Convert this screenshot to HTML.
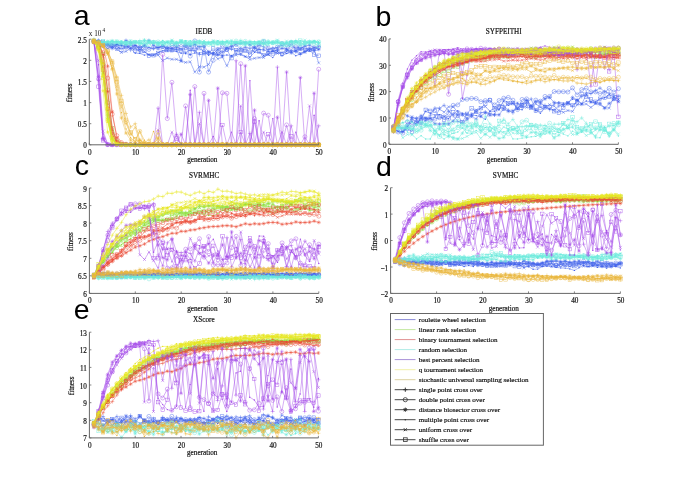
<!DOCTYPE html>
<html><head><meta charset="utf-8"><style>
html,body{margin:0;padding:0;background:#fff;}
body{width:685px;height:490px;overflow:hidden;}
svg{display:block;filter:blur(0.45px);}
</style></head><body>
<svg width="685" height="490" viewBox="0 0 685 490">

<defs>
<marker id="rw_plus" markerUnits="userSpaceOnUse" viewBox="-4 -4 8 8" refX="0" refY="0" markerWidth="8" markerHeight="8" overflow="visible"><path d="M-2.0 0H2.0M0 -2.0V2.0" stroke="#4262ea" stroke-width="0.42"/></marker>
<marker id="rw_circle" markerUnits="userSpaceOnUse" viewBox="-4 -4 8 8" refX="0" refY="0" markerWidth="8" markerHeight="8" overflow="visible"><circle r="2.0" stroke="#4262ea" stroke-width="0.42" fill="none"/></marker>
<marker id="rw_star" markerUnits="userSpaceOnUse" viewBox="-4 -4 8 8" refX="0" refY="0" markerWidth="8" markerHeight="8" overflow="visible"><path d="M-2.0 0H2.0M0 -2.0V2.0M-1.4 -1.4L1.4 1.4M-1.4 1.4L1.4 -1.4" stroke="#4262ea" stroke-width="0.42"/></marker>
<marker id="rw_dot" markerUnits="userSpaceOnUse" viewBox="-4 -4 8 8" refX="0" refY="0" markerWidth="8" markerHeight="8" overflow="visible"><circle r="0.7" fill="#4262ea"/></marker>
<marker id="rw_x" markerUnits="userSpaceOnUse" viewBox="-4 -4 8 8" refX="0" refY="0" markerWidth="8" markerHeight="8" overflow="visible"><path d="M-1.5 -1.5L1.5 1.5M-1.5 1.5L1.5 -1.5" stroke="#4262ea" stroke-width="0.42"/></marker>
<marker id="rw_square" markerUnits="userSpaceOnUse" viewBox="-4 -4 8 8" refX="0" refY="0" markerWidth="8" markerHeight="8" overflow="visible"><rect x="-1.7" y="-1.7" width="3.4" height="3.4" stroke="#4262ea" stroke-width="0.42" fill="none"/></marker>
<marker id="lr_plus" markerUnits="userSpaceOnUse" viewBox="-4 -4 8 8" refX="0" refY="0" markerWidth="8" markerHeight="8" overflow="visible"><path d="M-2.0 0H2.0M0 -2.0V2.0" stroke="#8ee040" stroke-width="0.42"/></marker>
<marker id="lr_circle" markerUnits="userSpaceOnUse" viewBox="-4 -4 8 8" refX="0" refY="0" markerWidth="8" markerHeight="8" overflow="visible"><circle r="2.0" stroke="#8ee040" stroke-width="0.42" fill="none"/></marker>
<marker id="lr_star" markerUnits="userSpaceOnUse" viewBox="-4 -4 8 8" refX="0" refY="0" markerWidth="8" markerHeight="8" overflow="visible"><path d="M-2.0 0H2.0M0 -2.0V2.0M-1.4 -1.4L1.4 1.4M-1.4 1.4L1.4 -1.4" stroke="#8ee040" stroke-width="0.42"/></marker>
<marker id="lr_dot" markerUnits="userSpaceOnUse" viewBox="-4 -4 8 8" refX="0" refY="0" markerWidth="8" markerHeight="8" overflow="visible"><circle r="0.7" fill="#8ee040"/></marker>
<marker id="lr_x" markerUnits="userSpaceOnUse" viewBox="-4 -4 8 8" refX="0" refY="0" markerWidth="8" markerHeight="8" overflow="visible"><path d="M-1.5 -1.5L1.5 1.5M-1.5 1.5L1.5 -1.5" stroke="#8ee040" stroke-width="0.42"/></marker>
<marker id="lr_square" markerUnits="userSpaceOnUse" viewBox="-4 -4 8 8" refX="0" refY="0" markerWidth="8" markerHeight="8" overflow="visible"><rect x="-1.7" y="-1.7" width="3.4" height="3.4" stroke="#8ee040" stroke-width="0.42" fill="none"/></marker>
<marker id="bt_plus" markerUnits="userSpaceOnUse" viewBox="-4 -4 8 8" refX="0" refY="0" markerWidth="8" markerHeight="8" overflow="visible"><path d="M-2.0 0H2.0M0 -2.0V2.0" stroke="#ea4a36" stroke-width="0.42"/></marker>
<marker id="bt_circle" markerUnits="userSpaceOnUse" viewBox="-4 -4 8 8" refX="0" refY="0" markerWidth="8" markerHeight="8" overflow="visible"><circle r="2.0" stroke="#ea4a36" stroke-width="0.42" fill="none"/></marker>
<marker id="bt_star" markerUnits="userSpaceOnUse" viewBox="-4 -4 8 8" refX="0" refY="0" markerWidth="8" markerHeight="8" overflow="visible"><path d="M-2.0 0H2.0M0 -2.0V2.0M-1.4 -1.4L1.4 1.4M-1.4 1.4L1.4 -1.4" stroke="#ea4a36" stroke-width="0.42"/></marker>
<marker id="bt_dot" markerUnits="userSpaceOnUse" viewBox="-4 -4 8 8" refX="0" refY="0" markerWidth="8" markerHeight="8" overflow="visible"><circle r="0.7" fill="#ea4a36"/></marker>
<marker id="bt_x" markerUnits="userSpaceOnUse" viewBox="-4 -4 8 8" refX="0" refY="0" markerWidth="8" markerHeight="8" overflow="visible"><path d="M-1.5 -1.5L1.5 1.5M-1.5 1.5L1.5 -1.5" stroke="#ea4a36" stroke-width="0.42"/></marker>
<marker id="bt_square" markerUnits="userSpaceOnUse" viewBox="-4 -4 8 8" refX="0" refY="0" markerWidth="8" markerHeight="8" overflow="visible"><rect x="-1.7" y="-1.7" width="3.4" height="3.4" stroke="#ea4a36" stroke-width="0.42" fill="none"/></marker>
<marker id="rd_plus" markerUnits="userSpaceOnUse" viewBox="-4 -4 8 8" refX="0" refY="0" markerWidth="8" markerHeight="8" overflow="visible"><path d="M-2.0 0H2.0M0 -2.0V2.0" stroke="#6aeadc" stroke-width="0.42"/></marker>
<marker id="rd_circle" markerUnits="userSpaceOnUse" viewBox="-4 -4 8 8" refX="0" refY="0" markerWidth="8" markerHeight="8" overflow="visible"><circle r="2.0" stroke="#6aeadc" stroke-width="0.42" fill="none"/></marker>
<marker id="rd_star" markerUnits="userSpaceOnUse" viewBox="-4 -4 8 8" refX="0" refY="0" markerWidth="8" markerHeight="8" overflow="visible"><path d="M-2.0 0H2.0M0 -2.0V2.0M-1.4 -1.4L1.4 1.4M-1.4 1.4L1.4 -1.4" stroke="#6aeadc" stroke-width="0.42"/></marker>
<marker id="rd_dot" markerUnits="userSpaceOnUse" viewBox="-4 -4 8 8" refX="0" refY="0" markerWidth="8" markerHeight="8" overflow="visible"><circle r="0.7" fill="#6aeadc"/></marker>
<marker id="rd_x" markerUnits="userSpaceOnUse" viewBox="-4 -4 8 8" refX="0" refY="0" markerWidth="8" markerHeight="8" overflow="visible"><path d="M-1.5 -1.5L1.5 1.5M-1.5 1.5L1.5 -1.5" stroke="#6aeadc" stroke-width="0.42"/></marker>
<marker id="rd_square" markerUnits="userSpaceOnUse" viewBox="-4 -4 8 8" refX="0" refY="0" markerWidth="8" markerHeight="8" overflow="visible"><rect x="-1.7" y="-1.7" width="3.4" height="3.4" stroke="#6aeadc" stroke-width="0.42" fill="none"/></marker>
<marker id="bp_plus" markerUnits="userSpaceOnUse" viewBox="-4 -4 8 8" refX="0" refY="0" markerWidth="8" markerHeight="8" overflow="visible"><path d="M-2.0 0H2.0M0 -2.0V2.0" stroke="#a44ae8" stroke-width="0.42"/></marker>
<marker id="bp_circle" markerUnits="userSpaceOnUse" viewBox="-4 -4 8 8" refX="0" refY="0" markerWidth="8" markerHeight="8" overflow="visible"><circle r="2.0" stroke="#a44ae8" stroke-width="0.42" fill="none"/></marker>
<marker id="bp_star" markerUnits="userSpaceOnUse" viewBox="-4 -4 8 8" refX="0" refY="0" markerWidth="8" markerHeight="8" overflow="visible"><path d="M-2.0 0H2.0M0 -2.0V2.0M-1.4 -1.4L1.4 1.4M-1.4 1.4L1.4 -1.4" stroke="#a44ae8" stroke-width="0.42"/></marker>
<marker id="bp_dot" markerUnits="userSpaceOnUse" viewBox="-4 -4 8 8" refX="0" refY="0" markerWidth="8" markerHeight="8" overflow="visible"><circle r="0.7" fill="#a44ae8"/></marker>
<marker id="bp_x" markerUnits="userSpaceOnUse" viewBox="-4 -4 8 8" refX="0" refY="0" markerWidth="8" markerHeight="8" overflow="visible"><path d="M-1.5 -1.5L1.5 1.5M-1.5 1.5L1.5 -1.5" stroke="#a44ae8" stroke-width="0.42"/></marker>
<marker id="bp_square" markerUnits="userSpaceOnUse" viewBox="-4 -4 8 8" refX="0" refY="0" markerWidth="8" markerHeight="8" overflow="visible"><rect x="-1.7" y="-1.7" width="3.4" height="3.4" stroke="#a44ae8" stroke-width="0.42" fill="none"/></marker>
<marker id="qt_plus" markerUnits="userSpaceOnUse" viewBox="-4 -4 8 8" refX="0" refY="0" markerWidth="8" markerHeight="8" overflow="visible"><path d="M-2.0 0H2.0M0 -2.0V2.0" stroke="#e6e620" stroke-width="0.42"/></marker>
<marker id="qt_circle" markerUnits="userSpaceOnUse" viewBox="-4 -4 8 8" refX="0" refY="0" markerWidth="8" markerHeight="8" overflow="visible"><circle r="2.0" stroke="#e6e620" stroke-width="0.42" fill="none"/></marker>
<marker id="qt_star" markerUnits="userSpaceOnUse" viewBox="-4 -4 8 8" refX="0" refY="0" markerWidth="8" markerHeight="8" overflow="visible"><path d="M-2.0 0H2.0M0 -2.0V2.0M-1.4 -1.4L1.4 1.4M-1.4 1.4L1.4 -1.4" stroke="#e6e620" stroke-width="0.42"/></marker>
<marker id="qt_dot" markerUnits="userSpaceOnUse" viewBox="-4 -4 8 8" refX="0" refY="0" markerWidth="8" markerHeight="8" overflow="visible"><circle r="0.7" fill="#e6e620"/></marker>
<marker id="qt_x" markerUnits="userSpaceOnUse" viewBox="-4 -4 8 8" refX="0" refY="0" markerWidth="8" markerHeight="8" overflow="visible"><path d="M-1.5 -1.5L1.5 1.5M-1.5 1.5L1.5 -1.5" stroke="#e6e620" stroke-width="0.42"/></marker>
<marker id="qt_square" markerUnits="userSpaceOnUse" viewBox="-4 -4 8 8" refX="0" refY="0" markerWidth="8" markerHeight="8" overflow="visible"><rect x="-1.7" y="-1.7" width="3.4" height="3.4" stroke="#e6e620" stroke-width="0.42" fill="none"/></marker>
<marker id="sus_plus" markerUnits="userSpaceOnUse" viewBox="-4 -4 8 8" refX="0" refY="0" markerWidth="8" markerHeight="8" overflow="visible"><path d="M-2.0 0H2.0M0 -2.0V2.0" stroke="#e9b63c" stroke-width="0.42"/></marker>
<marker id="sus_circle" markerUnits="userSpaceOnUse" viewBox="-4 -4 8 8" refX="0" refY="0" markerWidth="8" markerHeight="8" overflow="visible"><circle r="2.0" stroke="#e9b63c" stroke-width="0.42" fill="none"/></marker>
<marker id="sus_star" markerUnits="userSpaceOnUse" viewBox="-4 -4 8 8" refX="0" refY="0" markerWidth="8" markerHeight="8" overflow="visible"><path d="M-2.0 0H2.0M0 -2.0V2.0M-1.4 -1.4L1.4 1.4M-1.4 1.4L1.4 -1.4" stroke="#e9b63c" stroke-width="0.42"/></marker>
<marker id="sus_dot" markerUnits="userSpaceOnUse" viewBox="-4 -4 8 8" refX="0" refY="0" markerWidth="8" markerHeight="8" overflow="visible"><circle r="0.7" fill="#e9b63c"/></marker>
<marker id="sus_x" markerUnits="userSpaceOnUse" viewBox="-4 -4 8 8" refX="0" refY="0" markerWidth="8" markerHeight="8" overflow="visible"><path d="M-1.5 -1.5L1.5 1.5M-1.5 1.5L1.5 -1.5" stroke="#e9b63c" stroke-width="0.42"/></marker>
<marker id="sus_square" markerUnits="userSpaceOnUse" viewBox="-4 -4 8 8" refX="0" refY="0" markerWidth="8" markerHeight="8" overflow="visible"><rect x="-1.7" y="-1.7" width="3.4" height="3.4" stroke="#e9b63c" stroke-width="0.42" fill="none"/></marker>
</defs>
<polyline points="93.9,41.0 98.5,40.5 103.1,42.9 107.7,44.7 112.2,46.4 116.8,45.0 121.4,45.8 126.0,44.6 130.6,50.1 135.2,45.5 139.8,46.8 144.4,45.9 148.9,47.5 153.5,48.7 158.1,47.5 162.7,45.9 167.3,47.4 171.9,48.2 176.5,46.7 181.1,49.4 185.6,52.6 190.2,50.0 194.8,51.0 199.4,54.5 204.0,54.0 208.6,52.9 213.2,53.9 217.8,55.2 222.4,52.4 226.9,48.7 231.5,49.1 236.1,50.6 240.7,48.8 245.3,47.0 249.9,48.3 254.5,47.0 259.1,45.1 263.6,46.9 268.2,49.5 272.8,48.2 277.4,47.7 282.0,45.4 286.6,49.6 291.2,50.7 295.8,51.8 300.3,54.5 304.9,51.8 309.5,49.2 314.1,50.6 318.7,46.5" fill="none" stroke="#4262ea" stroke-width="0.45" marker-start="url(#rw_plus)" marker-mid="url(#rw_plus)" marker-end="url(#rw_plus)"/>
<polyline points="93.9,41.4 98.5,41.3 103.1,45.9 107.7,44.2 112.2,43.4 116.8,48.6 121.4,46.8 126.0,47.3 130.6,45.3 135.2,47.1 139.8,47.4 144.4,46.8 148.9,49.4 153.5,47.3 158.1,47.7 162.7,46.6 167.3,48.3 171.9,45.5 176.5,45.0 181.1,46.5 185.6,45.5 190.2,56.1 194.8,40.9 199.4,72.1 204.0,45.4 208.6,72.1 213.2,60.3 217.8,49.4 222.4,45.7 226.9,49.5 231.5,47.5 236.1,44.5 240.7,49.6 245.3,49.6 249.9,51.9 254.5,49.7 259.1,45.3 263.6,41.5 268.2,48.2 272.8,49.4 277.4,47.1 282.0,43.6 286.6,44.3 291.2,47.4 295.8,46.8 300.3,47.2 304.9,47.9 309.5,49.6 314.1,47.9 318.7,47.1" fill="none" stroke="#4262ea" stroke-width="0.45" marker-start="url(#rw_circle)" marker-mid="url(#rw_circle)" marker-end="url(#rw_circle)"/>
<polyline points="93.9,40.5 98.5,47.1 103.1,43.4 107.7,44.6 112.2,48.4 116.8,44.2 121.4,43.7 126.0,40.5 130.6,42.5 135.2,45.4 139.8,49.6 144.4,45.7 148.9,40.6 153.5,45.3 158.1,47.7 162.7,46.3 167.3,48.7 171.9,48.9 176.5,49.2 181.1,60.7 185.6,45.3 190.2,46.1 194.8,44.5 199.4,46.7 204.0,46.3 208.6,51.9 213.2,53.6 217.8,49.3 222.4,56.1 226.9,47.6 231.5,46.3 236.1,43.7 240.7,43.3 245.3,42.6 249.9,44.8 254.5,47.6 259.1,49.3 263.6,49.8 268.2,51.5 272.8,51.2 277.4,50.0 282.0,48.4 286.6,48.9 291.2,52.9 295.8,50.9 300.3,49.0 304.9,45.9 309.5,45.2 314.1,47.7 318.7,49.3" fill="none" stroke="#4262ea" stroke-width="0.45" marker-start="url(#rw_star)" marker-mid="url(#rw_star)" marker-end="url(#rw_star)"/>
<polyline points="93.9,41.2 98.5,40.5 103.1,42.7 107.7,43.6 112.2,44.3 116.8,44.8 121.4,45.4 126.0,46.9 130.6,48.2 135.2,53.2 139.8,53.4 144.4,55.1 148.9,54.5 153.5,55.0 158.1,52.7 162.7,50.9 167.3,51.0 171.9,51.1 176.5,51.6 181.1,53.2 185.6,53.5 190.2,54.5 194.8,53.0 199.4,53.0 204.0,51.6 208.6,55.3 213.2,52.3 217.8,54.4 222.4,55.6 226.9,55.0 231.5,55.5 236.1,53.8 240.7,54.9 245.3,56.7 249.9,57.2 254.5,52.4 259.1,52.6 263.6,55.5 268.2,54.5 272.8,57.6 277.4,51.5 282.0,55.7 286.6,53.5 291.2,52.0 295.8,55.8 300.3,54.0 304.9,51.2 309.5,50.8 314.1,51.1 318.7,49.6" fill="none" stroke="#4262ea" stroke-width="0.45" marker-start="url(#rw_dot)" marker-mid="url(#rw_dot)" marker-end="url(#rw_dot)"/>
<polyline points="93.9,41.1 98.5,45.7 103.1,44.8 107.7,48.3 112.2,46.8 116.8,49.3 121.4,52.5 126.0,51.4 130.6,48.0 135.2,48.0 139.8,52.0 144.4,51.8 148.9,54.8 153.5,55.3 158.1,55.1 162.7,60.6 167.3,58.0 171.9,59.3 176.5,59.3 181.1,61.2 185.6,62.4 190.2,61.8 194.8,72.1 199.4,66.7 204.0,67.1 208.6,64.5 213.2,53.7 217.8,58.9 222.4,57.1 226.9,65.8 231.5,56.3 236.1,55.1 240.7,53.8 245.3,56.4 249.9,59.4 254.5,58.3 259.1,57.6 263.6,57.5 268.2,54.2 272.8,50.6 277.4,53.4 282.0,52.5 286.6,51.4 291.2,51.2 295.8,50.4 300.3,53.2 304.9,52.3 309.5,48.7 314.1,49.4 318.7,62.9" fill="none" stroke="#4262ea" stroke-width="0.45" marker-start="url(#rw_x)" marker-mid="url(#rw_x)" marker-end="url(#rw_x)"/>
<polyline points="93.9,41.1 98.5,45.2 103.1,41.8 107.7,46.6 112.2,45.6 116.8,46.4 121.4,49.9 126.0,46.5 130.6,46.8 135.2,50.8 139.8,49.2 144.4,50.9 148.9,55.7 153.5,55.3 158.1,52.8 162.7,50.5 167.3,50.2 171.9,50.3 176.5,49.3 181.1,50.4 185.6,47.7 190.2,48.6 194.8,48.7 199.4,48.2 204.0,51.7 208.6,53.0 213.2,48.5 217.8,54.0 222.4,50.1 226.9,49.5 231.5,58.2 236.1,50.3 240.7,52.0 245.3,50.8 249.9,54.5 254.5,49.8 259.1,51.4 263.6,54.9 268.2,53.7 272.8,53.4 277.4,51.9 282.0,54.2 286.6,51.8 291.2,42.8 295.8,49.0 300.3,48.9 304.9,50.3 309.5,50.0 314.1,54.6 318.7,55.7" fill="none" stroke="#4262ea" stroke-width="0.45" marker-start="url(#rw_square)" marker-mid="url(#rw_square)" marker-end="url(#rw_square)"/>
<polyline points="93.9,41.6 98.5,47.7 103.1,74.2 107.7,118.1 112.2,139.2 116.8,143.8 121.4,144.6 126.0,144.8 130.6,144.8 135.2,144.8 139.8,144.8 144.4,144.8 148.9,144.8 153.5,144.8 158.1,144.8 162.7,144.8 167.3,144.8 171.9,144.8 176.5,144.8 181.1,144.8 185.6,144.8 190.2,144.8 194.8,144.8 199.4,144.8 204.0,144.8 208.6,144.8 213.2,144.8 217.8,144.8 222.4,144.8 226.9,144.8 231.5,144.8 236.1,144.8 240.7,144.8 245.3,144.8 249.9,144.8 254.5,144.8 259.1,144.8 263.6,144.8 268.2,144.8 272.8,144.8 277.4,144.8 282.0,144.8 286.6,144.8 291.2,144.8 295.8,144.8 300.3,144.8 304.9,144.8 309.5,144.8 314.1,144.8 318.7,144.8" fill="none" stroke="#8ee040" stroke-width="0.45" marker-start="url(#lr_plus)" marker-mid="url(#lr_plus)" marker-end="url(#lr_plus)"/>
<polyline points="93.9,40.1 98.5,46.2 103.1,64.5 107.7,102.6 112.2,132.0 116.8,141.9 121.4,144.2 126.0,144.7 130.6,144.8 135.2,144.8 139.8,144.8 144.4,144.8 148.9,144.8 153.5,144.8 158.1,144.8 162.7,144.8 167.3,144.8 171.9,144.8 176.5,144.8 181.1,144.8 185.6,144.8 190.2,144.8 194.8,144.8 199.4,144.8 204.0,144.8 208.6,144.8 213.2,144.8 217.8,144.8 222.4,144.8 226.9,144.8 231.5,144.8 236.1,144.8 240.7,144.8 245.3,144.8 249.9,144.8 254.5,144.8 259.1,144.8 263.6,144.8 268.2,144.8 272.8,144.8 277.4,144.8 282.0,144.8 286.6,144.8 291.2,144.8 295.8,144.8 300.3,144.8 304.9,144.8 309.5,144.8 314.1,144.8 318.7,144.8" fill="none" stroke="#8ee040" stroke-width="0.45" marker-start="url(#lr_circle)" marker-mid="url(#lr_circle)" marker-end="url(#lr_circle)"/>
<polyline points="93.9,41.3 98.5,47.9 103.1,73.1 107.7,115.3 112.2,137.8 116.8,143.5 121.4,144.6 126.0,144.8 130.6,144.8 135.2,144.8 139.8,144.8 144.4,144.8 148.9,144.8 153.5,144.8 158.1,144.8 162.7,144.8 167.3,144.8 171.9,144.8 176.5,144.8 181.1,144.8 185.6,144.8 190.2,144.8 194.8,144.8 199.4,144.8 204.0,144.8 208.6,144.8 213.2,144.8 217.8,144.8 222.4,144.8 226.9,144.8 231.5,144.8 236.1,144.8 240.7,144.8 245.3,144.8 249.9,144.8 254.5,144.8 259.1,144.8 263.6,144.8 268.2,144.8 272.8,144.8 277.4,144.8 282.0,144.8 286.6,144.8 291.2,144.8 295.8,144.8 300.3,144.8 304.9,144.8 309.5,144.8 314.1,144.8 318.7,144.8" fill="none" stroke="#8ee040" stroke-width="0.45" marker-start="url(#lr_star)" marker-mid="url(#lr_star)" marker-end="url(#lr_star)"/>
<polyline points="93.9,41.3 98.5,45.7 103.1,66.3 107.7,110.5 112.2,137.2 116.8,143.5 121.4,144.6 126.0,144.8 130.6,144.8 135.2,144.8 139.8,144.8 144.4,144.8 148.9,144.8 153.5,144.8 158.1,144.8 162.7,144.8 167.3,144.8 171.9,144.8 176.5,144.8 181.1,144.8 185.6,144.8 190.2,144.8 194.8,144.8 199.4,144.8 204.0,144.8 208.6,144.8 213.2,144.8 217.8,144.8 222.4,144.8 226.9,144.8 231.5,144.8 236.1,144.8 240.7,144.8 245.3,144.8 249.9,144.8 254.5,144.8 259.1,144.8 263.6,144.8 268.2,144.8 272.8,144.8 277.4,144.8 282.0,144.8 286.6,144.8 291.2,144.8 295.8,144.8 300.3,144.8 304.9,144.8 309.5,144.8 314.1,144.8 318.7,144.8" fill="none" stroke="#8ee040" stroke-width="0.45" marker-start="url(#lr_dot)" marker-mid="url(#lr_dot)" marker-end="url(#lr_dot)"/>
<polyline points="93.9,40.2 98.5,49.1 103.1,77.2 107.7,119.1 112.2,139.0 116.8,143.7 121.4,144.6 126.0,144.8 130.6,144.8 135.2,144.8 139.8,144.8 144.4,144.8 148.9,144.8 153.5,144.8 158.1,144.8 162.7,144.8 167.3,144.8 171.9,144.8 176.5,144.8 181.1,144.8 185.6,144.8 190.2,144.8 194.8,144.8 199.4,144.8 204.0,144.8 208.6,144.8 213.2,144.8 217.8,144.8 222.4,144.8 226.9,144.8 231.5,144.8 236.1,144.8 240.7,144.8 245.3,144.8 249.9,144.8 254.5,144.8 259.1,144.8 263.6,144.8 268.2,144.8 272.8,144.8 277.4,144.8 282.0,144.8 286.6,144.8 291.2,144.8 295.8,144.8 300.3,144.8 304.9,144.8 309.5,144.8 314.1,144.8 318.7,144.8" fill="none" stroke="#8ee040" stroke-width="0.45" marker-start="url(#lr_x)" marker-mid="url(#lr_x)" marker-end="url(#lr_x)"/>
<polyline points="93.9,41.4 98.5,43.3 103.1,54.1 107.7,89.8 112.2,128.6 116.8,141.7 121.4,144.3 126.0,144.7 130.6,144.8 135.2,144.8 139.8,144.8 144.4,144.8 148.9,144.8 153.5,144.8 158.1,144.8 162.7,144.8 167.3,144.8 171.9,144.8 176.5,144.8 181.1,144.8 185.6,144.8 190.2,144.8 194.8,144.8 199.4,144.8 204.0,144.8 208.6,144.8 213.2,144.8 217.8,144.8 222.4,144.8 226.9,144.8 231.5,144.8 236.1,144.8 240.7,144.8 245.3,144.8 249.9,144.8 254.5,144.8 259.1,144.8 263.6,144.8 268.2,144.8 272.8,144.8 277.4,144.8 282.0,144.8 286.6,144.8 291.2,144.8 295.8,144.8 300.3,144.8 304.9,144.8 309.5,144.8 314.1,144.8 318.7,144.8" fill="none" stroke="#8ee040" stroke-width="0.45" marker-start="url(#lr_square)" marker-mid="url(#lr_square)" marker-end="url(#lr_square)"/>
<polyline points="93.9,41.4 98.5,43.3 103.1,54.5 107.7,91.4 112.2,129.9 116.8,142.1 121.4,144.4 126.0,144.7 130.6,144.8 135.2,144.8 139.8,144.8 144.4,144.8 148.9,144.8 153.5,144.8 158.1,144.8 162.7,144.8 167.3,144.8 171.9,144.8 176.5,144.8 181.1,144.8 185.6,144.8 190.2,144.8 194.8,144.8 199.4,144.8 204.0,144.8 208.6,144.8 213.2,144.8 217.8,144.8 222.4,144.8 226.9,144.8 231.5,144.8 236.1,144.8 240.7,144.8 245.3,144.8 249.9,144.8 254.5,144.8 259.1,144.8 263.6,144.8 268.2,144.8 272.8,144.8 277.4,144.8 282.0,144.8 286.6,144.8 291.2,144.8 295.8,144.8 300.3,144.8 304.9,144.8 309.5,144.8 314.1,144.8 318.7,144.8" fill="none" stroke="#ea4a36" stroke-width="0.45" marker-start="url(#bt_plus)" marker-mid="url(#bt_plus)" marker-end="url(#bt_plus)"/>
<polyline points="93.9,40.9 98.5,43.7 103.1,52.7 107.7,78.1 112.2,114.2 116.8,135.6 121.4,142.5 126.0,144.2 130.6,144.7 135.2,144.8 139.8,144.8 144.4,144.8 148.9,144.8 153.5,144.8 158.1,144.8 162.7,144.8 167.3,144.8 171.9,144.8 176.5,144.8 181.1,144.8 185.6,144.8 190.2,144.8 194.8,144.8 199.4,144.8 204.0,144.8 208.6,144.8 213.2,144.8 217.8,144.8 222.4,144.8 226.9,144.8 231.5,144.8 236.1,144.8 240.7,144.8 245.3,144.8 249.9,144.8 254.5,144.8 259.1,144.8 263.6,144.8 268.2,144.8 272.8,144.8 277.4,144.8 282.0,144.8 286.6,144.8 291.2,144.8 295.8,144.8 300.3,144.8 304.9,144.8 309.5,144.8 314.1,144.8 318.7,144.8" fill="none" stroke="#ea4a36" stroke-width="0.45" marker-start="url(#bt_circle)" marker-mid="url(#bt_circle)" marker-end="url(#bt_circle)"/>
<polyline points="93.9,41.2 98.5,41.9 103.1,45.9 107.7,66.2 112.2,111.8 116.8,138.0 121.4,143.7 126.0,144.6 130.6,144.8 135.2,144.8 139.8,144.8 144.4,144.8 148.9,144.8 153.5,144.8 158.1,144.8 162.7,144.8 167.3,144.8 171.9,144.8 176.5,144.8 181.1,144.8 185.6,144.8 190.2,144.8 194.8,144.8 199.4,144.8 204.0,144.8 208.6,144.8 213.2,144.8 217.8,144.8 222.4,144.8 226.9,144.8 231.5,144.8 236.1,144.8 240.7,144.8 245.3,144.8 249.9,144.8 254.5,144.8 259.1,144.8 263.6,144.8 268.2,144.8 272.8,144.8 277.4,144.8 282.0,144.8 286.6,144.8 291.2,144.8 295.8,144.8 300.3,144.8 304.9,144.8 309.5,144.8 314.1,144.8 318.7,144.8" fill="none" stroke="#ea4a36" stroke-width="0.45" marker-start="url(#bt_star)" marker-mid="url(#bt_star)" marker-end="url(#bt_star)"/>
<polyline points="93.9,41.5 98.5,45.4 103.1,63.3 107.7,104.1 112.2,134.1 116.8,142.7 121.4,144.4 126.0,144.7 130.6,144.8 135.2,144.8 139.8,144.8 144.4,144.8 148.9,144.8 153.5,144.8 158.1,144.8 162.7,144.8 167.3,144.8 171.9,144.8 176.5,144.8 181.1,144.8 185.6,144.8 190.2,144.8 194.8,144.8 199.4,144.8 204.0,144.8 208.6,144.8 213.2,144.8 217.8,144.8 222.4,144.8 226.9,144.8 231.5,144.8 236.1,144.8 240.7,144.8 245.3,144.8 249.9,144.8 254.5,144.8 259.1,144.8 263.6,144.8 268.2,144.8 272.8,144.8 277.4,144.8 282.0,144.8 286.6,144.8 291.2,144.8 295.8,144.8 300.3,144.8 304.9,144.8 309.5,144.8 314.1,144.8 318.7,144.8" fill="none" stroke="#ea4a36" stroke-width="0.45" marker-start="url(#bt_dot)" marker-mid="url(#bt_dot)" marker-end="url(#bt_dot)"/>
<polyline points="93.9,41.3 98.5,44.1 103.1,56.7 107.7,91.6 112.2,127.5 116.8,141.0 121.4,144.1 126.0,144.7 130.6,144.8 135.2,144.8 139.8,144.8 144.4,144.8 148.9,144.8 153.5,144.8 158.1,144.8 162.7,144.8 167.3,144.8 171.9,144.8 176.5,144.8 181.1,144.8 185.6,144.8 190.2,144.8 194.8,144.8 199.4,144.8 204.0,144.8 208.6,144.8 213.2,144.8 217.8,144.8 222.4,144.8 226.9,144.8 231.5,144.8 236.1,144.8 240.7,144.8 245.3,144.8 249.9,144.8 254.5,144.8 259.1,144.8 263.6,144.8 268.2,144.8 272.8,144.8 277.4,144.8 282.0,144.8 286.6,144.8 291.2,144.8 295.8,144.8 300.3,144.8 304.9,144.8 309.5,144.8 314.1,144.8 318.7,144.8" fill="none" stroke="#ea4a36" stroke-width="0.45" marker-start="url(#bt_x)" marker-mid="url(#bt_x)" marker-end="url(#bt_x)"/>
<polyline points="93.9,41.6 98.5,47.6 103.1,69.5 107.7,108.8 112.2,134.5 116.8,142.5 121.4,144.3 126.0,144.7 130.6,144.8 135.2,144.8 139.8,144.8 144.4,144.8 148.9,144.8 153.5,144.8 158.1,144.8 162.7,144.8 167.3,144.8 171.9,144.8 176.5,144.8 181.1,144.8 185.6,144.8 190.2,144.8 194.8,144.8 199.4,144.8 204.0,144.8 208.6,144.8 213.2,144.8 217.8,144.8 222.4,144.8 226.9,144.8 231.5,144.8 236.1,144.8 240.7,144.8 245.3,144.8 249.9,144.8 254.5,144.8 259.1,144.8 263.6,144.8 268.2,144.8 272.8,144.8 277.4,144.8 282.0,144.8 286.6,144.8 291.2,144.8 295.8,144.8 300.3,144.8 304.9,144.8 309.5,144.8 314.1,144.8 318.7,144.8" fill="none" stroke="#ea4a36" stroke-width="0.45" marker-start="url(#bt_square)" marker-mid="url(#bt_square)" marker-end="url(#bt_square)"/>
<polyline points="93.9,40.7 98.5,41.3 103.1,41.8 107.7,42.6 112.2,41.3 116.8,41.9 121.4,42.0 126.0,45.0 130.6,42.6 135.2,41.8 139.8,40.7 144.4,40.4 148.9,40.9 153.5,43.6 158.1,44.7 162.7,41.8 167.3,42.4 171.9,41.4 176.5,42.5 181.1,42.2 185.6,44.0 190.2,41.9 194.8,42.9 199.4,42.0 204.0,41.9 208.6,42.5 213.2,42.1 217.8,42.4 222.4,41.6 226.9,41.9 231.5,43.0 236.1,43.0 240.7,40.5 245.3,42.5 249.9,41.3 254.5,42.0 259.1,43.0 263.6,43.2 268.2,42.3 272.8,42.1 277.4,41.7 282.0,43.7 286.6,43.0 291.2,42.5 295.8,40.7 300.3,44.9 304.9,41.9 309.5,43.0 314.1,41.9 318.7,42.9" fill="none" stroke="#6aeadc" stroke-width="0.45" marker-start="url(#rd_plus)" marker-mid="url(#rd_plus)" marker-end="url(#rd_plus)"/>
<polyline points="93.9,41.6 98.5,42.8 103.1,42.9 107.7,44.0 112.2,42.7 116.8,43.5 121.4,44.1 126.0,43.3 130.6,43.5 135.2,42.5 139.8,43.3 144.4,43.8 148.9,41.7 153.5,42.2 158.1,41.9 162.7,42.6 167.3,43.4 171.9,43.7 176.5,43.5 181.1,42.3 185.6,43.1 190.2,44.8 194.8,43.3 199.4,44.7 204.0,43.1 208.6,44.5 213.2,44.6 217.8,43.1 222.4,43.3 226.9,45.0 231.5,42.5 236.1,41.0 240.7,44.8 245.3,41.3 249.9,44.0 254.5,43.8 259.1,43.4 263.6,44.8 268.2,41.9 272.8,42.7 277.4,44.0 282.0,43.5 286.6,44.9 291.2,43.6 295.8,42.3 300.3,45.1 304.9,43.7 309.5,43.1 314.1,42.1 318.7,41.8" fill="none" stroke="#6aeadc" stroke-width="0.45" marker-start="url(#rd_circle)" marker-mid="url(#rd_circle)" marker-end="url(#rd_circle)"/>
<polyline points="93.9,41.7 98.5,43.0 103.1,43.0 107.7,41.5 112.2,40.8 116.8,42.3 121.4,42.8 126.0,42.0 130.6,44.6 135.2,42.6 139.8,43.7 144.4,40.1 148.9,41.9 153.5,42.5 158.1,42.8 162.7,45.3 167.3,41.9 171.9,40.9 176.5,43.4 181.1,41.9 185.6,41.9 190.2,44.3 194.8,41.6 199.4,41.2 204.0,42.4 208.6,42.7 213.2,41.8 217.8,44.3 222.4,42.5 226.9,41.5 231.5,43.9 236.1,41.6 240.7,43.1 245.3,44.8 249.9,42.7 254.5,43.7 259.1,42.3 263.6,43.9 268.2,41.5 272.8,43.4 277.4,42.3 282.0,43.3 286.6,43.0 291.2,41.4 295.8,42.4 300.3,43.0 304.9,44.0 309.5,41.4 314.1,41.9 318.7,43.0" fill="none" stroke="#6aeadc" stroke-width="0.45" marker-start="url(#rd_star)" marker-mid="url(#rd_star)" marker-end="url(#rd_star)"/>
<polyline points="93.9,40.8 98.5,42.9 103.1,41.6 107.7,41.7 112.2,42.8 116.8,41.2 121.4,41.2 126.0,41.8 130.6,40.9 135.2,42.3 139.8,42.1 144.4,41.5 148.9,42.0 153.5,41.1 158.1,43.3 162.7,40.5 167.3,42.8 171.9,42.2 176.5,43.4 181.1,41.3 185.6,40.6 190.2,40.8 194.8,41.1 199.4,43.6 204.0,42.8 208.6,42.5 213.2,43.0 217.8,40.8 222.4,41.8 226.9,42.0 231.5,41.5 236.1,43.0 240.7,42.9 245.3,42.9 249.9,41.5 254.5,41.6 259.1,41.4 263.6,40.8 268.2,43.4 272.8,42.6 277.4,41.8 282.0,43.4 286.6,42.5 291.2,40.9 295.8,40.8 300.3,40.8 304.9,41.9 309.5,42.2 314.1,40.8 318.7,42.4" fill="none" stroke="#6aeadc" stroke-width="0.45" marker-start="url(#rd_dot)" marker-mid="url(#rd_dot)" marker-end="url(#rd_dot)"/>
<polyline points="93.9,40.6 98.5,42.5 103.1,41.9 107.7,41.2 112.2,41.3 116.8,41.7 121.4,41.3 126.0,43.5 130.6,42.8 135.2,41.7 139.8,42.8 144.4,43.3 148.9,43.1 153.5,42.8 158.1,42.0 162.7,42.9 167.3,41.6 171.9,40.1 176.5,42.0 181.1,40.5 185.6,41.5 190.2,43.0 194.8,42.1 199.4,42.9 204.0,41.0 208.6,43.1 213.2,40.5 217.8,41.2 222.4,44.0 226.9,41.0 231.5,40.2 236.1,42.7 240.7,40.8 245.3,43.7 249.9,41.6 254.5,43.6 259.1,41.3 263.6,43.7 268.2,44.6 272.8,41.4 277.4,40.0 282.0,42.5 286.6,41.0 291.2,41.7 295.8,42.2 300.3,41.2 304.9,40.1 309.5,43.2 314.1,41.3 318.7,41.5" fill="none" stroke="#6aeadc" stroke-width="0.45" marker-start="url(#rd_x)" marker-mid="url(#rd_x)" marker-end="url(#rd_x)"/>
<polyline points="93.9,40.9 98.5,44.2 103.1,41.4 107.7,43.2 112.2,43.4 116.8,41.6 121.4,43.0 126.0,42.9 130.6,41.6 135.2,41.9 139.8,42.3 144.4,44.7 148.9,44.9 153.5,42.0 158.1,44.2 162.7,43.1 167.3,44.3 171.9,43.4 176.5,44.6 181.1,41.5 185.6,44.3 190.2,43.3 194.8,43.4 199.4,41.9 204.0,44.7 208.6,43.2 213.2,43.4 217.8,42.7 222.4,42.7 226.9,43.7 231.5,43.0 236.1,43.6 240.7,42.7 245.3,43.3 249.9,43.9 254.5,43.2 259.1,42.8 263.6,40.8 268.2,43.7 272.8,42.9 277.4,41.7 282.0,45.4 286.6,45.1 291.2,44.5 295.8,43.3 300.3,40.6 304.9,42.8 309.5,41.9 314.1,43.4 318.7,45.8" fill="none" stroke="#6aeadc" stroke-width="0.45" marker-start="url(#rd_square)" marker-mid="url(#rd_square)" marker-end="url(#rd_square)"/>
<polyline points="93.9,41.9 98.5,80.0 103.1,139.2 107.7,144.6 112.2,144.8 116.8,144.8 121.4,144.8 126.0,144.8 130.6,144.8 135.2,144.8 139.8,144.8 144.4,144.8 148.9,144.8 153.5,144.8 158.1,108.1 162.7,144.8 167.3,144.8 171.9,144.8 176.5,134.2 181.1,144.8 185.6,144.8 190.2,144.8 194.8,144.8 199.4,112.3 204.0,144.8 208.6,144.8 213.2,144.8 217.8,144.8 222.4,144.8 226.9,144.8 231.5,144.8 236.1,60.7 240.7,144.8 245.3,144.8 249.9,133.4 254.5,144.8 259.1,144.8 263.6,144.8 268.2,144.8 272.8,144.8 277.4,67.1 282.0,144.8 286.6,144.8 291.2,125.8 295.8,144.8 300.3,144.8 304.9,144.8 309.5,144.8 314.1,144.8 318.7,125.8" fill="none" stroke="#a44ae8" stroke-width="0.45" marker-start="url(#bp_plus)" marker-mid="url(#bp_plus)" marker-end="url(#bp_plus)"/>
<polyline points="93.9,42.0 98.5,78.8 103.1,138.9 107.7,144.6 112.2,144.8 116.8,144.8 121.4,144.8 126.0,144.8 130.6,144.8 135.2,144.8 139.8,144.8 144.4,144.8 148.9,144.8 153.5,144.8 158.1,144.8 162.7,54.4 167.3,118.6 171.9,82.3 176.5,136.4 181.1,144.8 185.6,105.9 190.2,144.8 194.8,86.5 199.4,144.8 204.0,93.3 208.6,144.8 213.2,144.8 217.8,144.8 222.4,92.8 226.9,93.3 231.5,144.8 236.1,144.8 240.7,63.7 245.3,144.8 249.9,144.8 254.5,118.6 259.1,144.8 263.6,113.1 268.2,115.2 272.8,144.8 277.4,144.8 282.0,144.8 286.6,124.9 291.2,144.8 295.8,144.8 300.3,144.8 304.9,136.8 309.5,144.8 314.1,144.8 318.7,69.2" fill="none" stroke="#a44ae8" stroke-width="0.45" marker-start="url(#bp_circle)" marker-mid="url(#bp_circle)" marker-end="url(#bp_circle)"/>
<polyline points="93.9,40.7 98.5,76.5 103.1,138.3 107.7,144.6 112.2,144.8 116.8,144.8 121.4,144.8 126.0,144.8 130.6,144.8 135.2,144.8 139.8,144.8 144.4,144.8 148.9,144.8 153.5,144.8 158.1,144.8 162.7,144.8 167.3,144.8 171.9,144.8 176.5,144.8 181.1,134.2 185.6,144.8 190.2,94.5 194.8,144.8 199.4,144.8 204.0,144.8 208.6,100.4 213.2,144.8 217.8,88.2 222.4,144.8 226.9,144.8 231.5,144.8 236.1,144.8 240.7,144.8 245.3,65.8 249.9,144.8 254.5,110.2 259.1,144.8 263.6,144.8 268.2,144.8 272.8,144.8 277.4,117.3 282.0,144.8 286.6,72.1 291.2,144.8 295.8,144.8 300.3,77.6 304.9,144.8 309.5,144.8 314.1,93.3 318.7,144.8" fill="none" stroke="#a44ae8" stroke-width="0.45" marker-start="url(#bp_star)" marker-mid="url(#bp_star)" marker-end="url(#bp_star)"/>
<polyline points="93.9,41.8 98.5,64.8 103.1,133.9 107.7,144.4 112.2,144.8 116.8,144.8 121.4,144.8 126.0,144.8 130.6,144.8 135.2,144.8 139.8,144.8 144.4,144.8 148.9,144.8 153.5,144.8 158.1,144.8 162.7,144.8 167.3,144.8 171.9,144.8 176.5,144.8 181.1,144.8 185.6,144.8 190.2,90.3 194.8,144.8 199.4,144.8 204.0,144.8 208.6,144.8 213.2,136.4 217.8,144.8 222.4,144.8 226.9,144.8 231.5,132.1 236.1,144.8 240.7,144.8 245.3,144.8 249.9,80.6 254.5,144.8 259.1,120.7 263.6,144.8 268.2,144.8 272.8,118.6 277.4,144.8 282.0,144.8 286.6,144.8 291.2,144.8 295.8,132.1 300.3,144.8 304.9,144.8 309.5,144.8 314.1,115.2 318.7,144.8" fill="none" stroke="#a44ae8" stroke-width="0.45" marker-start="url(#bp_dot)" marker-mid="url(#bp_dot)" marker-end="url(#bp_dot)"/>
<polyline points="93.9,41.8 98.5,60.4 103.1,131.1 107.7,144.2 112.2,144.8 116.8,144.8 121.4,144.8 126.0,144.8 130.6,144.8 135.2,144.8 139.8,144.8 144.4,144.8 148.9,144.8 153.5,144.8 158.1,130.0 162.7,144.8 167.3,144.8 171.9,132.1 176.5,144.8 181.1,144.8 185.6,144.8 190.2,144.8 194.8,144.8 199.4,123.7 204.0,144.8 208.6,144.8 213.2,144.8 217.8,144.8 222.4,144.8 226.9,144.8 231.5,144.8 236.1,144.8 240.7,105.9 245.3,144.8 249.9,144.8 254.5,144.8 259.1,144.8 263.6,132.1 268.2,144.8 272.8,144.8 277.4,144.8 282.0,132.1 286.6,144.8 291.2,144.8 295.8,144.8 300.3,144.8 304.9,144.8 309.5,105.9 314.1,144.8 318.7,144.8" fill="none" stroke="#a44ae8" stroke-width="0.45" marker-start="url(#bp_x)" marker-mid="url(#bp_x)" marker-end="url(#bp_x)"/>
<polyline points="93.9,41.8 98.5,86.6 103.1,140.4 107.7,144.6 112.2,144.8 116.8,144.8 121.4,144.8 126.0,144.8 130.6,144.8 135.2,144.8 139.8,144.8 144.4,144.8 148.9,144.8 153.5,144.8 158.1,144.8 162.7,144.8 167.3,144.8 171.9,144.8 176.5,138.5 181.1,144.8 185.6,144.8 190.2,144.8 194.8,144.8 199.4,144.8 204.0,144.8 208.6,144.8 213.2,144.8 217.8,144.8 222.4,124.9 226.9,144.8 231.5,144.8 236.1,144.8 240.7,132.1 245.3,144.8 249.9,144.8 254.5,121.6 259.1,144.8 263.6,144.8 268.2,134.2 272.8,144.8 277.4,144.8 282.0,144.8 286.6,144.8 291.2,136.4 295.8,144.8 300.3,144.8 304.9,144.8 309.5,144.8 314.1,144.8 318.7,144.8" fill="none" stroke="#a44ae8" stroke-width="0.45" marker-start="url(#bp_square)" marker-mid="url(#bp_square)" marker-end="url(#bp_square)"/>
<polyline points="93.9,41.5 98.5,47.9 103.1,75.6 107.7,120.0 112.2,139.9 116.8,144.0 121.4,144.7 126.0,144.8 130.6,144.8 135.2,144.8 139.8,144.8 144.4,144.8 148.9,144.8 153.5,144.8 158.1,144.8 162.7,144.8 167.3,144.8 171.9,144.8 176.5,144.8 181.1,144.8 185.6,144.8 190.2,144.8 194.8,144.8 199.4,144.8 204.0,144.8 208.6,144.8 213.2,144.8 217.8,144.8 222.4,144.8 226.9,144.8 231.5,144.8 236.1,144.8 240.7,144.8 245.3,144.8 249.9,144.8 254.5,144.8 259.1,144.8 263.6,144.8 268.2,144.8 272.8,144.8 277.4,144.8 282.0,144.8 286.6,144.8 291.2,144.8 295.8,144.8 300.3,144.8 304.9,144.8 309.5,144.8 314.1,144.8 318.7,144.8" fill="none" stroke="#e6e620" stroke-width="0.45" marker-start="url(#qt_plus)" marker-mid="url(#qt_plus)" marker-end="url(#qt_plus)"/>
<polyline points="93.9,42.1 98.5,44.2 103.1,61.9 107.7,109.5 112.2,138.3 116.8,143.9 121.4,144.7 126.0,144.8 130.6,144.8 135.2,144.8 139.8,144.8 144.4,144.8 148.9,144.8 153.5,144.8 158.1,144.8 162.7,144.8 167.3,144.8 171.9,144.8 176.5,144.8 181.1,144.8 185.6,144.8 190.2,144.8 194.8,144.8 199.4,144.8 204.0,144.8 208.6,144.8 213.2,144.8 217.8,144.8 222.4,144.8 226.9,144.8 231.5,144.8 236.1,144.8 240.7,144.8 245.3,144.8 249.9,144.8 254.5,144.8 259.1,144.8 263.6,144.8 268.2,144.8 272.8,144.8 277.4,144.8 282.0,144.8 286.6,144.8 291.2,144.8 295.8,144.8 300.3,144.8 304.9,144.8 309.5,144.8 314.1,144.8 318.7,144.8" fill="none" stroke="#e6e620" stroke-width="0.45" marker-start="url(#qt_circle)" marker-mid="url(#qt_circle)" marker-end="url(#qt_circle)"/>
<polyline points="93.9,41.0 98.5,51.2 103.1,90.8 107.7,132.1 112.2,143.0 116.8,144.6 121.4,144.8 126.0,144.8 130.6,144.8 135.2,144.8 139.8,144.8 144.4,144.8 148.9,144.8 153.5,144.8 158.1,144.8 162.7,144.8 167.3,144.8 171.9,144.8 176.5,144.8 181.1,144.8 185.6,144.8 190.2,144.8 194.8,144.8 199.4,144.8 204.0,144.8 208.6,144.8 213.2,144.8 217.8,144.8 222.4,144.8 226.9,144.8 231.5,144.8 236.1,144.8 240.7,144.8 245.3,144.8 249.9,144.8 254.5,144.8 259.1,144.8 263.6,144.8 268.2,144.8 272.8,144.8 277.4,144.8 282.0,144.8 286.6,144.8 291.2,144.8 295.8,144.8 300.3,144.8 304.9,144.8 309.5,144.8 314.1,144.8 318.7,144.8" fill="none" stroke="#e6e620" stroke-width="0.45" marker-start="url(#qt_star)" marker-mid="url(#qt_star)" marker-end="url(#qt_star)"/>
<polyline points="93.9,41.4 98.5,46.9 103.1,74.7 107.7,122.0 112.2,141.0 116.8,144.3 121.4,144.7 126.0,144.8 130.6,144.8 135.2,144.8 139.8,144.8 144.4,144.8 148.9,144.8 153.5,144.8 158.1,144.8 162.7,144.8 167.3,144.8 171.9,144.8 176.5,144.8 181.1,144.8 185.6,144.8 190.2,144.8 194.8,144.8 199.4,144.8 204.0,144.8 208.6,144.8 213.2,144.8 217.8,144.8 222.4,144.8 226.9,144.8 231.5,144.8 236.1,144.8 240.7,144.8 245.3,144.8 249.9,144.8 254.5,144.8 259.1,144.8 263.6,144.8 268.2,144.8 272.8,144.8 277.4,144.8 282.0,144.8 286.6,144.8 291.2,144.8 295.8,144.8 300.3,144.8 304.9,144.8 309.5,144.8 314.1,144.8 318.7,144.8" fill="none" stroke="#e6e620" stroke-width="0.45" marker-start="url(#qt_dot)" marker-mid="url(#qt_dot)" marker-end="url(#qt_dot)"/>
<polyline points="93.9,40.6 98.5,45.0 103.1,63.5 107.7,107.7 112.2,136.6 116.8,143.4 121.4,144.6 126.0,144.8 130.6,144.8 135.2,144.8 139.8,144.8 144.4,144.8 148.9,144.8 153.5,144.8 158.1,144.8 162.7,144.8 167.3,144.8 171.9,144.8 176.5,144.8 181.1,144.8 185.6,144.8 190.2,144.8 194.8,144.8 199.4,144.8 204.0,144.8 208.6,144.8 213.2,144.8 217.8,144.8 222.4,144.8 226.9,144.8 231.5,144.8 236.1,144.8 240.7,144.8 245.3,144.8 249.9,144.8 254.5,144.8 259.1,144.8 263.6,144.8 268.2,144.8 272.8,144.8 277.4,144.8 282.0,144.8 286.6,144.8 291.2,144.8 295.8,144.8 300.3,144.8 304.9,144.8 309.5,144.8 314.1,144.8 318.7,144.8" fill="none" stroke="#e6e620" stroke-width="0.45" marker-start="url(#qt_x)" marker-mid="url(#qt_x)" marker-end="url(#qt_x)"/>
<polyline points="93.9,41.3 98.5,49.1 103.1,78.1 107.7,120.5 112.2,139.6 116.8,143.9 121.4,144.6 126.0,144.8 130.6,144.8 135.2,144.8 139.8,144.8 144.4,144.8 148.9,144.8 153.5,144.8 158.1,144.8 162.7,144.8 167.3,144.8 171.9,144.8 176.5,144.8 181.1,144.8 185.6,144.8 190.2,144.8 194.8,144.8 199.4,144.8 204.0,144.8 208.6,144.8 213.2,144.8 217.8,144.8 222.4,144.8 226.9,144.8 231.5,144.8 236.1,144.8 240.7,144.8 245.3,144.8 249.9,144.8 254.5,144.8 259.1,144.8 263.6,144.8 268.2,144.8 272.8,144.8 277.4,144.8 282.0,144.8 286.6,144.8 291.2,144.8 295.8,144.8 300.3,144.8 304.9,144.8 309.5,144.8 314.1,144.8 318.7,144.8" fill="none" stroke="#e6e620" stroke-width="0.45" marker-start="url(#qt_square)" marker-mid="url(#qt_square)" marker-end="url(#qt_square)"/>
<polyline points="93.9,41.8 98.5,42.8 103.1,45.8 107.7,51.4 112.2,61.4 116.8,76.6 121.4,95.4 126.0,113.5 130.6,127.0 135.2,123.7 139.8,140.1 144.4,142.5 148.9,139.8 153.5,144.3 158.1,138.2 162.7,144.7 167.3,144.7 171.9,144.8 176.5,144.8 181.1,144.8 185.6,144.8 190.2,144.8 194.8,144.8 199.4,144.8 204.0,144.8 208.6,144.8 213.2,144.8 217.8,144.8 222.4,144.8 226.9,144.8 231.5,144.8 236.1,144.8 240.7,144.8 245.3,144.8 249.9,144.8 254.5,144.8 259.1,144.8 263.6,144.8 268.2,144.8 272.8,144.8 277.4,144.8 282.0,144.8 286.6,144.8 291.2,144.8 295.8,144.8 300.3,144.8 304.9,144.8 309.5,144.8 314.1,144.8 318.7,144.8" fill="none" stroke="#e9b63c" stroke-width="0.45" marker-start="url(#sus_plus)" marker-mid="url(#sus_plus)" marker-end="url(#sus_plus)"/>
<polyline points="93.9,41.2 98.5,42.7 103.1,45.6 107.7,51.9 112.2,63.7 116.8,82.0 121.4,103.5 126.0,121.7 130.6,133.3 135.2,139.5 139.8,131.3 144.4,143.8 148.9,144.3 153.5,144.6 158.1,132.1 162.7,144.8 167.3,144.8 171.9,144.8 176.5,144.8 181.1,144.8 185.6,144.8 190.2,144.8 194.8,144.8 199.4,144.8 204.0,144.8 208.6,144.8 213.2,144.8 217.8,144.8 222.4,144.8 226.9,144.8 231.5,144.8 236.1,144.8 240.7,144.8 245.3,144.8 249.9,144.8 254.5,144.8 259.1,144.8 263.6,144.8 268.2,144.8 272.8,144.8 277.4,144.8 282.0,144.8 286.6,144.8 291.2,144.8 295.8,144.8 300.3,144.8 304.9,144.8 309.5,144.8 314.1,144.8 318.7,144.8" fill="none" stroke="#e9b63c" stroke-width="0.45" marker-start="url(#sus_circle)" marker-mid="url(#sus_circle)" marker-end="url(#sus_circle)"/>
<polyline points="93.9,41.4 98.5,42.5 103.1,45.6 107.7,53.3 112.2,69.4 116.8,93.9 121.4,117.9 126.0,133.1 130.6,140.2 135.2,143.1 139.8,139.9 144.4,144.6 148.9,144.7 153.5,144.8 158.1,137.9 162.7,144.8 167.3,144.8 171.9,144.8 176.5,144.8 181.1,144.8 185.6,144.8 190.2,144.8 194.8,144.8 199.4,144.8 204.0,144.8 208.6,144.8 213.2,144.8 217.8,144.8 222.4,144.8 226.9,144.8 231.5,144.8 236.1,144.8 240.7,144.8 245.3,144.8 249.9,144.8 254.5,144.8 259.1,144.8 263.6,144.8 268.2,144.8 272.8,144.8 277.4,144.8 282.0,144.8 286.6,144.8 291.2,144.8 295.8,144.8 300.3,144.8 304.9,144.8 309.5,144.8 314.1,144.8 318.7,144.8" fill="none" stroke="#e9b63c" stroke-width="0.45" marker-start="url(#sus_star)" marker-mid="url(#sus_star)" marker-end="url(#sus_star)"/>
<polyline points="93.9,41.5 98.5,42.8 103.1,46.2 107.7,53.7 112.2,68.2 116.8,89.9 121.4,112.6 126.0,128.9 130.6,137.7 135.2,141.8 139.8,131.0 144.4,140.2 148.9,144.6 153.5,131.4 158.1,141.2 162.7,144.8 167.3,144.8 171.9,144.8 176.5,144.8 181.1,144.8 185.6,144.8 190.2,144.8 194.8,144.8 199.4,144.8 204.0,144.8 208.6,144.8 213.2,144.8 217.8,144.8 222.4,144.8 226.9,144.8 231.5,144.8 236.1,144.8 240.7,144.8 245.3,144.8 249.9,144.8 254.5,144.8 259.1,144.8 263.6,144.8 268.2,144.8 272.8,144.8 277.4,144.8 282.0,144.8 286.6,144.8 291.2,144.8 295.8,144.8 300.3,144.8 304.9,144.8 309.5,144.8 314.1,144.8 318.7,144.8" fill="none" stroke="#e9b63c" stroke-width="0.45" marker-start="url(#sus_dot)" marker-mid="url(#sus_dot)" marker-end="url(#sus_dot)"/>
<polyline points="93.9,41.6 98.5,43.1 103.1,46.9 107.7,54.4 112.2,67.6 116.8,86.6 121.4,107.1 126.0,123.7 130.6,134.1 135.2,127.3 139.8,142.5 144.4,143.7 148.9,144.3 153.5,144.6 158.1,144.7 162.7,144.8 167.3,144.8 171.9,144.8 176.5,144.8 181.1,144.8 185.6,144.8 190.2,144.8 194.8,144.8 199.4,144.8 204.0,144.8 208.6,144.8 213.2,144.8 217.8,144.8 222.4,144.8 226.9,144.8 231.5,144.8 236.1,144.8 240.7,144.8 245.3,144.8 249.9,144.8 254.5,144.8 259.1,144.8 263.6,144.8 268.2,144.8 272.8,144.8 277.4,144.8 282.0,144.8 286.6,144.8 291.2,144.8 295.8,144.8 300.3,144.8 304.9,144.8 309.5,144.8 314.1,144.8 318.7,144.8" fill="none" stroke="#e9b63c" stroke-width="0.45" marker-start="url(#sus_x)" marker-mid="url(#sus_x)" marker-end="url(#sus_x)"/>
<polyline points="93.9,41.4 98.5,42.5 103.1,45.1 107.7,50.7 112.2,61.6 116.8,79.2 121.4,100.8 126.0,119.8 130.6,132.4 135.2,139.0 139.8,142.2 144.4,143.7 148.9,144.3 153.5,144.6 158.1,144.7 162.7,144.8 167.3,144.8 171.9,144.8 176.5,144.8 181.1,144.8 185.6,144.8 190.2,144.8 194.8,144.8 199.4,144.8 204.0,144.8 208.6,144.8 213.2,144.8 217.8,144.8 222.4,144.8 226.9,144.8 231.5,144.8 236.1,144.8 240.7,144.8 245.3,144.8 249.9,144.8 254.5,144.8 259.1,144.8 263.6,144.8 268.2,144.8 272.8,144.8 277.4,144.8 282.0,144.8 286.6,144.8 291.2,144.8 295.8,144.8 300.3,144.8 304.9,144.8 309.5,144.8 314.1,144.8 318.7,144.8" fill="none" stroke="#e9b63c" stroke-width="0.45" marker-start="url(#sus_square)" marker-mid="url(#sus_square)" marker-end="url(#sus_square)"/>
<polyline points="393.6,131.4 398.2,125.7 402.8,131.8 407.4,125.3 411.9,119.6 416.5,121.9 421.1,124.1 425.7,120.6 430.3,115.2 434.9,108.1 439.5,108.2 444.1,105.3 448.6,111.0 453.2,115.7 457.8,121.4 462.4,122.5 467.0,119.9 471.6,115.9 476.2,119.1 480.8,112.7 485.3,112.1 489.9,113.6 494.5,114.8 499.1,104.8 503.7,105.7 508.3,110.1 512.9,112.8 517.5,103.7 522.1,107.3 526.6,102.7 531.2,98.9 535.8,110.7 540.4,103.8 545.0,105.4 549.6,109.6 554.2,110.1 558.8,106.0 563.3,104.3 567.9,102.9 572.5,106.4 577.1,100.9 581.7,96.6 586.3,92.8 590.9,93.6 595.5,90.6 600.0,88.0 604.6,91.7 609.2,93.2 613.8,95.2 618.4,96.5" fill="none" stroke="#4262ea" stroke-width="0.45" marker-start="url(#rw_plus)" marker-mid="url(#rw_plus)" marker-end="url(#rw_plus)"/>
<polyline points="393.6,126.7 398.2,132.0 402.8,133.1 407.4,121.8 411.9,124.5 416.5,123.3 421.1,119.0 425.7,119.1 430.3,120.2 434.9,119.1 439.5,117.7 444.1,117.0 448.6,113.3 453.2,105.3 457.8,104.9 462.4,99.5 467.0,99.2 471.6,98.4 476.2,98.6 480.8,101.7 485.3,100.6 489.9,100.1 494.5,104.9 499.1,100.5 503.7,98.2 508.3,97.4 512.9,100.2 517.5,109.6 522.1,99.4 526.6,98.9 531.2,106.5 535.8,100.1 540.4,101.2 545.0,96.4 549.6,96.4 554.2,91.5 558.8,91.8 563.3,91.7 567.9,92.0 572.5,87.9 577.1,94.9 581.7,89.6 586.3,88.2 590.9,91.9 595.5,91.9 600.0,93.5 604.6,92.5 609.2,88.4 613.8,92.0 618.4,88.7" fill="none" stroke="#4262ea" stroke-width="0.45" marker-start="url(#rw_circle)" marker-mid="url(#rw_circle)" marker-end="url(#rw_circle)"/>
<polyline points="393.6,126.5 398.2,122.7 402.8,112.9 407.4,115.9 411.9,118.0 416.5,118.2 421.1,115.8 425.7,118.6 430.3,118.5 434.9,123.8 439.5,124.1 444.1,123.8 448.6,123.9 453.2,121.0 457.8,114.8 462.4,114.9 467.0,118.3 471.6,114.2 476.2,111.8 480.8,116.2 485.3,112.7 489.9,115.2 494.5,114.8 499.1,114.8 503.7,108.8 508.3,111.3 512.9,110.8 517.5,108.5 522.1,103.8 526.6,100.3 531.2,106.4 535.8,101.7 540.4,102.1 545.0,98.9 549.6,97.4 554.2,102.5 558.8,103.3 563.3,105.0 567.9,103.4 572.5,97.5 577.1,100.0 581.7,104.2 586.3,94.5 590.9,102.1 595.5,102.8 600.0,103.2 604.6,108.2 609.2,103.4 613.8,99.4 618.4,101.3" fill="none" stroke="#4262ea" stroke-width="0.45" marker-start="url(#rw_star)" marker-mid="url(#rw_star)" marker-end="url(#rw_star)"/>
<polyline points="393.6,128.4 398.2,131.2 402.8,131.9 407.4,126.7 411.9,121.2 416.5,124.2 421.1,118.0 425.7,111.6 430.3,113.3 434.9,115.0 439.5,114.6 444.1,116.3 448.6,118.7 453.2,114.1 457.8,110.8 462.4,113.2 467.0,113.9 471.6,115.0 476.2,115.6 480.8,116.8 485.3,119.3 489.9,111.4 494.5,111.2 499.1,109.3 503.7,101.4 508.3,105.2 512.9,103.2 517.5,109.1 522.1,109.7 526.6,105.0 531.2,105.6 535.8,110.2 540.4,113.2 545.0,107.8 549.6,109.2 554.2,103.9 558.8,102.1 563.3,103.1 567.9,102.6 572.5,99.2 577.1,99.7 581.7,103.6 586.3,101.0 590.9,102.0 595.5,102.0 600.0,98.9 604.6,97.8 609.2,94.5 613.8,97.0 618.4,99.4" fill="none" stroke="#4262ea" stroke-width="0.45" marker-start="url(#rw_dot)" marker-mid="url(#rw_dot)" marker-end="url(#rw_dot)"/>
<polyline points="393.6,129.2 398.2,131.6 402.8,131.4 407.4,128.5 411.9,116.6 416.5,119.4 421.1,118.3 425.7,117.8 430.3,118.1 434.9,117.2 439.5,109.1 444.1,112.2 448.6,106.8 453.2,106.8 457.8,112.2 462.4,114.3 467.0,114.7 471.6,117.0 476.2,109.9 480.8,108.1 485.3,106.5 489.9,111.1 494.5,108.1 499.1,109.9 503.7,99.9 508.3,103.0 512.9,103.4 517.5,103.0 522.1,106.0 526.6,107.3 531.2,108.0 535.8,103.8 540.4,107.0 545.0,106.7 549.6,104.6 554.2,106.1 558.8,110.4 563.3,112.3 567.9,110.5 572.5,111.4 577.1,104.7 581.7,104.2 586.3,104.0 590.9,107.4 595.5,103.8 600.0,104.8 604.6,107.6 609.2,108.1 613.8,97.2 618.4,101.7" fill="none" stroke="#4262ea" stroke-width="0.45" marker-start="url(#rw_x)" marker-mid="url(#rw_x)" marker-end="url(#rw_x)"/>
<polyline points="393.6,130.3 398.2,124.1 402.8,129.6 407.4,128.6 411.9,131.8 416.5,122.0 421.1,120.6 425.7,109.8 430.3,110.8 434.9,110.8 439.5,116.4 444.1,119.5 448.6,118.4 453.2,112.4 457.8,115.6 462.4,122.1 467.0,113.8 471.6,108.4 476.2,111.6 480.8,108.2 485.3,103.5 489.9,100.3 494.5,108.2 499.1,106.7 503.7,108.7 508.3,103.4 512.9,103.2 517.5,107.7 522.1,105.4 526.6,102.1 531.2,107.9 535.8,110.5 540.4,109.5 545.0,107.4 549.6,106.9 554.2,111.3 558.8,112.8 563.3,107.9 567.9,103.3 572.5,105.2 577.1,102.3 581.7,94.2 586.3,96.9 590.9,99.4 595.5,101.7 600.0,98.7 604.6,97.7 609.2,96.9 613.8,98.7 618.4,96.8" fill="none" stroke="#4262ea" stroke-width="0.45" marker-start="url(#rw_square)" marker-mid="url(#rw_square)" marker-end="url(#rw_square)"/>
<polyline points="393.6,127.8 398.2,118.0 402.8,108.8 407.4,99.7 411.9,90.9 416.5,85.7 421.1,81.3 425.7,77.1 430.3,72.0 434.9,67.8 439.5,65.9 444.1,63.6 448.6,60.5 453.2,59.4 457.8,60.4 462.4,60.0 467.0,59.1 471.6,57.4 476.2,57.2 480.8,54.9 485.3,55.3 489.9,53.2 494.5,54.2 499.1,52.7 503.7,52.9 508.3,51.6 512.9,50.3 517.5,49.6 522.1,50.0 526.6,52.0 531.2,53.2 535.8,56.4 540.4,53.5 545.0,51.9 549.6,51.2 554.2,53.0 558.8,50.0 563.3,51.8 567.9,51.2 572.5,53.5 577.1,53.8 581.7,52.0 586.3,51.2 590.9,52.9 595.5,52.9 600.0,51.6 604.6,53.9 609.2,52.6 613.8,54.2 618.4,52.9" fill="none" stroke="#8ee040" stroke-width="0.45" marker-start="url(#lr_plus)" marker-mid="url(#lr_plus)" marker-end="url(#lr_plus)"/>
<polyline points="393.6,128.9 398.2,118.8 402.8,109.8 407.4,101.0 411.9,94.2 416.5,87.8 421.1,81.0 425.7,76.5 430.3,71.2 434.9,67.5 439.5,64.2 444.1,63.6 448.6,61.1 453.2,57.9 457.8,56.2 462.4,54.5 467.0,52.8 471.6,54.8 476.2,53.5 480.8,52.6 485.3,52.7 489.9,53.8 494.5,52.8 499.1,52.5 503.7,50.0 508.3,49.1 512.9,50.3 517.5,51.7 522.1,52.3 526.6,51.7 531.2,52.1 535.8,49.5 540.4,51.2 545.0,51.1 549.6,50.7 554.2,50.2 558.8,51.3 563.3,51.2 567.9,50.7 572.5,50.3 577.1,51.0 581.7,51.1 586.3,50.6 590.9,48.5 595.5,50.5 600.0,49.7 604.6,48.4 609.2,50.6 613.8,49.0 618.4,48.1" fill="none" stroke="#8ee040" stroke-width="0.45" marker-start="url(#lr_circle)" marker-mid="url(#lr_circle)" marker-end="url(#lr_circle)"/>
<polyline points="393.6,128.3 398.2,118.9 402.8,111.6 407.4,104.2 411.9,96.8 416.5,90.6 421.1,83.4 425.7,79.6 430.3,77.1 434.9,72.3 439.5,68.4 444.1,65.9 448.6,64.2 453.2,63.2 457.8,62.0 462.4,58.5 467.0,56.8 471.6,56.2 476.2,55.1 480.8,55.1 485.3,55.4 489.9,55.0 494.5,54.1 499.1,55.1 503.7,55.4 508.3,55.8 512.9,54.6 517.5,52.7 522.1,53.5 526.6,53.8 531.2,54.4 535.8,53.5 540.4,53.7 545.0,53.6 549.6,53.7 554.2,50.2 558.8,50.5 563.3,51.3 567.9,51.5 572.5,50.3 577.1,49.4 581.7,49.6 586.3,52.0 590.9,50.4 595.5,49.4 600.0,49.0 604.6,49.1 609.2,49.6 613.8,48.7 618.4,49.7" fill="none" stroke="#8ee040" stroke-width="0.45" marker-start="url(#lr_star)" marker-mid="url(#lr_star)" marker-end="url(#lr_star)"/>
<polyline points="393.6,126.3 398.2,118.5 402.8,110.5 407.4,102.0 411.9,94.0 416.5,89.8 421.1,86.0 425.7,80.0 430.3,76.9 434.9,73.4 439.5,70.5 444.1,67.3 448.6,66.6 453.2,63.4 457.8,61.4 462.4,63.0 467.0,61.4 471.6,60.4 476.2,58.7 480.8,57.9 485.3,58.0 489.9,57.4 494.5,56.2 499.1,55.7 503.7,55.5 508.3,52.8 512.9,52.9 517.5,54.6 522.1,54.2 526.6,53.8 531.2,54.8 535.8,54.3 540.4,54.9 545.0,56.7 549.6,55.1 554.2,53.8 558.8,53.0 563.3,53.3 567.9,53.9 572.5,53.5 577.1,53.0 581.7,52.1 586.3,51.2 590.9,51.2 595.5,52.6 600.0,52.9 604.6,54.5 609.2,53.2 613.8,52.6 618.4,51.6" fill="none" stroke="#8ee040" stroke-width="0.45" marker-start="url(#lr_dot)" marker-mid="url(#lr_dot)" marker-end="url(#lr_dot)"/>
<polyline points="393.6,127.4 398.2,117.9 402.8,109.1 407.4,102.8 411.9,95.8 416.5,90.9 421.1,84.7 425.7,79.8 430.3,74.9 434.9,72.9 439.5,69.4 444.1,66.3 448.6,65.9 453.2,61.0 457.8,58.7 462.4,58.3 467.0,54.9 471.6,53.1 476.2,55.8 480.8,54.9 485.3,54.5 489.9,53.4 494.5,53.6 499.1,52.9 503.7,52.1 508.3,54.2 512.9,52.6 517.5,50.3 522.1,50.2 526.6,49.0 531.2,47.8 535.8,48.3 540.4,48.6 545.0,48.7 549.6,49.5 554.2,47.2 558.8,47.8 563.3,47.9 567.9,47.6 572.5,46.8 577.1,49.4 581.7,50.5 586.3,50.0 590.9,49.2 595.5,50.6 600.0,51.6 604.6,50.0 609.2,49.0 613.8,49.5 618.4,49.8" fill="none" stroke="#8ee040" stroke-width="0.45" marker-start="url(#lr_x)" marker-mid="url(#lr_x)" marker-end="url(#lr_x)"/>
<polyline points="393.6,129.9 398.2,120.7 402.8,111.0 407.4,105.1 411.9,99.7 416.5,92.3 421.1,87.8 425.7,83.1 430.3,78.8 434.9,76.5 439.5,74.5 444.1,70.7 448.6,70.9 453.2,67.0 457.8,66.7 462.4,63.4 467.0,61.6 471.6,60.3 476.2,59.0 480.8,58.4 485.3,59.4 489.9,57.6 494.5,57.1 499.1,56.3 503.7,56.4 508.3,56.5 512.9,55.2 517.5,54.4 522.1,54.6 526.6,56.1 531.2,56.8 535.8,57.2 540.4,55.2 545.0,54.6 549.6,54.6 554.2,54.9 558.8,55.6 563.3,54.4 567.9,55.7 572.5,56.2 577.1,54.7 581.7,54.0 586.3,54.3 590.9,55.8 595.5,56.6 600.0,54.9 604.6,54.4 609.2,52.9 613.8,54.0 618.4,54.3" fill="none" stroke="#8ee040" stroke-width="0.45" marker-start="url(#lr_square)" marker-mid="url(#lr_square)" marker-end="url(#lr_square)"/>
<polyline points="393.6,130.4 398.2,117.0 402.8,107.9 407.4,100.0 411.9,92.7 416.5,86.8 421.1,80.2 425.7,75.3 430.3,72.0 434.9,68.6 439.5,64.3 444.1,62.6 448.6,61.2 453.2,58.0 457.8,58.2 462.4,57.6 467.0,55.4 471.6,55.1 476.2,56.4 480.8,56.2 485.3,57.1 489.9,56.3 494.5,54.9 499.1,55.6 503.7,53.3 508.3,52.2 512.9,51.8 517.5,52.9 522.1,52.9 526.6,52.4 531.2,51.8 535.8,51.1 540.4,53.6 545.0,53.8 549.6,54.4 554.2,54.0 558.8,53.3 563.3,51.1 567.9,51.8 572.5,51.4 577.1,51.8 581.7,52.2 586.3,50.9 590.9,52.6 595.5,52.0 600.0,50.5 604.6,48.5 609.2,50.6 613.8,52.2 618.4,53.5" fill="none" stroke="#ea4a36" stroke-width="0.45" marker-start="url(#bt_plus)" marker-mid="url(#bt_plus)" marker-end="url(#bt_plus)"/>
<polyline points="393.6,129.4 398.2,119.3 402.8,110.2 407.4,103.8 411.9,97.0 416.5,90.6 421.1,87.1 425.7,81.6 430.3,76.5 434.9,73.2 439.5,70.3 444.1,68.1 448.6,67.1 453.2,65.0 457.8,63.9 462.4,62.3 467.0,61.0 471.6,60.0 476.2,60.4 480.8,59.4 485.3,57.1 489.9,56.3 494.5,56.6 499.1,57.2 503.7,56.0 508.3,56.1 512.9,57.6 517.5,57.3 522.1,55.3 526.6,56.9 531.2,56.4 535.8,56.7 540.4,56.4 545.0,56.4 549.6,56.8 554.2,58.5 558.8,57.5 563.3,56.7 567.9,56.3 572.5,56.9 577.1,56.9 581.7,54.4 586.3,55.8 590.9,56.0 595.5,56.8 600.0,56.5 604.6,55.9 609.2,54.7 613.8,54.8 618.4,55.1" fill="none" stroke="#ea4a36" stroke-width="0.45" marker-start="url(#bt_circle)" marker-mid="url(#bt_circle)" marker-end="url(#bt_circle)"/>
<polyline points="393.6,127.9 398.2,117.6 402.8,110.0 407.4,102.4 411.9,96.5 416.5,90.7 421.1,84.0 425.7,80.6 430.3,76.3 434.9,71.4 439.5,69.0 444.1,67.4 448.6,66.4 453.2,66.7 457.8,65.2 462.4,63.8 467.0,61.1 471.6,59.4 476.2,59.9 480.8,58.4 485.3,58.3 489.9,56.1 494.5,54.9 499.1,54.8 503.7,55.5 508.3,54.0 512.9,53.8 517.5,53.4 522.1,53.7 526.6,54.4 531.2,53.9 535.8,55.0 540.4,54.2 545.0,54.3 549.6,55.8 554.2,55.0 558.8,54.9 563.3,55.1 567.9,55.0 572.5,54.1 577.1,55.3 581.7,55.9 586.3,54.7 590.9,54.5 595.5,56.0 600.0,55.3 604.6,56.4 609.2,55.1 613.8,54.6 618.4,54.2" fill="none" stroke="#ea4a36" stroke-width="0.45" marker-start="url(#bt_star)" marker-mid="url(#bt_star)" marker-end="url(#bt_star)"/>
<polyline points="393.6,131.8 398.2,122.1 402.8,112.8 407.4,104.4 411.9,98.0 416.5,91.1 421.1,85.5 425.7,80.5 430.3,75.0 434.9,73.0 439.5,70.7 444.1,69.6 448.6,66.0 453.2,65.1 457.8,63.2 462.4,63.4 467.0,62.4 471.6,60.9 476.2,59.8 480.8,59.7 485.3,58.4 489.9,58.2 494.5,57.2 499.1,57.6 503.7,57.0 508.3,57.5 512.9,56.3 517.5,56.6 522.1,56.7 526.6,57.3 531.2,56.2 535.8,56.3 540.4,56.7 545.0,55.6 549.6,56.7 554.2,55.8 558.8,54.9 563.3,57.0 567.9,56.1 572.5,55.8 577.1,56.0 581.7,55.9 586.3,57.2 590.9,56.6 595.5,56.4 600.0,57.7 604.6,57.4 609.2,58.1 613.8,57.4 618.4,57.9" fill="none" stroke="#ea4a36" stroke-width="0.45" marker-start="url(#bt_dot)" marker-mid="url(#bt_dot)" marker-end="url(#bt_dot)"/>
<polyline points="393.6,128.3 398.2,119.4 402.8,109.7 407.4,100.6 411.9,96.2 416.5,89.8 421.1,85.4 425.7,81.6 430.3,78.2 434.9,75.1 439.5,72.4 444.1,69.4 448.6,66.6 453.2,65.2 457.8,64.3 462.4,62.9 467.0,62.0 471.6,60.0 476.2,60.9 480.8,61.6 485.3,61.0 489.9,60.0 494.5,59.8 499.1,59.2 503.7,61.1 508.3,60.7 512.9,60.3 517.5,60.6 522.1,60.1 526.6,59.5 531.2,58.6 535.8,59.1 540.4,60.1 545.0,58.9 549.6,56.9 554.2,57.2 558.8,57.3 563.3,58.4 567.9,58.0 572.5,56.6 577.1,58.7 581.7,57.5 586.3,59.3 590.9,57.4 595.5,56.9 600.0,57.5 604.6,57.3 609.2,56.1 613.8,57.6 618.4,56.7" fill="none" stroke="#ea4a36" stroke-width="0.45" marker-start="url(#bt_x)" marker-mid="url(#bt_x)" marker-end="url(#bt_x)"/>
<polyline points="393.6,127.4 398.2,117.9 402.8,108.9 407.4,100.1 411.9,92.2 416.5,87.5 421.1,81.6 425.7,76.9 430.3,73.7 434.9,70.6 439.5,67.0 444.1,64.9 448.6,62.1 453.2,62.2 457.8,62.1 462.4,59.8 467.0,60.2 471.6,58.2 476.2,57.8 480.8,56.9 485.3,57.1 489.9,56.0 494.5,55.0 499.1,54.4 503.7,54.7 508.3,56.2 512.9,55.3 517.5,55.3 522.1,54.4 526.6,56.1 531.2,55.5 535.8,55.9 540.4,55.8 545.0,54.9 549.6,54.4 554.2,53.7 558.8,54.0 563.3,54.1 567.9,54.3 572.5,55.7 577.1,54.7 581.7,55.6 586.3,55.9 590.9,55.3 595.5,55.9 600.0,56.1 604.6,57.8 609.2,57.6 613.8,57.6 618.4,57.2" fill="none" stroke="#ea4a36" stroke-width="0.45" marker-start="url(#bt_square)" marker-mid="url(#bt_square)" marker-end="url(#bt_square)"/>
<polyline points="393.6,127.4 398.2,126.8 402.8,122.7 407.4,120.7 411.9,122.2 416.5,125.2 421.1,122.1 425.7,125.2 430.3,126.0 434.9,124.4 439.5,126.8 444.1,130.0 448.6,131.7 453.2,128.9 457.8,125.8 462.4,123.0 467.0,127.1 471.6,125.0 476.2,124.9 480.8,126.6 485.3,116.1 489.9,124.1 494.5,127.7 499.1,125.4 503.7,119.2 508.3,123.9 512.9,119.4 517.5,126.4 522.1,126.8 526.6,126.2 531.2,126.2 535.8,125.0 540.4,125.1 545.0,125.5 549.6,128.6 554.2,124.2 558.8,124.2 563.3,123.3 567.9,119.5 572.5,120.5 577.1,121.8 581.7,117.9 586.3,123.3 590.9,129.6 595.5,128.4 600.0,130.4 604.6,127.5 609.2,126.3 613.8,125.2 618.4,123.5" fill="none" stroke="#6aeadc" stroke-width="0.45" marker-start="url(#rd_plus)" marker-mid="url(#rd_plus)" marker-end="url(#rd_plus)"/>
<polyline points="393.6,126.9 398.2,127.2 402.8,128.6 407.4,127.5 411.9,128.0 416.5,131.3 421.1,130.2 425.7,125.7 430.3,126.3 434.9,129.9 439.5,127.4 444.1,124.9 448.6,130.2 453.2,122.3 457.8,121.0 462.4,125.3 467.0,122.3 471.6,124.2 476.2,123.6 480.8,128.9 485.3,129.6 489.9,128.9 494.5,128.2 499.1,129.3 503.7,133.7 508.3,133.8 512.9,128.2 517.5,129.0 522.1,121.8 526.6,120.2 531.2,125.2 535.8,125.7 540.4,133.3 545.0,127.1 549.6,123.2 554.2,128.4 558.8,130.6 563.3,130.7 567.9,126.0 572.5,123.0 577.1,129.2 581.7,129.5 586.3,126.3 590.9,126.1 595.5,127.9 600.0,125.7 604.6,129.9 609.2,133.7 613.8,127.7 618.4,124.8" fill="none" stroke="#6aeadc" stroke-width="0.45" marker-start="url(#rd_circle)" marker-mid="url(#rd_circle)" marker-end="url(#rd_circle)"/>
<polyline points="393.6,125.7 398.2,127.4 402.8,128.1 407.4,128.3 411.9,129.2 416.5,124.8 421.1,126.9 425.7,124.1 430.3,130.5 434.9,134.3 439.5,128.9 444.1,134.5 448.6,136.6 453.2,137.4 457.8,139.0 462.4,133.2 467.0,125.9 471.6,127.1 476.2,126.6 480.8,130.7 485.3,134.5 489.9,130.7 494.5,135.3 499.1,138.5 503.7,137.4 508.3,130.0 512.9,129.5 517.5,131.6 522.1,135.5 526.6,136.5 531.2,132.4 535.8,132.2 540.4,134.7 545.0,128.7 549.6,132.9 554.2,138.0 558.8,135.2 563.3,129.2 567.9,128.2 572.5,127.0 577.1,132.8 581.7,130.6 586.3,130.9 590.9,132.4 595.5,136.2 600.0,129.2 604.6,130.4 609.2,133.3 613.8,129.8 618.4,121.9" fill="none" stroke="#6aeadc" stroke-width="0.45" marker-start="url(#rd_star)" marker-mid="url(#rd_star)" marker-end="url(#rd_star)"/>
<polyline points="393.6,131.5 398.2,124.7 402.8,122.4 407.4,132.0 411.9,134.0 416.5,139.0 421.1,135.7 425.7,139.0 430.3,139.0 434.9,130.2 439.5,136.1 444.1,139.0 448.6,135.8 453.2,133.1 457.8,132.0 462.4,128.0 467.0,133.2 471.6,133.2 476.2,130.4 480.8,133.1 485.3,127.5 489.9,126.7 494.5,129.9 499.1,131.9 503.7,131.9 508.3,130.8 512.9,138.9 517.5,139.0 522.1,138.1 526.6,137.7 531.2,136.8 535.8,136.4 540.4,133.7 545.0,134.1 549.6,131.9 554.2,131.1 558.8,132.2 563.3,134.0 567.9,135.9 572.5,131.1 577.1,133.7 581.7,132.3 586.3,129.7 590.9,130.8 595.5,137.9 600.0,137.7 604.6,127.6 609.2,136.9 613.8,130.1 618.4,136.0" fill="none" stroke="#6aeadc" stroke-width="0.45" marker-start="url(#rd_dot)" marker-mid="url(#rd_dot)" marker-end="url(#rd_dot)"/>
<polyline points="393.6,128.6 398.2,127.8 402.8,137.8 407.4,134.4 411.9,135.0 416.5,131.4 421.1,128.7 425.7,126.2 430.3,125.4 434.9,130.9 439.5,135.0 444.1,131.7 448.6,134.0 453.2,139.0 457.8,139.0 462.4,138.5 467.0,136.4 471.6,133.8 476.2,132.3 480.8,138.4 485.3,133.8 489.9,137.3 494.5,132.9 499.1,132.8 503.7,126.9 508.3,128.9 512.9,133.1 517.5,133.7 522.1,132.9 526.6,130.6 531.2,128.9 535.8,134.3 540.4,137.0 545.0,131.5 549.6,131.9 554.2,128.2 558.8,128.8 563.3,124.5 567.9,126.7 572.5,134.5 577.1,134.6 581.7,131.0 586.3,135.5 590.9,133.4 595.5,130.0 600.0,127.1 604.6,126.7 609.2,135.4 613.8,128.9 618.4,134.0" fill="none" stroke="#6aeadc" stroke-width="0.45" marker-start="url(#rd_x)" marker-mid="url(#rd_x)" marker-end="url(#rd_x)"/>
<polyline points="393.6,128.6 398.2,127.6 402.8,127.1 407.4,126.0 411.9,127.3 416.5,129.8 421.1,123.1 425.7,123.4 430.3,122.8 434.9,131.9 439.5,136.4 444.1,124.6 448.6,123.5 453.2,132.1 457.8,127.6 462.4,127.0 467.0,130.7 471.6,130.1 476.2,121.6 480.8,127.5 485.3,125.5 489.9,129.5 494.5,133.7 499.1,120.8 503.7,122.1 508.3,126.9 512.9,128.4 517.5,128.7 522.1,131.7 526.6,127.4 531.2,125.0 535.8,127.9 540.4,127.7 545.0,132.3 549.6,128.4 554.2,135.0 558.8,130.8 563.3,123.4 567.9,126.8 572.5,117.2 577.1,127.3 581.7,128.2 586.3,127.8 590.9,124.1 595.5,121.6 600.0,124.4 604.6,131.7 609.2,123.8 613.8,123.5 618.4,122.8" fill="none" stroke="#6aeadc" stroke-width="0.45" marker-start="url(#rd_square)" marker-mid="url(#rd_square)" marker-end="url(#rd_square)"/>
<polyline points="393.6,131.9 398.2,105.7 402.8,86.7 407.4,76.4 411.9,68.6 416.5,63.1 421.1,60.2 425.7,56.8 430.3,54.6 434.9,54.6 439.5,54.4 444.1,53.1 448.6,54.3 453.2,53.0 457.8,51.6 462.4,50.7 467.0,52.0 471.6,50.0 476.2,48.6 480.8,50.8 485.3,49.4 489.9,48.9 494.5,49.0 499.1,50.7 503.7,49.9 508.3,51.6 512.9,51.4 517.5,50.5 522.1,50.3 526.6,50.9 531.2,50.7 535.8,51.0 540.4,50.7 545.0,51.6 549.6,52.6 554.2,52.5 558.8,53.2 563.3,51.2 567.9,48.6 572.5,48.9 577.1,69.7 581.7,50.6 586.3,50.9 590.9,86.3 595.5,51.0 600.0,50.9 604.6,67.8 609.2,50.2 613.8,50.6 618.4,50.0" fill="none" stroke="#a44ae8" stroke-width="0.45" marker-start="url(#bp_plus)" marker-mid="url(#bp_plus)" marker-end="url(#bp_plus)"/>
<polyline points="393.6,126.7 398.2,101.6 402.8,85.2 407.4,74.5 411.9,64.6 416.5,60.4 421.1,55.5 425.7,54.6 430.3,53.8 434.9,51.5 439.5,51.2 444.1,51.6 448.6,94.3 453.2,51.0 457.8,51.5 462.4,74.0 467.0,48.8 471.6,49.3 476.2,50.5 480.8,48.2 485.3,49.0 489.9,50.1 494.5,50.0 499.1,49.0 503.7,52.2 508.3,52.5 512.9,50.9 517.5,50.1 522.1,50.1 526.6,50.3 531.2,49.7 535.8,48.8 540.4,49.9 545.0,50.5 549.6,49.6 554.2,50.2 558.8,51.5 563.3,51.1 567.9,51.8 572.5,50.6 577.1,49.6 581.7,50.4 586.3,50.4 590.9,49.9 595.5,48.8 600.0,48.3 604.6,48.7 609.2,48.8 613.8,47.9 618.4,48.1" fill="none" stroke="#a44ae8" stroke-width="0.45" marker-start="url(#bp_circle)" marker-mid="url(#bp_circle)" marker-end="url(#bp_circle)"/>
<polyline points="393.6,127.5 398.2,102.8 402.8,87.6 407.4,77.9 411.9,69.0 416.5,63.0 421.1,59.6 425.7,58.3 430.3,56.9 434.9,55.5 439.5,53.9 444.1,53.4 448.6,54.0 453.2,54.1 457.8,54.7 462.4,52.2 467.0,53.1 471.6,51.6 476.2,51.7 480.8,50.3 485.3,52.3 489.9,51.7 494.5,53.0 499.1,53.7 503.7,54.0 508.3,54.7 512.9,54.8 517.5,54.2 522.1,52.0 526.6,52.7 531.2,54.2 535.8,53.0 540.4,51.5 545.0,54.5 549.6,53.3 554.2,54.5 558.8,55.6 563.3,53.8 567.9,52.0 572.5,50.5 577.1,51.4 581.7,52.3 586.3,52.3 590.9,51.8 595.5,51.3 600.0,50.5 604.6,50.9 609.2,51.0 613.8,51.4 618.4,52.6" fill="none" stroke="#a44ae8" stroke-width="0.45" marker-start="url(#bp_star)" marker-mid="url(#bp_star)" marker-end="url(#bp_star)"/>
<polyline points="393.6,127.3 398.2,99.8 402.8,83.1 407.4,69.0 411.9,60.1 416.5,55.8 421.1,51.8 425.7,51.9 430.3,51.2 434.9,85.5 439.5,50.2 444.1,49.8 448.6,49.4 453.2,49.3 457.8,47.8 462.4,98.5 467.0,75.6 471.6,49.2 476.2,48.8 480.8,48.6 485.3,50.0 489.9,50.3 494.5,50.3 499.1,50.9 503.7,52.0 508.3,51.6 512.9,53.5 517.5,52.2 522.1,52.5 526.6,51.7 531.2,51.1 535.8,48.6 540.4,47.1 545.0,45.9 549.6,47.3 554.2,48.7 558.8,48.3 563.3,49.9 567.9,49.9 572.5,50.6 577.1,50.2 581.7,49.3 586.3,50.5 590.9,49.9 595.5,49.6 600.0,49.4 604.6,49.1 609.2,49.7 613.8,49.8 618.4,50.1" fill="none" stroke="#a44ae8" stroke-width="0.45" marker-start="url(#bp_dot)" marker-mid="url(#bp_dot)" marker-end="url(#bp_dot)"/>
<polyline points="393.6,131.7 398.2,103.6 402.8,86.7 407.4,73.6 411.9,66.3 416.5,58.7 421.1,54.0 425.7,53.2 430.3,50.8 434.9,49.9 439.5,50.1 444.1,51.6 448.6,50.4 453.2,49.3 457.8,48.6 462.4,49.7 467.0,49.7 471.6,49.7 476.2,49.7 480.8,50.3 485.3,49.0 489.9,48.7 494.5,49.5 499.1,49.1 503.7,48.4 508.3,48.5 512.9,48.7 517.5,48.3 522.1,49.6 526.6,48.9 531.2,49.9 535.8,49.6 540.4,48.4 545.0,49.3 549.6,48.3 554.2,48.2 558.8,47.4 563.3,49.8 567.9,53.6 572.5,52.9 577.1,49.5 581.7,49.2 586.3,49.6 590.9,49.5 595.5,49.0 600.0,49.4 604.6,47.1 609.2,47.9 613.8,49.8 618.4,51.0" fill="none" stroke="#a44ae8" stroke-width="0.45" marker-start="url(#bp_x)" marker-mid="url(#bp_x)" marker-end="url(#bp_x)"/>
<polyline points="393.6,128.5 398.2,102.0 402.8,86.8 407.4,74.9 411.9,68.0 416.5,62.4 421.1,59.8 425.7,55.6 430.3,52.8 434.9,52.1 439.5,52.8 444.1,51.2 448.6,51.0 453.2,52.4 457.8,51.3 462.4,50.4 467.0,50.2 471.6,52.4 476.2,51.2 480.8,50.2 485.3,51.2 489.9,50.1 494.5,50.0 499.1,49.5 503.7,51.9 508.3,51.9 512.9,51.2 517.5,52.7 522.1,52.0 526.6,50.0 531.2,52.0 535.8,50.3 540.4,49.8 545.0,51.3 549.6,52.1 554.2,52.6 558.8,51.8 563.3,53.9 567.9,52.2 572.5,53.4 577.1,52.9 581.7,52.7 586.3,51.4 590.9,52.4 595.5,84.4 600.0,51.0 604.6,49.5 609.2,71.4 613.8,51.1 618.4,116.8" fill="none" stroke="#a44ae8" stroke-width="0.45" marker-start="url(#bp_square)" marker-mid="url(#bp_square)" marker-end="url(#bp_square)"/>
<polyline points="393.6,128.3 398.2,119.8 402.8,110.6 407.4,101.5 411.9,93.9 416.5,87.0 421.1,82.9 425.7,78.0 430.3,75.5 434.9,71.7 439.5,68.3 444.1,66.5 448.6,64.2 453.2,60.2 457.8,60.0 462.4,57.9 467.0,57.4 471.6,55.8 476.2,57.4 480.8,57.0 485.3,55.8 489.9,53.3 494.5,53.2 499.1,53.9 503.7,53.5 508.3,52.2 512.9,53.3 517.5,52.5 522.1,52.2 526.6,52.2 531.2,51.5 535.8,51.9 540.4,51.1 545.0,50.5 549.6,49.2 554.2,49.6 558.8,50.1 563.3,51.2 567.9,51.5 572.5,52.2 577.1,50.4 581.7,52.4 586.3,51.3 590.9,50.6 595.5,50.1 600.0,50.6 604.6,48.8 609.2,49.7 613.8,51.3 618.4,51.5" fill="none" stroke="#e6e620" stroke-width="0.45" marker-start="url(#qt_plus)" marker-mid="url(#qt_plus)" marker-end="url(#qt_plus)"/>
<polyline points="393.6,130.0 398.2,121.1 402.8,111.2 407.4,102.9 411.9,95.3 416.5,87.8 421.1,83.5 425.7,78.9 430.3,74.1 434.9,71.5 439.5,67.3 444.1,63.4 448.6,61.3 453.2,58.9 457.8,57.9 462.4,56.6 467.0,55.2 471.6,54.3 476.2,52.5 480.8,52.5 485.3,51.3 489.9,51.4 494.5,49.7 499.1,48.7 503.7,48.9 508.3,50.3 512.9,50.7 517.5,52.4 522.1,50.5 526.6,50.3 531.2,50.5 535.8,49.9 540.4,50.7 545.0,50.4 549.6,49.7 554.2,48.6 558.8,46.8 563.3,48.3 567.9,47.7 572.5,48.6 577.1,49.5 581.7,48.9 586.3,48.9 590.9,50.1 595.5,49.5 600.0,47.6 604.6,48.6 609.2,49.3 613.8,48.0 618.4,48.0" fill="none" stroke="#e6e620" stroke-width="0.45" marker-start="url(#qt_circle)" marker-mid="url(#qt_circle)" marker-end="url(#qt_circle)"/>
<polyline points="393.6,129.7 398.2,117.8 402.8,107.8 407.4,97.6 411.9,88.5 416.5,83.0 421.1,78.0 425.7,73.8 430.3,69.5 434.9,66.6 439.5,63.4 444.1,60.3 448.6,59.4 453.2,57.3 457.8,54.9 462.4,53.5 467.0,53.8 471.6,52.0 476.2,52.5 480.8,51.1 485.3,52.3 489.9,51.1 494.5,51.0 499.1,51.0 503.7,50.9 508.3,51.3 512.9,50.4 517.5,50.0 522.1,49.2 526.6,50.1 531.2,49.3 535.8,48.6 540.4,49.7 545.0,48.6 549.6,47.7 554.2,49.4 558.8,50.2 563.3,47.9 567.9,48.2 572.5,48.8 577.1,49.8 581.7,49.1 586.3,49.6 590.9,49.2 595.5,49.1 600.0,48.8 604.6,48.5 609.2,49.1 613.8,48.8 618.4,48.6" fill="none" stroke="#e6e620" stroke-width="0.45" marker-start="url(#qt_star)" marker-mid="url(#qt_star)" marker-end="url(#qt_star)"/>
<polyline points="393.6,128.7 398.2,117.8 402.8,108.9 407.4,100.3 411.9,93.6 416.5,87.2 421.1,81.8 425.7,77.6 430.3,73.2 434.9,70.5 439.5,68.0 444.1,66.5 448.6,64.3 453.2,61.7 457.8,58.8 462.4,55.3 467.0,55.4 471.6,55.5 476.2,53.3 480.8,54.7 485.3,53.4 489.9,53.0 494.5,51.5 499.1,52.1 503.7,52.0 508.3,53.5 512.9,53.4 517.5,52.8 522.1,52.9 526.6,53.0 531.2,51.7 535.8,52.9 540.4,53.8 545.0,54.1 549.6,53.8 554.2,53.7 558.8,53.2 563.3,53.2 567.9,51.1 572.5,51.9 577.1,52.0 581.7,51.4 586.3,49.6 590.9,50.5 595.5,51.4 600.0,50.6 604.6,51.3 609.2,52.7 613.8,53.5 618.4,53.1" fill="none" stroke="#e6e620" stroke-width="0.45" marker-start="url(#qt_dot)" marker-mid="url(#qt_dot)" marker-end="url(#qt_dot)"/>
<polyline points="393.6,131.6 398.2,120.2 402.8,111.2 407.4,102.1 411.9,94.3 416.5,88.9 421.1,81.8 425.7,77.2 430.3,72.7 434.9,70.0 439.5,66.2 444.1,62.1 448.6,60.9 453.2,60.3 457.8,58.5 462.4,57.1 467.0,55.4 471.6,55.9 476.2,53.8 480.8,53.0 485.3,52.7 489.9,53.2 494.5,52.2 499.1,50.7 503.7,50.3 508.3,49.9 512.9,50.0 517.5,49.8 522.1,51.0 526.6,49.3 531.2,48.6 535.8,49.3 540.4,49.4 545.0,50.6 549.6,50.9 554.2,50.0 558.8,50.3 563.3,50.9 567.9,50.6 572.5,49.6 577.1,50.4 581.7,49.6 586.3,49.0 590.9,48.7 595.5,48.5 600.0,48.8 604.6,49.2 609.2,48.5 613.8,49.6 618.4,48.4" fill="none" stroke="#e6e620" stroke-width="0.45" marker-start="url(#qt_x)" marker-mid="url(#qt_x)" marker-end="url(#qt_x)"/>
<polyline points="393.6,131.2 398.2,121.1 402.8,110.2 407.4,102.7 411.9,95.2 416.5,87.9 421.1,81.8 425.7,76.5 430.3,74.3 434.9,70.7 439.5,66.6 444.1,65.6 448.6,64.1 453.2,61.8 457.8,59.9 462.4,59.5 467.0,58.6 471.6,57.1 476.2,55.7 480.8,53.3 485.3,52.4 489.9,52.3 494.5,52.3 499.1,51.6 503.7,49.6 508.3,50.7 512.9,51.7 517.5,52.6 522.1,52.1 526.6,52.7 531.2,53.6 535.8,53.2 540.4,53.0 545.0,51.4 549.6,50.0 554.2,50.7 558.8,51.2 563.3,50.2 567.9,50.4 572.5,50.9 577.1,50.1 581.7,51.1 586.3,50.4 590.9,48.8 595.5,50.8 600.0,50.4 604.6,50.7 609.2,49.6 613.8,49.2 618.4,50.5" fill="none" stroke="#e6e620" stroke-width="0.45" marker-start="url(#qt_square)" marker-mid="url(#qt_square)" marker-end="url(#qt_square)"/>
<polyline points="393.6,128.7 398.2,121.0 402.8,114.5 407.4,107.7 411.9,104.1 416.5,101.7 421.1,99.4 425.7,97.1 430.3,94.1 434.9,92.0 439.5,89.3 444.1,88.0 448.6,85.3 453.2,84.0 457.8,82.2 462.4,83.4 467.0,84.7 471.6,82.2 476.2,81.8 480.8,84.5 485.3,84.2 489.9,82.7 494.5,80.8 499.1,78.2 503.7,78.1 508.3,79.1 512.9,80.5 517.5,81.9 522.1,82.5 526.6,83.3 531.2,82.5 535.8,80.7 540.4,80.3 545.0,81.8 549.6,80.7 554.2,79.5 558.8,80.3 563.3,80.9 567.9,81.0 572.5,80.4 577.1,83.1 581.7,83.4 586.3,84.1 590.9,82.9 595.5,81.6 600.0,82.1 604.6,80.4 609.2,80.5 613.8,80.4 618.4,80.5" fill="none" stroke="#e9b63c" stroke-width="0.45" marker-start="url(#sus_plus)" marker-mid="url(#sus_plus)" marker-end="url(#sus_plus)"/>
<polyline points="393.6,130.8 398.2,124.3 402.8,115.8 407.4,108.7 411.9,105.6 416.5,100.8 421.1,95.1 425.7,92.0 430.3,89.9 434.9,88.1 439.5,86.0 444.1,86.1 448.6,85.0 453.2,83.2 457.8,82.2 462.4,79.7 467.0,81.8 471.6,78.2 476.2,79.0 480.8,79.6 485.3,79.1 489.9,77.4 494.5,77.9 499.1,76.1 503.7,75.3 508.3,76.0 512.9,76.7 517.5,77.0 522.1,76.7 526.6,78.5 531.2,76.1 535.8,76.3 540.4,76.1 545.0,77.1 549.6,77.7 554.2,75.4 558.8,78.1 563.3,77.2 567.9,77.8 572.5,79.3 577.1,77.3 581.7,78.1 586.3,76.7 590.9,77.1 595.5,79.5 600.0,78.5 604.6,79.2 609.2,78.6 613.8,78.3 618.4,77.2" fill="none" stroke="#e9b63c" stroke-width="0.45" marker-start="url(#sus_circle)" marker-mid="url(#sus_circle)" marker-end="url(#sus_circle)"/>
<polyline points="393.6,128.2 398.2,123.1 402.8,118.4 407.4,111.0 411.9,106.7 416.5,101.8 421.1,96.3 425.7,91.6 430.3,87.8 434.9,85.5 439.5,83.1 444.1,81.0 448.6,79.3 453.2,79.6 457.8,77.5 462.4,75.0 467.0,74.4 471.6,73.5 476.2,75.8 480.8,75.2 485.3,70.5 489.9,71.6 494.5,70.2 499.1,68.4 503.7,67.5 508.3,67.8 512.9,68.2 517.5,69.8 522.1,67.0 526.6,67.3 531.2,66.1 535.8,68.6 540.4,70.5 545.0,71.7 549.6,69.0 554.2,68.7 558.8,68.4 563.3,67.6 567.9,67.3 572.5,67.0 577.1,67.9 581.7,68.8 586.3,67.9 590.9,66.3 595.5,67.3 600.0,67.0 604.6,67.4 609.2,66.6 613.8,68.2 618.4,65.3" fill="none" stroke="#e9b63c" stroke-width="0.45" marker-start="url(#sus_star)" marker-mid="url(#sus_star)" marker-end="url(#sus_star)"/>
<polyline points="393.6,124.9 398.2,118.8 402.8,110.0 407.4,104.2 411.9,99.5 416.5,97.8 421.1,93.2 425.7,88.4 430.3,88.5 434.9,87.1 439.5,84.1 444.1,82.7 448.6,81.6 453.2,77.7 457.8,77.3 462.4,78.5 467.0,82.6 471.6,81.9 476.2,82.8 480.8,83.2 485.3,80.3 489.9,81.4 494.5,80.9 499.1,78.6 503.7,79.9 508.3,80.4 512.9,81.4 517.5,81.2 522.1,82.5 526.6,81.0 531.2,81.2 535.8,79.9 540.4,79.0 545.0,79.2 549.6,79.1 554.2,79.7 558.8,79.0 563.3,78.0 567.9,78.0 572.5,76.9 577.1,77.6 581.7,78.3 586.3,78.1 590.9,80.4 595.5,80.6 600.0,82.5 604.6,80.9 609.2,79.1 613.8,80.7 618.4,81.0" fill="none" stroke="#e9b63c" stroke-width="0.45" marker-start="url(#sus_dot)" marker-mid="url(#sus_dot)" marker-end="url(#sus_dot)"/>
<polyline points="393.6,129.6 398.2,119.5 402.8,112.4 407.4,106.3 411.9,104.1 416.5,101.6 421.1,94.8 425.7,88.4 430.3,88.0 434.9,86.8 439.5,82.6 444.1,78.3 448.6,79.2 453.2,78.7 457.8,76.0 462.4,74.8 467.0,73.8 471.6,72.4 476.2,73.7 480.8,74.1 485.3,71.1 489.9,73.1 494.5,71.2 499.1,71.5 503.7,69.4 508.3,69.8 512.9,70.1 517.5,68.6 522.1,69.1 526.6,69.3 531.2,72.3 535.8,70.4 540.4,70.2 545.0,68.5 549.6,69.3 554.2,70.6 558.8,68.3 563.3,68.6 567.9,69.0 572.5,70.6 577.1,68.1 581.7,67.2 586.3,69.0 590.9,67.9 595.5,67.5 600.0,66.4 604.6,67.3 609.2,65.1 613.8,68.9 618.4,70.7" fill="none" stroke="#e9b63c" stroke-width="0.45" marker-start="url(#sus_x)" marker-mid="url(#sus_x)" marker-end="url(#sus_x)"/>
<polyline points="393.6,126.6 398.2,115.2 402.8,109.2 407.4,106.2 411.9,98.7 416.5,94.5 421.1,91.2 425.7,86.9 430.3,83.3 434.9,81.4 439.5,78.0 444.1,75.8 448.6,74.5 453.2,73.1 457.8,74.3 462.4,73.1 467.0,71.9 471.6,70.4 476.2,66.9 480.8,66.4 485.3,66.4 489.9,67.4 494.5,66.8 499.1,66.9 503.7,67.0 508.3,65.6 512.9,66.8 517.5,66.3 522.1,63.8 526.6,63.3 531.2,64.2 535.8,64.2 540.4,64.4 545.0,62.1 549.6,60.7 554.2,59.4 558.8,61.1 563.3,61.8 567.9,61.0 572.5,62.9 577.1,63.4 581.7,61.7 586.3,62.6 590.9,63.5 595.5,62.3 600.0,62.6 604.6,63.1 609.2,62.5 613.8,64.5 618.4,62.6" fill="none" stroke="#e9b63c" stroke-width="0.45" marker-start="url(#sus_square)" marker-mid="url(#sus_square)" marker-end="url(#sus_square)"/>
<polyline points="94.0,275.6 98.6,274.1 103.2,274.5 107.8,275.6 112.3,273.8 116.9,274.6 121.5,274.1 126.1,273.2 130.7,274.3 135.3,275.3 139.9,275.0 144.5,273.8 149.0,275.5 153.6,274.3 158.2,274.2 162.8,275.3 167.4,274.4 172.0,274.1 176.6,275.0 181.2,274.8 185.7,274.1 190.3,275.4 194.9,275.1 199.5,273.8 204.1,274.4 208.7,275.5 213.3,274.5 217.9,273.1 222.5,275.6 227.0,273.9 231.6,274.0 236.2,274.6 240.8,274.1 245.4,275.0 250.0,273.4 254.6,273.3 259.2,275.1 263.7,274.6 268.3,274.4 272.9,274.9 277.5,274.3 282.1,275.2 286.7,274.1 291.3,274.7 295.9,274.5 300.4,274.2 305.0,273.8 309.6,275.2 314.2,273.9 318.8,273.9" fill="none" stroke="#4262ea" stroke-width="0.45" marker-start="url(#rw_plus)" marker-mid="url(#rw_plus)" marker-end="url(#rw_plus)"/>
<polyline points="94.0,275.9 98.6,275.4 103.2,275.2 107.8,274.6 112.3,275.3 116.9,273.9 121.5,274.7 126.1,273.7 130.7,275.6 135.3,275.5 139.9,273.9 144.5,275.6 149.0,274.1 153.6,275.4 158.2,274.7 162.8,274.0 167.4,274.9 172.0,275.7 176.6,275.2 181.2,274.1 185.7,274.7 190.3,274.4 194.9,274.8 199.5,274.7 204.1,275.0 208.7,275.6 213.3,274.5 217.9,274.7 222.5,276.3 227.0,274.9 231.6,274.2 236.2,273.5 240.8,275.8 245.4,274.8 250.0,274.5 254.6,274.3 259.2,275.3 263.7,274.5 268.3,275.2 272.9,274.9 277.5,275.2 282.1,274.6 286.7,275.1 291.3,274.6 295.9,274.9 300.4,274.2 305.0,273.7 309.6,274.9 314.2,275.4 318.8,275.0" fill="none" stroke="#4262ea" stroke-width="0.45" marker-start="url(#rw_circle)" marker-mid="url(#rw_circle)" marker-end="url(#rw_circle)"/>
<polyline points="94.0,276.2 98.6,275.1 103.2,275.5 107.8,274.5 112.3,275.2 116.9,274.5 121.5,274.6 126.1,275.5 130.7,275.4 135.3,275.5 139.9,275.5 144.5,274.6 149.0,275.5 153.6,275.4 158.2,275.7 162.8,274.2 167.4,275.4 172.0,275.3 176.6,275.8 181.2,275.0 185.7,275.7 190.3,275.6 194.9,276.6 199.5,276.3 204.1,275.0 208.7,274.6 213.3,276.3 217.9,275.1 222.5,275.0 227.0,273.0 231.6,275.9 236.2,275.6 240.8,275.9 245.4,274.6 250.0,274.4 254.6,275.4 259.2,274.1 263.7,273.7 268.3,275.5 272.9,274.8 277.5,275.3 282.1,275.6 286.7,275.5 291.3,275.3 295.9,276.1 300.4,275.2 305.0,274.6 309.6,275.8 314.2,275.5 318.8,275.8" fill="none" stroke="#4262ea" stroke-width="0.45" marker-start="url(#rw_star)" marker-mid="url(#rw_star)" marker-end="url(#rw_star)"/>
<polyline points="94.0,275.6 98.6,273.9 103.2,274.7 107.8,275.6 112.3,274.1 116.9,274.7 121.5,273.7 126.1,274.0 130.7,276.4 135.3,275.9 139.9,274.5 144.5,275.1 149.0,276.1 153.6,274.9 158.2,273.6 162.8,274.1 167.4,275.1 172.0,274.3 176.6,273.8 181.2,274.7 185.7,273.3 190.3,275.0 194.9,273.0 199.5,273.4 204.1,274.2 208.7,274.4 213.3,274.5 217.9,275.2 222.5,273.8 227.0,273.6 231.6,274.0 236.2,274.3 240.8,274.4 245.4,275.2 250.0,275.0 254.6,275.5 259.2,274.2 263.7,275.2 268.3,273.9 272.9,275.0 277.5,273.5 282.1,273.4 286.7,273.4 291.3,273.7 295.9,274.7 300.4,274.7 305.0,275.0 309.6,274.3 314.2,273.3 318.8,275.3" fill="none" stroke="#4262ea" stroke-width="0.45" marker-start="url(#rw_dot)" marker-mid="url(#rw_dot)" marker-end="url(#rw_dot)"/>
<polyline points="94.0,274.1 98.6,273.9 103.2,272.8 107.8,272.3 112.3,273.3 116.9,273.8 121.5,271.9 126.1,273.9 130.7,272.4 135.3,273.0 139.9,273.3 144.5,273.1 149.0,273.8 153.6,273.9 158.2,272.9 162.8,273.8 167.4,273.6 172.0,272.1 176.6,271.8 181.2,272.3 185.7,272.5 190.3,273.3 194.9,273.0 199.5,273.6 204.1,275.1 208.7,272.9 213.3,272.9 217.9,272.4 222.5,273.9 227.0,272.3 231.6,273.5 236.2,274.0 240.8,273.3 245.4,272.4 250.0,273.1 254.6,272.8 259.2,273.7 263.7,272.8 268.3,272.4 272.9,273.7 277.5,272.8 282.1,274.0 286.7,272.9 291.3,274.1 295.9,272.8 300.4,273.1 305.0,273.9 309.6,272.8 314.2,273.8 318.8,273.0" fill="none" stroke="#4262ea" stroke-width="0.45" marker-start="url(#rw_x)" marker-mid="url(#rw_x)" marker-end="url(#rw_x)"/>
<polyline points="94.0,276.5 98.6,275.8 103.2,274.4 107.8,275.1 112.3,275.1 116.9,276.4 121.5,276.9 126.1,276.0 130.7,274.2 135.3,276.1 139.9,274.6 144.5,274.5 149.0,275.8 153.6,275.6 158.2,274.5 162.8,275.6 167.4,275.7 172.0,275.8 176.6,275.4 181.2,275.5 185.7,274.6 190.3,275.3 194.9,274.6 199.5,275.5 204.1,273.7 208.7,275.5 213.3,275.5 217.9,276.0 222.5,276.6 227.0,276.0 231.6,275.3 236.2,276.1 240.8,274.8 245.4,276.6 250.0,276.6 254.6,275.2 259.2,275.2 263.7,276.2 268.3,274.7 272.9,274.5 277.5,275.2 282.1,276.3 286.7,274.6 291.3,275.6 295.9,275.5 300.4,275.1 305.0,275.9 309.6,274.4 314.2,275.9 318.8,274.7" fill="none" stroke="#4262ea" stroke-width="0.45" marker-start="url(#rw_square)" marker-mid="url(#rw_square)" marker-end="url(#rw_square)"/>
<polyline points="94.0,275.3 98.6,267.1 103.2,260.5 107.8,255.1 112.3,247.7 116.9,244.0 121.5,236.7 126.1,233.8 130.7,232.7 135.3,230.1 139.9,224.6 144.5,223.3 149.0,219.9 153.6,220.9 158.2,217.6 162.8,214.5 167.4,212.6 172.0,210.7 176.6,212.1 181.2,213.7 185.7,213.9 190.3,210.1 194.9,208.3 199.5,206.4 204.1,207.3 208.7,205.5 213.3,208.1 217.9,206.3 222.5,207.6 227.0,207.2 231.6,205.0 236.2,203.3 240.8,203.9 245.4,204.6 250.0,202.0 254.6,201.0 259.2,203.2 263.7,202.8 268.3,203.4 272.9,201.8 277.5,201.6 282.1,201.5 286.7,202.0 291.3,203.3 295.9,201.4 300.4,201.3 305.0,205.8 309.6,205.3 314.2,203.9 318.8,204.7" fill="none" stroke="#8ee040" stroke-width="0.45" marker-start="url(#lr_plus)" marker-mid="url(#lr_plus)" marker-end="url(#lr_plus)"/>
<polyline points="94.0,276.4 98.6,269.3 103.2,260.4 107.8,253.8 112.3,248.1 116.9,245.2 121.5,239.7 126.1,237.1 130.7,233.0 135.3,232.9 139.9,228.0 144.5,227.3 149.0,225.1 153.6,221.5 158.2,220.5 162.8,220.1 167.4,219.0 172.0,215.7 176.6,213.4 181.2,212.4 185.7,213.7 190.3,213.8 194.9,211.9 199.5,210.3 204.1,211.7 208.7,212.3 213.3,210.1 217.9,208.1 222.5,208.4 227.0,210.6 231.6,207.2 236.2,207.6 240.8,207.1 245.4,211.1 250.0,211.0 254.6,210.1 259.2,208.6 263.7,209.7 268.3,211.4 272.9,212.6 277.5,211.1 282.1,209.1 286.7,208.0 291.3,210.6 295.9,210.4 300.4,209.3 305.0,206.8 309.6,206.0 314.2,206.0 318.8,209.2" fill="none" stroke="#8ee040" stroke-width="0.45" marker-start="url(#lr_circle)" marker-mid="url(#lr_circle)" marker-end="url(#lr_circle)"/>
<polyline points="94.0,275.1 98.6,268.8 103.2,262.5 107.8,256.8 112.3,252.5 116.9,245.8 121.5,240.0 126.1,237.7 130.7,235.7 135.3,233.4 139.9,230.4 144.5,224.9 149.0,223.4 153.6,218.7 158.2,220.4 162.8,220.6 167.4,219.8 172.0,219.0 176.6,216.2 181.2,211.8 185.7,213.0 190.3,211.7 194.9,209.0 199.5,205.4 204.1,206.7 208.7,206.0 213.3,204.9 217.9,206.1 222.5,206.0 227.0,207.3 231.6,208.9 236.2,209.2 240.8,206.5 245.4,204.4 250.0,204.9 254.6,207.7 259.2,205.1 263.7,205.6 268.3,203.4 272.9,204.3 277.5,207.0 282.1,207.1 286.7,207.7 291.3,204.3 295.9,208.7 300.4,208.5 305.0,207.9 309.6,210.4 314.2,207.8 318.8,205.9" fill="none" stroke="#8ee040" stroke-width="0.45" marker-start="url(#lr_star)" marker-mid="url(#lr_star)" marker-end="url(#lr_star)"/>
<polyline points="94.0,275.2 98.6,268.5 103.2,262.6 107.8,257.0 112.3,252.2 116.9,247.1 121.5,244.7 126.1,241.2 130.7,238.8 135.3,235.2 139.9,231.8 144.5,230.7 149.0,225.7 153.6,221.2 158.2,220.1 162.8,219.8 167.4,220.2 172.0,219.3 176.6,218.5 181.2,216.1 185.7,215.4 190.3,213.6 194.9,212.5 199.5,213.3 204.1,214.9 208.7,215.5 213.3,215.4 217.9,213.5 222.5,210.2 227.0,211.6 231.6,209.7 236.2,209.8 240.8,207.4 245.4,204.2 250.0,204.2 254.6,205.3 259.2,205.6 263.7,204.4 268.3,206.3 272.9,208.2 277.5,207.7 282.1,204.9 286.7,207.1 291.3,205.4 295.9,204.7 300.4,206.1 305.0,207.8 309.6,210.2 314.2,210.9 318.8,209.1" fill="none" stroke="#8ee040" stroke-width="0.45" marker-start="url(#lr_dot)" marker-mid="url(#lr_dot)" marker-end="url(#lr_dot)"/>
<polyline points="94.0,275.3 98.6,263.9 103.2,260.4 107.8,256.3 112.3,247.8 116.9,244.6 121.5,237.8 126.1,235.4 130.7,229.7 135.3,224.6 139.9,223.7 144.5,221.5 149.0,221.1 153.6,217.1 158.2,216.1 162.8,216.0 167.4,213.1 172.0,211.1 176.6,210.2 181.2,210.0 185.7,207.2 190.3,208.0 194.9,208.5 199.5,207.6 204.1,205.6 208.7,205.7 213.3,206.1 217.9,206.8 222.5,206.7 227.0,206.4 231.6,201.6 236.2,205.0 240.8,204.7 245.4,203.6 250.0,204.5 254.6,205.5 259.2,203.1 263.7,200.2 268.3,198.9 272.9,199.9 277.5,201.3 282.1,200.2 286.7,203.4 291.3,203.9 295.9,200.4 300.4,200.0 305.0,200.1 309.6,200.8 314.2,201.5 318.8,202.7" fill="none" stroke="#8ee040" stroke-width="0.45" marker-start="url(#lr_x)" marker-mid="url(#lr_x)" marker-end="url(#lr_x)"/>
<polyline points="94.0,275.4 98.6,268.2 103.2,260.0 107.8,251.8 112.3,248.7 116.9,247.9 121.5,244.6 126.1,240.6 130.7,232.2 135.3,230.8 139.9,228.5 144.5,223.9 149.0,220.5 153.6,217.7 158.2,217.8 162.8,213.5 167.4,212.8 172.0,214.1 176.6,212.4 181.2,214.1 185.7,214.5 190.3,213.6 194.9,213.6 199.5,212.2 204.1,211.5 208.7,210.5 213.3,210.5 217.9,207.0 222.5,208.3 227.0,208.2 231.6,208.7 236.2,208.3 240.8,209.2 245.4,204.0 250.0,204.7 254.6,203.3 259.2,204.4 263.7,206.6 268.3,206.5 272.9,206.7 277.5,207.7 282.1,206.1 286.7,202.5 291.3,202.7 295.9,201.4 300.4,200.2 305.0,204.8 309.6,201.1 314.2,204.4 318.8,200.9" fill="none" stroke="#8ee040" stroke-width="0.45" marker-start="url(#lr_square)" marker-mid="url(#lr_square)" marker-end="url(#lr_square)"/>
<polyline points="94.0,275.7 98.6,268.1 103.2,267.0 107.8,264.9 112.3,261.2 116.9,254.4 121.5,249.9 126.1,245.1 130.7,241.8 135.3,237.6 139.9,237.3 144.5,237.4 149.0,235.0 153.6,230.8 158.2,230.1 162.8,231.0 167.4,228.5 172.0,224.7 176.6,222.4 181.2,221.7 185.7,221.2 190.3,222.8 194.9,220.5 199.5,216.2 204.1,216.8 208.7,213.9 213.3,216.0 217.9,216.0 222.5,215.9 227.0,215.1 231.6,217.0 236.2,213.8 240.8,214.0 245.4,216.6 250.0,214.1 254.6,213.3 259.2,214.7 263.7,213.9 268.3,212.0 272.9,211.0 277.5,210.9 282.1,212.1 286.7,211.5 291.3,209.7 295.9,207.3 300.4,208.0 305.0,208.1 309.6,208.0 314.2,209.6 318.8,212.6" fill="none" stroke="#ea4a36" stroke-width="0.45" marker-start="url(#bt_plus)" marker-mid="url(#bt_plus)" marker-end="url(#bt_plus)"/>
<polyline points="94.0,276.2 98.6,273.2 103.2,269.0 107.8,264.3 112.3,260.8 116.9,257.2 121.5,254.9 126.1,250.5 130.7,246.1 135.3,243.5 139.9,240.4 144.5,237.3 149.0,236.3 153.6,234.4 158.2,233.0 162.8,229.7 167.4,229.4 172.0,227.1 176.6,228.2 181.2,223.2 185.7,221.6 190.3,222.1 194.9,221.1 199.5,217.5 204.1,217.6 208.7,219.7 213.3,218.7 217.9,218.5 222.5,216.9 227.0,216.2 231.6,218.2 236.2,216.6 240.8,214.5 245.4,212.6 250.0,212.8 254.6,210.7 259.2,210.0 263.7,210.4 268.3,209.5 272.9,214.6 277.5,212.4 282.1,210.7 286.7,211.9 291.3,211.2 295.9,212.9 300.4,213.2 305.0,213.4 309.6,214.7 314.2,214.3 318.8,216.2" fill="none" stroke="#ea4a36" stroke-width="0.45" marker-start="url(#bt_circle)" marker-mid="url(#bt_circle)" marker-end="url(#bt_circle)"/>
<polyline points="94.0,276.0 98.6,269.8 103.2,266.9 107.8,262.4 112.3,259.6 116.9,258.2 121.5,255.7 126.1,252.8 130.7,250.2 135.3,247.2 139.9,245.8 144.5,244.0 149.0,241.0 153.6,239.4 158.2,237.7 162.8,236.6 167.4,234.8 172.0,233.3 176.6,233.2 181.2,231.3 185.7,231.3 190.3,230.1 194.9,229.7 199.5,228.4 204.1,227.7 208.7,226.9 213.3,226.5 217.9,226.4 222.5,225.8 227.0,225.6 231.6,226.0 236.2,226.7 240.8,225.2 245.4,223.7 250.0,224.5 254.6,223.7 259.2,224.1 263.7,223.6 268.3,222.6 272.9,222.4 277.5,222.7 282.1,224.3 286.7,223.8 291.3,223.3 295.9,221.9 300.4,222.6 305.0,222.5 309.6,222.2 314.2,221.1 318.8,222.4" fill="none" stroke="#ea4a36" stroke-width="0.45" marker-start="url(#bt_star)" marker-mid="url(#bt_star)" marker-end="url(#bt_star)"/>
<polyline points="94.0,275.3 98.6,274.0 103.2,267.6 107.8,264.0 112.3,261.0 116.9,257.0 121.5,250.9 126.1,246.5 130.7,243.0 135.3,239.7 139.9,237.0 144.5,236.2 149.0,236.0 153.6,231.8 158.2,230.6 162.8,228.9 167.4,228.1 172.0,225.8 176.6,222.8 181.2,223.1 185.7,222.1 190.3,221.3 194.9,219.6 199.5,219.3 204.1,218.8 208.7,219.1 213.3,218.3 217.9,218.6 222.5,216.6 227.0,216.5 231.6,213.8 236.2,215.3 240.8,216.6 245.4,214.5 250.0,213.6 254.6,215.8 259.2,211.4 263.7,212.7 268.3,211.5 272.9,212.9 277.5,212.2 282.1,211.1 286.7,212.7 291.3,212.4 295.9,211.5 300.4,209.2 305.0,209.4 309.6,208.8 314.2,209.6 318.8,209.9" fill="none" stroke="#ea4a36" stroke-width="0.45" marker-start="url(#bt_dot)" marker-mid="url(#bt_dot)" marker-end="url(#bt_dot)"/>
<polyline points="94.0,275.4 98.6,272.1 103.2,266.4 107.8,261.9 112.3,258.5 116.9,254.9 121.5,252.5 126.1,246.5 130.7,245.7 135.3,239.6 139.9,237.9 144.5,231.8 149.0,230.3 153.6,229.8 158.2,228.3 162.8,227.6 167.4,224.0 172.0,223.4 176.6,222.3 181.2,222.8 185.7,220.8 190.3,222.1 194.9,221.5 199.5,218.2 204.1,220.7 208.7,218.7 213.3,216.0 217.9,215.8 222.5,213.6 227.0,212.5 231.6,212.7 236.2,215.7 240.8,215.8 245.4,215.6 250.0,213.6 254.6,213.8 259.2,214.2 263.7,215.8 268.3,215.2 272.9,214.2 277.5,217.3 282.1,215.8 286.7,214.3 291.3,214.3 295.9,214.1 300.4,214.5 305.0,212.7 309.6,213.7 314.2,211.8 318.8,211.8" fill="none" stroke="#ea4a36" stroke-width="0.45" marker-start="url(#bt_x)" marker-mid="url(#bt_x)" marker-end="url(#bt_x)"/>
<polyline points="94.0,277.3 98.6,272.1 103.2,267.6 107.8,261.7 112.3,255.3 116.9,254.6 121.5,251.0 126.1,244.3 130.7,240.9 135.3,239.5 139.9,233.8 144.5,229.1 149.0,228.4 153.6,225.8 158.2,224.5 162.8,222.6 167.4,220.0 172.0,219.7 176.6,218.7 181.2,218.0 185.7,219.1 190.3,216.4 194.9,213.9 199.5,213.0 204.1,212.4 208.7,210.8 213.3,211.6 217.9,212.5 222.5,210.7 227.0,209.9 231.6,207.1 236.2,209.6 240.8,209.2 245.4,210.4 250.0,206.4 254.6,207.4 259.2,206.4 263.7,209.8 268.3,210.1 272.9,207.7 277.5,207.9 282.1,208.3 286.7,206.7 291.3,206.5 295.9,206.3 300.4,206.0 305.0,206.8 309.6,204.4 314.2,203.7 318.8,204.9" fill="none" stroke="#ea4a36" stroke-width="0.45" marker-start="url(#bt_square)" marker-mid="url(#bt_square)" marker-end="url(#bt_square)"/>
<polyline points="94.0,276.2 98.6,278.4 103.2,276.7 107.8,278.4 112.3,277.9 116.9,276.5 121.5,276.9 126.1,277.4 130.7,277.3 135.3,277.8 139.9,277.5 144.5,277.6 149.0,276.7 153.6,277.1 158.2,278.1 162.8,276.6 167.4,277.0 172.0,276.8 176.6,276.7 181.2,277.0 185.7,277.4 190.3,276.7 194.9,276.8 199.5,277.7 204.1,277.7 208.7,277.4 213.3,277.2 217.9,277.6 222.5,278.5 227.0,276.7 231.6,278.0 236.2,278.4 240.8,278.1 245.4,277.5 250.0,277.7 254.6,279.2 259.2,278.7 263.7,278.7 268.3,278.1 272.9,277.5 277.5,278.0 282.1,276.2 286.7,277.0 291.3,276.6 295.9,277.1 300.4,278.4 305.0,277.2 309.6,278.6 314.2,278.3 318.8,277.4" fill="none" stroke="#6aeadc" stroke-width="0.45" marker-start="url(#rd_plus)" marker-mid="url(#rd_plus)" marker-end="url(#rd_plus)"/>
<polyline points="94.0,275.8 98.6,277.4 103.2,276.5 107.8,276.6 112.3,277.0 116.9,277.7 121.5,277.6 126.1,276.5 130.7,275.2 135.3,277.5 139.9,277.0 144.5,277.8 149.0,278.9 153.6,276.7 158.2,277.1 162.8,276.7 167.4,277.6 172.0,277.7 176.6,276.2 181.2,277.8 185.7,276.7 190.3,276.5 194.9,277.2 199.5,277.6 204.1,277.0 208.7,278.4 213.3,277.4 217.9,277.5 222.5,278.2 227.0,277.4 231.6,276.6 236.2,275.6 240.8,278.0 245.4,276.9 250.0,276.9 254.6,277.4 259.2,277.6 263.7,276.8 268.3,276.7 272.9,278.2 277.5,276.1 282.1,277.3 286.7,277.1 291.3,277.6 295.9,276.3 300.4,278.1 305.0,277.5 309.6,277.1 314.2,277.8 318.8,277.4" fill="none" stroke="#6aeadc" stroke-width="0.45" marker-start="url(#rd_circle)" marker-mid="url(#rd_circle)" marker-end="url(#rd_circle)"/>
<polyline points="94.0,275.5 98.6,277.0 103.2,277.2 107.8,276.5 112.3,276.8 116.9,277.6 121.5,276.3 126.1,277.1 130.7,277.5 135.3,276.2 139.9,276.5 144.5,277.4 149.0,276.4 153.6,277.3 158.2,277.2 162.8,277.5 167.4,276.3 172.0,277.0 176.6,276.5 181.2,277.8 185.7,277.2 190.3,278.0 194.9,277.3 199.5,277.2 204.1,277.0 208.7,278.0 213.3,276.2 217.9,278.0 222.5,276.1 227.0,277.0 231.6,276.2 236.2,277.6 240.8,276.8 245.4,276.5 250.0,275.4 254.6,276.6 259.2,275.7 263.7,276.6 268.3,275.9 272.9,276.8 277.5,276.8 282.1,276.2 286.7,277.7 291.3,277.9 295.9,276.7 300.4,275.3 305.0,275.8 309.6,276.7 314.2,276.3 318.8,276.6" fill="none" stroke="#6aeadc" stroke-width="0.45" marker-start="url(#rd_star)" marker-mid="url(#rd_star)" marker-end="url(#rd_star)"/>
<polyline points="94.0,275.4 98.6,277.5 103.2,277.6 107.8,278.1 112.3,277.3 116.9,276.0 121.5,276.8 126.1,277.6 130.7,277.2 135.3,277.1 139.9,276.0 144.5,276.4 149.0,276.5 153.6,275.9 158.2,276.4 162.8,276.0 167.4,277.3 172.0,277.4 176.6,277.0 181.2,275.3 185.7,277.5 190.3,276.6 194.9,276.4 199.5,277.4 204.1,277.6 208.7,275.3 213.3,276.8 217.9,277.0 222.5,276.5 227.0,276.7 231.6,277.7 236.2,278.0 240.8,276.9 245.4,277.3 250.0,276.8 254.6,277.6 259.2,275.0 263.7,276.5 268.3,275.4 272.9,277.1 277.5,276.8 282.1,277.1 286.7,276.7 291.3,276.4 295.9,277.1 300.4,277.5 305.0,277.2 309.6,276.9 314.2,276.2 318.8,277.8" fill="none" stroke="#6aeadc" stroke-width="0.45" marker-start="url(#rd_dot)" marker-mid="url(#rd_dot)" marker-end="url(#rd_dot)"/>
<polyline points="94.0,276.3 98.6,276.7 103.2,278.0 107.8,277.5 112.3,277.8 116.9,277.8 121.5,277.6 126.1,278.1 130.7,277.9 135.3,277.9 139.9,276.6 144.5,277.7 149.0,276.5 153.6,277.8 158.2,277.6 162.8,278.3 167.4,277.6 172.0,276.7 176.6,276.6 181.2,278.4 185.7,276.0 190.3,277.5 194.9,277.4 199.5,277.0 204.1,277.7 208.7,278.3 213.3,277.7 217.9,278.0 222.5,276.4 227.0,277.7 231.6,279.3 236.2,276.8 240.8,277.3 245.4,277.7 250.0,279.0 254.6,275.5 259.2,277.9 263.7,277.9 268.3,278.1 272.9,277.6 277.5,277.8 282.1,277.5 286.7,277.4 291.3,277.7 295.9,276.9 300.4,278.4 305.0,277.1 309.6,277.4 314.2,277.7 318.8,277.2" fill="none" stroke="#6aeadc" stroke-width="0.45" marker-start="url(#rd_x)" marker-mid="url(#rd_x)" marker-end="url(#rd_x)"/>
<polyline points="94.0,275.7 98.6,277.4 103.2,277.6 107.8,278.1 112.3,277.9 116.9,277.5 121.5,276.5 126.1,277.2 130.7,277.0 135.3,277.8 139.9,278.1 144.5,277.0 149.0,275.5 153.6,277.9 158.2,276.2 162.8,277.9 167.4,277.9 172.0,277.7 176.6,277.7 181.2,276.5 185.7,277.0 190.3,277.1 194.9,277.5 199.5,276.5 204.1,275.9 208.7,276.9 213.3,277.4 217.9,277.8 222.5,277.3 227.0,278.0 231.6,276.2 236.2,277.6 240.8,276.3 245.4,277.9 250.0,276.5 254.6,276.7 259.2,276.5 263.7,276.9 268.3,277.8 272.9,275.2 277.5,278.0 282.1,276.3 286.7,277.2 291.3,277.8 295.9,276.5 300.4,276.1 305.0,276.4 309.6,278.0 314.2,277.6 318.8,276.7" fill="none" stroke="#6aeadc" stroke-width="0.45" marker-start="url(#rd_square)" marker-mid="url(#rd_square)" marker-end="url(#rd_square)"/>
<polyline points="94.0,275.6 98.6,265.6 103.2,250.3 107.8,231.5 112.3,223.1 116.9,218.5 121.5,212.8 126.1,210.6 130.7,210.2 135.3,207.3 139.9,207.5 144.5,208.9 149.0,207.1 153.6,203.8 158.2,255.0 162.8,266.0 167.4,242.8 172.0,238.3 176.6,252.0 181.2,252.7 185.7,251.8 190.3,253.5 194.9,261.1 199.5,248.2 204.1,246.4 208.7,243.4 213.3,262.4 217.9,253.1 222.5,266.5 227.0,237.7 231.6,267.0 236.2,256.7 240.8,239.4 245.4,268.1 250.0,254.5 254.6,268.1 259.2,246.9 263.7,257.0 268.3,260.1 272.9,263.8 277.5,250.1 282.1,252.5 286.7,247.2 291.3,245.4 295.9,258.6 300.4,251.7 305.0,241.1 309.6,247.4 314.2,248.9 318.8,251.8" fill="none" stroke="#a44ae8" stroke-width="0.45" marker-start="url(#bp_plus)" marker-mid="url(#bp_plus)" marker-end="url(#bp_plus)"/>
<polyline points="94.0,274.9 98.6,266.0 103.2,249.3 107.8,235.2 112.3,225.9 116.9,218.7 121.5,213.8 126.1,209.0 130.7,204.8 135.3,203.8 139.9,203.8 144.5,206.5 149.0,205.3 153.6,205.0 158.2,238.7 162.8,241.8 167.4,268.1 172.0,267.7 176.6,256.1 181.2,262.1 185.7,249.2 190.3,248.8 194.9,244.5 199.5,238.7 204.1,257.2 208.7,236.6 213.3,265.1 217.9,264.6 222.5,264.9 227.0,262.9 231.6,247.6 236.2,236.3 240.8,265.6 245.4,247.1 250.0,240.6 254.6,248.8 259.2,268.1 263.7,250.3 268.3,243.7 272.9,268.1 277.5,259.0 282.1,242.9 286.7,248.1 291.3,240.9 295.9,238.8 300.4,263.1 305.0,265.0 309.6,244.8 314.2,254.7 318.8,244.2" fill="none" stroke="#a44ae8" stroke-width="0.45" marker-start="url(#bp_circle)" marker-mid="url(#bp_circle)" marker-end="url(#bp_circle)"/>
<polyline points="94.0,276.0 98.6,273.1 103.2,257.7 107.8,249.5 112.3,241.5 116.9,236.4 121.5,230.7 126.1,225.4 130.7,224.6 135.3,224.4 139.9,222.1 144.5,216.8 149.0,217.2 153.6,233.3 158.2,245.0 162.8,257.7 167.4,259.7 172.0,239.6 176.6,268.1 181.2,255.4 185.7,256.4 190.3,268.1 194.9,246.1 199.5,253.5 204.1,256.6 208.7,263.1 213.3,255.9 217.9,255.9 222.5,244.8 227.0,256.7 231.6,231.9 236.2,257.9 240.8,253.3 245.4,260.4 250.0,246.6 254.6,257.5 259.2,240.5 263.7,242.8 268.3,248.8 272.9,268.1 277.5,255.7 282.1,255.0 286.7,248.1 291.3,267.2 295.9,249.2 300.4,247.0 305.0,254.2 309.6,251.4 314.2,258.7 318.8,245.5" fill="none" stroke="#a44ae8" stroke-width="0.45" marker-start="url(#bp_star)" marker-mid="url(#bp_star)" marker-end="url(#bp_star)"/>
<polyline points="94.0,276.1 98.6,264.5 103.2,249.5 107.8,235.5 112.3,225.3 116.9,220.7 121.5,214.5 126.1,212.2 130.7,212.2 135.3,208.5 139.9,208.4 144.5,205.7 149.0,210.7 153.6,252.2 158.2,241.6 162.8,249.8 167.4,249.2 172.0,261.9 176.6,251.0 181.2,260.0 185.7,252.3 190.3,259.6 194.9,244.3 199.5,245.8 204.1,247.9 208.7,244.0 213.3,239.2 217.9,251.0 222.5,259.2 227.0,259.1 231.6,237.0 236.2,247.4 240.8,262.8 245.4,263.9 250.0,242.0 254.6,254.1 259.2,236.0 263.7,236.2 268.3,253.6 272.9,255.8 277.5,262.4 282.1,246.6 286.7,266.1 291.3,250.4 295.9,256.9 300.4,239.1 305.0,255.8 309.6,261.6 314.2,248.9 318.8,263.5" fill="none" stroke="#a44ae8" stroke-width="0.45" marker-start="url(#bp_dot)" marker-mid="url(#bp_dot)" marker-end="url(#bp_dot)"/>
<polyline points="94.0,277.4 98.6,273.0 103.2,265.3 107.8,258.6 112.3,248.7 116.9,242.2 121.5,238.0 126.1,235.3 130.7,226.6 135.3,224.3 139.9,254.8 144.5,259.5 149.0,252.0 153.6,260.7 158.2,268.1 162.8,247.9 167.4,248.4 172.0,248.5 176.6,252.0 181.2,267.8 185.7,255.8 190.3,238.4 194.9,248.7 199.5,253.2 204.1,251.6 208.7,255.9 213.3,253.9 217.9,254.0 222.5,260.7 227.0,256.9 231.6,255.2 236.2,254.2 240.8,231.9 245.4,255.7 250.0,266.9 254.6,257.3 259.2,268.1 263.7,238.9 268.3,259.1 272.9,256.8 277.5,253.0 282.1,245.6 286.7,259.1 291.3,251.5 295.9,256.2 300.4,254.9 305.0,248.6 309.6,260.2 314.2,240.5 318.8,254.0" fill="none" stroke="#a44ae8" stroke-width="0.45" marker-start="url(#bp_x)" marker-mid="url(#bp_x)" marker-end="url(#bp_x)"/>
<polyline points="94.0,276.3 98.6,266.3 103.2,253.4 107.8,240.5 112.3,227.4 116.9,219.2 121.5,210.7 126.1,207.7 130.7,203.9 135.3,207.4 139.9,208.5 144.5,207.0 149.0,206.8 153.6,258.2 158.2,258.3 162.8,243.1 167.4,255.2 172.0,249.9 176.6,266.4 181.2,260.4 185.7,260.2 190.3,261.2 194.9,268.1 199.5,263.5 204.1,246.4 208.7,251.6 213.3,245.8 217.9,260.0 222.5,236.3 227.0,257.9 231.6,257.6 236.2,249.7 240.8,257.6 245.4,252.0 250.0,238.3 254.6,246.5 259.2,256.3 263.7,241.0 268.3,257.1 272.9,257.2 277.5,250.1 282.1,248.6 286.7,268.1 291.3,251.0 295.9,257.5 300.4,265.7 305.0,266.6 309.6,266.1 314.2,268.1 318.8,247.1" fill="none" stroke="#a44ae8" stroke-width="0.45" marker-start="url(#bp_square)" marker-mid="url(#bp_square)" marker-end="url(#bp_square)"/>
<polyline points="94.0,276.3 98.6,265.8 103.2,254.0 107.8,244.6 112.3,235.2 116.9,228.3 121.5,222.4 126.1,214.7 130.7,209.2 135.3,205.9 139.9,203.8 144.5,201.7 149.0,201.2 153.6,199.0 158.2,196.1 162.8,196.6 167.4,193.2 172.0,193.4 176.6,191.9 181.2,192.1 185.7,194.1 190.3,195.4 194.9,193.1 199.5,191.9 204.1,193.7 208.7,191.3 213.3,192.4 217.9,189.1 222.5,191.3 227.0,191.1 231.6,192.0 236.2,193.5 240.8,192.8 245.4,194.1 250.0,195.2 254.6,194.8 259.2,196.1 263.7,196.9 268.3,196.1 272.9,195.0 277.5,193.5 282.1,192.1 286.7,192.9 291.3,191.3 295.9,191.8 300.4,192.7 305.0,191.9 309.6,191.0 314.2,192.0 318.8,193.1" fill="none" stroke="#e6e620" stroke-width="0.45" marker-start="url(#qt_plus)" marker-mid="url(#qt_plus)" marker-end="url(#qt_plus)"/>
<polyline points="94.0,275.6 98.6,267.5 103.2,259.9 107.8,252.7 112.3,245.2 116.9,242.1 121.5,237.3 126.1,232.1 130.7,232.3 135.3,226.1 139.9,223.0 144.5,216.6 149.0,214.8 153.6,215.5 158.2,213.9 162.8,213.0 167.4,210.9 172.0,212.1 176.6,209.9 181.2,209.0 185.7,208.2 190.3,206.4 194.9,205.6 199.5,202.2 204.1,202.4 208.7,201.7 213.3,203.2 217.9,204.0 222.5,201.2 227.0,202.4 231.6,204.0 236.2,204.9 240.8,204.9 245.4,205.2 250.0,204.8 254.6,201.6 259.2,201.8 263.7,200.8 268.3,197.9 272.9,200.1 277.5,201.3 282.1,203.6 286.7,200.9 291.3,200.3 295.9,203.1 300.4,200.3 305.0,199.0 309.6,203.6 314.2,204.2 318.8,201.6" fill="none" stroke="#e6e620" stroke-width="0.45" marker-start="url(#qt_circle)" marker-mid="url(#qt_circle)" marker-end="url(#qt_circle)"/>
<polyline points="94.0,276.7 98.6,267.9 103.2,258.3 107.8,249.3 112.3,244.1 116.9,234.9 121.5,230.6 126.1,227.0 130.7,226.0 135.3,224.0 139.9,221.7 144.5,217.0 149.0,216.2 153.6,211.8 158.2,209.0 162.8,209.2 167.4,208.1 172.0,204.7 176.6,205.8 181.2,208.1 185.7,207.1 190.3,204.9 194.9,202.3 199.5,201.2 204.1,197.5 208.7,197.2 213.3,197.9 217.9,197.0 222.5,196.3 227.0,197.2 231.6,196.9 236.2,196.9 240.8,197.5 245.4,198.1 250.0,200.0 254.6,199.8 259.2,200.7 263.7,198.9 268.3,198.8 272.9,200.5 277.5,200.0 282.1,200.0 286.7,201.6 291.3,201.4 295.9,200.2 300.4,197.5 305.0,198.0 309.6,197.5 314.2,196.1 318.8,195.5" fill="none" stroke="#e6e620" stroke-width="0.45" marker-start="url(#qt_star)" marker-mid="url(#qt_star)" marker-end="url(#qt_star)"/>
<polyline points="94.0,275.7 98.6,267.1 103.2,258.9 107.8,250.5 112.3,243.9 116.9,237.8 121.5,236.2 126.1,232.1 130.7,228.1 135.3,226.1 139.9,225.6 144.5,220.5 149.0,214.2 153.6,214.3 158.2,212.1 162.8,207.7 167.4,207.5 172.0,207.1 176.6,207.8 181.2,206.4 185.7,203.9 190.3,201.9 194.9,202.3 199.5,200.5 204.1,202.5 208.7,202.5 213.3,201.2 217.9,200.3 222.5,198.6 227.0,199.2 231.6,202.2 236.2,199.3 240.8,196.2 245.4,196.5 250.0,197.7 254.6,198.7 259.2,198.5 263.7,200.5 268.3,199.5 272.9,199.5 277.5,201.3 282.1,199.9 286.7,198.6 291.3,195.9 295.9,196.8 300.4,195.0 305.0,197.0 309.6,198.0 314.2,197.5 318.8,198.7" fill="none" stroke="#e6e620" stroke-width="0.45" marker-start="url(#qt_dot)" marker-mid="url(#qt_dot)" marker-end="url(#qt_dot)"/>
<polyline points="94.0,275.8 98.6,266.7 103.2,259.1 107.8,252.9 112.3,244.2 116.9,239.5 121.5,233.8 126.1,229.6 130.7,225.0 135.3,222.3 139.9,220.6 144.5,217.2 149.0,214.3 153.6,211.5 158.2,209.3 162.8,207.6 167.4,208.0 172.0,205.0 176.6,202.8 181.2,202.6 185.7,201.7 190.3,201.0 194.9,198.5 199.5,200.9 204.1,200.3 208.7,198.5 213.3,200.4 217.9,200.0 222.5,196.4 227.0,198.3 231.6,197.6 236.2,198.2 240.8,197.5 245.4,197.9 250.0,196.9 254.6,198.4 259.2,194.9 263.7,194.5 268.3,194.3 272.9,195.2 277.5,194.8 282.1,195.1 286.7,194.2 291.3,194.9 295.9,195.3 300.4,193.1 305.0,192.2 309.6,190.8 314.2,191.0 318.8,194.7" fill="none" stroke="#e6e620" stroke-width="0.45" marker-start="url(#qt_x)" marker-mid="url(#qt_x)" marker-end="url(#qt_x)"/>
<polyline points="94.0,275.3 98.6,264.0 103.2,257.0 107.8,250.4 112.3,245.3 116.9,238.6 121.5,236.8 126.1,234.5 130.7,228.7 135.3,227.8 139.9,223.4 144.5,220.5 149.0,216.3 153.6,216.2 158.2,215.6 162.8,213.5 167.4,211.9 172.0,211.4 176.6,210.9 181.2,209.0 185.7,206.6 190.3,208.8 194.9,205.7 199.5,204.3 204.1,204.6 208.7,205.3 213.3,205.2 217.9,206.9 222.5,204.9 227.0,203.8 231.6,203.1 236.2,202.1 240.8,203.5 245.4,201.4 250.0,201.6 254.6,201.3 259.2,200.8 263.7,200.4 268.3,199.5 272.9,199.7 277.5,199.8 282.1,201.2 286.7,201.7 291.3,203.3 295.9,201.9 300.4,201.8 305.0,201.4 309.6,200.2 314.2,200.8 318.8,198.8" fill="none" stroke="#e6e620" stroke-width="0.45" marker-start="url(#qt_square)" marker-mid="url(#qt_square)" marker-end="url(#qt_square)"/>
<polyline points="94.0,276.6 98.6,273.8 103.2,274.7 107.8,273.7 112.3,273.0 116.9,274.0 121.5,273.1 126.1,272.3 130.7,272.4 135.3,273.0 139.9,273.8 144.5,271.7 149.0,271.5 153.6,270.6 158.2,271.1 162.8,272.8 167.4,272.5 172.0,272.8 176.6,270.9 181.2,271.5 185.7,271.2 190.3,271.7 194.9,272.6 199.5,270.9 204.1,272.5 208.7,272.7 213.3,271.8 217.9,270.5 222.5,269.7 227.0,270.5 231.6,270.5 236.2,270.2 240.8,269.8 245.4,269.5 250.0,271.2 254.6,271.0 259.2,267.8 263.7,271.5 268.3,272.3 272.9,270.9 277.5,270.8 282.1,271.0 286.7,268.8 291.3,269.3 295.9,270.9 300.4,268.0 305.0,270.5 309.6,269.9 314.2,270.8 318.8,270.8" fill="none" stroke="#e9b63c" stroke-width="0.45" marker-start="url(#sus_plus)" marker-mid="url(#sus_plus)" marker-end="url(#sus_plus)"/>
<polyline points="94.0,274.7 98.6,274.1 103.2,274.1 107.8,272.4 112.3,274.5 116.9,273.2 121.5,273.6 126.1,272.8 130.7,272.6 135.3,272.8 139.9,273.0 144.5,271.5 149.0,269.7 153.6,271.1 158.2,271.4 162.8,271.9 167.4,270.5 172.0,270.5 176.6,269.0 181.2,270.9 185.7,269.2 190.3,271.2 194.9,270.0 199.5,269.6 204.1,270.7 208.7,271.7 213.3,269.9 217.9,269.7 222.5,268.9 227.0,268.9 231.6,268.3 236.2,270.6 240.8,268.4 245.4,269.3 250.0,269.0 254.6,271.4 259.2,269.2 263.7,269.5 268.3,269.5 272.9,267.3 277.5,270.1 282.1,269.9 286.7,269.3 291.3,269.2 295.9,270.4 300.4,270.5 305.0,269.5 309.6,270.5 314.2,268.9 318.8,269.9" fill="none" stroke="#e9b63c" stroke-width="0.45" marker-start="url(#sus_circle)" marker-mid="url(#sus_circle)" marker-end="url(#sus_circle)"/>
<polyline points="94.0,275.3 98.6,272.7 103.2,272.8 107.8,272.1 112.3,272.6 116.9,273.6 121.5,272.1 126.1,271.9 130.7,271.8 135.3,271.0 139.9,269.5 144.5,270.1 149.0,270.2 153.6,269.9 158.2,271.2 162.8,268.5 167.4,269.9 172.0,268.8 176.6,268.9 181.2,268.8 185.7,268.1 190.3,269.5 194.9,268.6 199.5,269.5 204.1,269.3 208.7,271.1 213.3,269.1 217.9,269.2 222.5,268.8 227.0,269.8 231.6,270.0 236.2,268.7 240.8,269.1 245.4,268.4 250.0,269.7 254.6,270.1 259.2,268.4 263.7,268.5 268.3,268.5 272.9,268.3 277.5,268.5 282.1,268.8 286.7,269.4 291.3,268.4 295.9,268.7 300.4,268.9 305.0,269.8 309.6,269.0 314.2,268.1 318.8,268.0" fill="none" stroke="#e9b63c" stroke-width="0.45" marker-start="url(#sus_star)" marker-mid="url(#sus_star)" marker-end="url(#sus_star)"/>
<polyline points="94.0,275.2 98.6,273.7 103.2,274.4 107.8,274.8 112.3,272.8 116.9,274.7 121.5,272.9 126.1,273.0 130.7,272.3 135.3,272.0 139.9,272.1 144.5,271.1 149.0,273.4 153.6,271.2 158.2,270.6 162.8,272.8 167.4,272.7 172.0,271.8 176.6,272.2 181.2,270.3 185.7,270.5 190.3,271.5 194.9,271.3 199.5,269.3 204.1,271.2 208.7,271.2 213.3,268.9 217.9,269.4 222.5,270.7 227.0,269.8 231.6,271.7 236.2,269.4 240.8,267.7 245.4,270.5 250.0,269.5 254.6,270.2 259.2,270.9 263.7,270.1 268.3,270.4 272.9,271.1 277.5,269.9 282.1,269.6 286.7,269.4 291.3,269.5 295.9,269.6 300.4,269.7 305.0,270.1 309.6,271.0 314.2,269.8 318.8,270.2" fill="none" stroke="#e9b63c" stroke-width="0.45" marker-start="url(#sus_dot)" marker-mid="url(#sus_dot)" marker-end="url(#sus_dot)"/>
<polyline points="94.0,275.8 98.6,273.5 103.2,275.2 107.8,273.1 112.3,274.5 116.9,273.5 121.5,272.3 126.1,273.2 130.7,273.3 135.3,273.6 139.9,271.6 144.5,273.2 149.0,272.1 153.6,272.2 158.2,271.6 162.8,270.6 167.4,271.2 172.0,269.8 176.6,269.9 181.2,271.5 185.7,272.4 190.3,271.4 194.9,271.4 199.5,269.8 204.1,271.0 208.7,270.4 213.3,272.1 217.9,270.3 222.5,269.3 227.0,270.6 231.6,271.4 236.2,270.7 240.8,270.4 245.4,270.4 250.0,270.4 254.6,270.1 259.2,271.1 263.7,270.6 268.3,270.6 272.9,270.6 277.5,271.9 282.1,270.2 286.7,269.9 291.3,271.4 295.9,268.9 300.4,270.5 305.0,270.4 309.6,269.8 314.2,270.2 318.8,269.4" fill="none" stroke="#e9b63c" stroke-width="0.45" marker-start="url(#sus_x)" marker-mid="url(#sus_x)" marker-end="url(#sus_x)"/>
<polyline points="94.0,277.4 98.6,275.6 103.2,275.6 107.8,275.1 112.3,275.3 116.9,275.5 121.5,276.1 126.1,273.3 130.7,274.2 135.3,274.1 139.9,273.9 144.5,274.0 149.0,273.7 153.6,272.6 158.2,273.1 162.8,274.4 167.4,273.3 172.0,273.5 176.6,273.0 181.2,273.0 185.7,271.6 190.3,273.8 194.9,272.1 199.5,272.1 204.1,273.0 208.7,273.8 213.3,272.4 217.9,273.7 222.5,271.2 227.0,271.7 231.6,274.2 236.2,272.1 240.8,272.5 245.4,272.8 250.0,272.8 254.6,270.7 259.2,272.8 263.7,272.6 268.3,271.0 272.9,272.0 277.5,273.3 282.1,269.4 286.7,271.5 291.3,272.5 295.9,269.4 300.4,271.3 305.0,271.5 309.6,272.0 314.2,271.0 318.8,271.3" fill="none" stroke="#e9b63c" stroke-width="0.45" marker-start="url(#sus_square)" marker-mid="url(#sus_square)" marker-end="url(#sus_square)"/>
<polyline points="395.2,259.2 399.8,258.2 404.4,258.3 409.0,258.7 413.6,260.1 418.2,261.7 422.8,261.2 427.4,262.0 432.0,261.1 436.6,261.3 441.2,262.4 445.8,262.1 450.3,261.5 454.9,261.8 459.5,263.0 464.1,262.6 468.7,262.3 473.3,261.7 477.9,261.4 482.5,263.0 487.1,263.6 491.7,262.8 496.3,264.7 500.9,263.3 505.5,264.2 510.1,264.3 514.7,262.4 519.3,262.8 523.9,263.4 528.5,263.1 533.1,263.3 537.7,264.0 542.3,263.5 546.9,261.2 551.5,261.1 556.1,261.6 560.7,262.1 565.2,261.8 569.8,261.8 574.4,263.4 579.0,262.9 583.6,263.1 588.2,261.5 592.8,262.5 597.4,261.6 602.0,263.6 606.6,263.2 611.2,264.1 615.8,264.8 620.4,263.5" fill="none" stroke="#4262ea" stroke-width="0.45" marker-start="url(#rw_plus)" marker-mid="url(#rw_plus)" marker-end="url(#rw_plus)"/>
<polyline points="395.2,261.1 399.8,261.5 404.4,261.4 409.0,264.1 413.6,262.7 418.2,263.3 422.8,261.0 427.4,260.8 432.0,260.7 436.6,264.2 441.2,262.0 445.8,262.5 450.3,264.2 454.9,263.6 459.5,262.2 464.1,264.4 468.7,263.0 473.3,263.6 477.9,264.3 482.5,264.5 487.1,265.1 491.7,264.4 496.3,263.9 500.9,262.9 505.5,261.8 510.1,263.0 514.7,262.3 519.3,264.2 523.9,263.5 528.5,264.8 533.1,265.1 537.7,264.1 542.3,264.8 546.9,264.0 551.5,265.6 556.1,265.7 560.7,264.5 565.2,262.8 569.8,264.5 574.4,262.8 579.0,263.1 583.6,261.2 588.2,262.7 592.8,263.8 597.4,263.6 602.0,265.0 606.6,264.5 611.2,264.5 615.8,263.0 620.4,263.1" fill="none" stroke="#4262ea" stroke-width="0.45" marker-start="url(#rw_circle)" marker-mid="url(#rw_circle)" marker-end="url(#rw_circle)"/>
<polyline points="395.2,261.3 399.8,264.3 404.4,265.6 409.0,262.1 413.6,263.1 418.2,261.6 422.8,262.8 427.4,263.2 432.0,264.9 436.6,262.8 441.2,263.3 445.8,261.6 450.3,263.0 454.9,261.8 459.5,260.9 464.1,263.4 468.7,263.0 473.3,264.3 477.9,265.2 482.5,264.4 487.1,263.3 491.7,262.0 496.3,263.0 500.9,262.3 505.5,262.3 510.1,262.9 514.7,264.2 519.3,264.0 523.9,260.3 528.5,262.7 533.1,263.3 537.7,264.5 542.3,262.8 546.9,261.3 551.5,261.0 556.1,260.1 560.7,261.7 565.2,260.8 569.8,262.9 574.4,261.7 579.0,261.0 583.6,262.8 588.2,262.3 592.8,264.1 597.4,265.5 602.0,266.3 606.6,266.5 611.2,266.7 615.8,265.7 620.4,263.2" fill="none" stroke="#4262ea" stroke-width="0.45" marker-start="url(#rw_star)" marker-mid="url(#rw_star)" marker-end="url(#rw_star)"/>
<polyline points="395.2,260.6 399.8,261.0 404.4,261.5 409.0,261.7 413.6,261.8 418.2,263.3 422.8,263.8 427.4,262.9 432.0,263.9 436.6,264.4 441.2,264.3 445.8,264.1 450.3,264.8 454.9,264.4 459.5,264.8 464.1,266.5 468.7,265.5 473.3,266.5 477.9,263.0 482.5,263.8 487.1,265.0 491.7,264.5 496.3,263.6 500.9,263.0 505.5,264.0 510.1,263.7 514.7,264.0 519.3,264.8 523.9,267.0 528.5,266.7 533.1,269.3 537.7,269.1 542.3,266.6 546.9,266.3 551.5,266.4 556.1,267.4 560.7,267.9 565.2,268.1 569.8,268.9 574.4,270.4 579.0,267.8 583.6,265.5 588.2,266.6 592.8,265.8 597.4,267.4 602.0,266.7 606.6,268.1 611.2,266.6 615.8,266.5 620.4,267.9" fill="none" stroke="#4262ea" stroke-width="0.45" marker-start="url(#rw_dot)" marker-mid="url(#rw_dot)" marker-end="url(#rw_dot)"/>
<polyline points="395.2,259.9 399.8,260.5 404.4,261.0 409.0,261.3 413.6,260.4 418.2,259.9 422.8,263.4 427.4,262.0 432.0,262.8 436.6,261.3 441.2,261.8 445.8,261.6 450.3,263.2 454.9,265.0 459.5,264.5 464.1,263.4 468.7,263.1 473.3,262.9 477.9,263.4 482.5,263.2 487.1,264.7 491.7,264.9 496.3,266.6 500.9,266.0 505.5,266.0 510.1,265.5 514.7,264.3 519.3,264.6 523.9,267.9 528.5,265.4 533.1,265.1 537.7,264.4 542.3,265.6 546.9,264.6 551.5,263.3 556.1,265.8 560.7,264.3 565.2,265.7 569.8,266.4 574.4,266.0 579.0,263.5 583.6,266.2 588.2,266.5 592.8,266.0 597.4,265.1 602.0,265.3 606.6,264.9 611.2,266.2 615.8,265.1 620.4,264.1" fill="none" stroke="#4262ea" stroke-width="0.45" marker-start="url(#rw_x)" marker-mid="url(#rw_x)" marker-end="url(#rw_x)"/>
<polyline points="395.2,261.3 399.8,261.0 404.4,261.0 409.0,262.9 413.6,263.3 418.2,263.7 422.8,262.0 427.4,262.6 432.0,263.5 436.6,264.5 441.2,264.1 445.8,262.7 450.3,264.8 454.9,264.3 459.5,263.7 464.1,261.7 468.7,261.9 473.3,261.4 477.9,262.5 482.5,264.7 487.1,266.0 491.7,266.1 496.3,265.3 500.9,265.2 505.5,265.4 510.1,263.1 514.7,266.2 519.3,266.7 523.9,263.3 528.5,263.4 533.1,264.6 537.7,265.8 542.3,264.5 546.9,263.8 551.5,263.2 556.1,265.2 560.7,264.8 565.2,265.0 569.8,264.4 574.4,266.2 579.0,265.0 583.6,263.2 588.2,265.2 592.8,264.1 597.4,262.5 602.0,262.4 606.6,263.4 611.2,263.8 615.8,264.7 620.4,264.4" fill="none" stroke="#4262ea" stroke-width="0.45" marker-start="url(#rw_square)" marker-mid="url(#rw_square)" marker-end="url(#rw_square)"/>
<polyline points="395.2,261.2 399.8,252.9 404.4,247.5 409.0,239.0 413.6,235.6 418.2,229.3 422.8,224.8 427.4,222.6 432.0,219.3 436.6,216.9 441.2,214.7 445.8,211.2 450.3,210.3 454.9,210.0 459.5,206.8 464.1,205.2 468.7,204.3 473.3,203.8 477.9,202.4 482.5,201.7 487.1,201.5 491.7,201.7 496.3,200.3 500.9,199.0 505.5,199.0 510.1,196.8 514.7,197.7 519.3,198.3 523.9,197.5 528.5,198.0 533.1,198.3 537.7,199.0 542.3,198.7 546.9,200.3 551.5,200.5 556.1,200.8 560.7,202.0 565.2,199.9 569.8,199.8 574.4,200.3 579.0,199.4 583.6,200.3 588.2,199.0 592.8,197.8 597.4,199.5 602.0,198.2 606.6,198.4 611.2,197.6 615.8,198.0 620.4,199.1" fill="none" stroke="#8ee040" stroke-width="0.45" marker-start="url(#lr_plus)" marker-mid="url(#lr_plus)" marker-end="url(#lr_plus)"/>
<polyline points="395.2,261.7 399.8,253.2 404.4,246.5 409.0,239.4 413.6,236.3 418.2,232.3 422.8,228.6 427.4,224.2 432.0,222.1 436.6,219.1 441.2,214.8 445.8,212.0 450.3,209.3 454.9,209.0 459.5,208.9 464.1,207.3 468.7,207.1 473.3,206.0 477.9,205.2 482.5,204.0 487.1,202.3 491.7,201.2 496.3,200.8 500.9,201.4 505.5,201.0 510.1,201.5 514.7,202.3 519.3,203.2 523.9,202.9 528.5,201.7 533.1,200.8 537.7,200.8 542.3,200.3 546.9,201.0 551.5,199.5 556.1,199.8 560.7,200.4 565.2,200.0 569.8,200.4 574.4,200.2 579.0,199.1 583.6,200.4 588.2,200.7 592.8,200.8 597.4,200.6 602.0,199.0 606.6,198.8 611.2,198.3 615.8,201.4 620.4,200.6" fill="none" stroke="#8ee040" stroke-width="0.45" marker-start="url(#lr_circle)" marker-mid="url(#lr_circle)" marker-end="url(#lr_circle)"/>
<polyline points="395.2,260.1 399.8,251.9 404.4,243.7 409.0,237.5 413.6,231.9 418.2,227.5 422.8,223.2 427.4,219.0 432.0,215.3 436.6,213.0 441.2,210.9 445.8,209.3 450.3,206.9 454.9,206.2 459.5,205.4 464.1,204.2 468.7,203.8 473.3,202.7 477.9,200.7 482.5,200.8 487.1,199.5 491.7,199.0 496.3,199.3 500.9,199.0 505.5,198.1 510.1,199.4 514.7,198.9 519.3,198.1 523.9,199.2 528.5,198.1 533.1,198.0 537.7,199.2 542.3,198.8 546.9,200.2 551.5,200.8 556.1,201.4 560.7,200.3 565.2,200.1 569.8,200.4 574.4,200.3 579.0,199.9 583.6,199.9 588.2,200.0 592.8,199.5 597.4,200.2 602.0,200.2 606.6,198.8 611.2,198.6 615.8,200.4 620.4,198.5" fill="none" stroke="#8ee040" stroke-width="0.45" marker-start="url(#lr_star)" marker-mid="url(#lr_star)" marker-end="url(#lr_star)"/>
<polyline points="395.2,261.0 399.8,255.3 404.4,249.2 409.0,243.4 413.6,238.2 418.2,233.8 422.8,229.7 427.4,225.7 432.0,222.7 436.6,219.6 441.2,216.6 445.8,215.9 450.3,213.6 454.9,212.3 459.5,210.4 464.1,208.2 468.7,208.3 473.3,207.2 477.9,205.1 482.5,203.6 487.1,203.8 491.7,202.6 496.3,202.2 500.9,202.0 505.5,202.3 510.1,201.7 514.7,200.9 519.3,201.5 523.9,200.8 528.5,201.7 533.1,202.3 537.7,201.1 542.3,201.0 546.9,201.4 551.5,200.6 556.1,199.9 560.7,199.9 565.2,198.8 569.8,199.9 574.4,200.5 579.0,199.5 583.6,200.5 588.2,199.7 592.8,201.1 597.4,201.5 602.0,201.0 606.6,200.9 611.2,199.2 615.8,200.3 620.4,200.1" fill="none" stroke="#8ee040" stroke-width="0.45" marker-start="url(#lr_dot)" marker-mid="url(#lr_dot)" marker-end="url(#lr_dot)"/>
<polyline points="395.2,260.2 399.8,253.1 404.4,246.3 409.0,238.6 413.6,232.8 418.2,227.8 422.8,223.6 427.4,221.2 432.0,217.4 436.6,214.5 441.2,211.2 445.8,209.6 450.3,209.1 454.9,208.0 459.5,205.3 464.1,205.8 468.7,206.1 473.3,204.7 477.9,202.7 482.5,202.4 487.1,203.2 491.7,200.8 496.3,201.7 500.9,200.9 505.5,199.8 510.1,200.2 514.7,200.0 519.3,199.1 523.9,200.9 528.5,200.1 533.1,199.4 537.7,198.8 542.3,199.9 546.9,199.8 551.5,200.5 556.1,201.0 560.7,201.6 565.2,200.6 569.8,200.4 574.4,199.5 579.0,201.8 583.6,202.0 588.2,201.1 592.8,199.4 597.4,200.4 602.0,201.9 606.6,201.8 611.2,201.3 615.8,200.2 620.4,199.3" fill="none" stroke="#8ee040" stroke-width="0.45" marker-start="url(#lr_x)" marker-mid="url(#lr_x)" marker-end="url(#lr_x)"/>
<polyline points="395.2,259.8 399.8,252.3 404.4,244.4 409.0,238.5 413.6,233.0 418.2,227.4 422.8,224.0 427.4,220.3 432.0,217.1 436.6,212.3 441.2,209.9 445.8,209.2 450.3,207.0 454.9,206.8 459.5,205.0 464.1,205.4 468.7,203.3 473.3,202.6 477.9,202.9 482.5,201.5 487.1,200.2 491.7,199.6 496.3,199.4 500.9,200.4 505.5,199.1 510.1,200.8 514.7,200.4 519.3,198.0 523.9,199.4 528.5,200.5 533.1,200.4 537.7,199.2 542.3,198.9 546.9,197.8 551.5,197.9 556.1,198.9 560.7,197.8 565.2,198.4 569.8,197.7 574.4,196.7 579.0,196.8 583.6,196.2 588.2,198.0 592.8,198.3 597.4,198.0 602.0,199.0 606.6,197.5 611.2,196.7 615.8,196.8 620.4,196.8" fill="none" stroke="#8ee040" stroke-width="0.45" marker-start="url(#lr_square)" marker-mid="url(#lr_square)" marker-end="url(#lr_square)"/>
<polyline points="395.2,260.4 399.8,253.3 404.4,246.9 409.0,240.8 413.6,236.5 418.2,232.0 422.8,227.5 427.4,223.2 432.0,221.3 436.6,218.0 441.2,215.1 445.8,213.2 450.3,211.5 454.9,210.2 459.5,208.8 464.1,207.9 468.7,207.7 473.3,205.5 477.9,204.6 482.5,204.4 487.1,203.0 491.7,203.0 496.3,202.3 500.9,203.2 505.5,203.0 510.1,201.7 514.7,200.6 519.3,199.7 523.9,199.3 528.5,198.9 533.1,200.1 537.7,201.2 542.3,202.5 546.9,201.7 551.5,201.4 556.1,200.1 560.7,200.4 565.2,199.4 569.8,200.8 574.4,199.5 579.0,199.9 583.6,199.2 588.2,199.0 592.8,200.1 597.4,199.6 602.0,200.3 606.6,199.7 611.2,199.6 615.8,199.6 620.4,199.9" fill="none" stroke="#ea4a36" stroke-width="0.45" marker-start="url(#bt_plus)" marker-mid="url(#bt_plus)" marker-end="url(#bt_plus)"/>
<polyline points="395.2,260.5 399.8,253.1 404.4,246.5 409.0,241.3 413.6,235.7 418.2,231.3 422.8,226.1 427.4,223.7 432.0,219.6 436.6,217.6 441.2,214.9 445.8,213.0 450.3,211.8 454.9,211.2 459.5,208.7 464.1,208.4 468.7,207.1 473.3,204.9 477.9,203.3 482.5,202.9 487.1,203.6 491.7,202.9 496.3,202.3 500.9,202.3 505.5,200.9 510.1,200.7 514.7,200.4 519.3,200.4 523.9,201.2 528.5,201.3 533.1,201.4 537.7,200.0 542.3,199.9 546.9,199.6 551.5,199.4 556.1,199.2 560.7,198.3 565.2,198.3 569.8,198.6 574.4,198.9 579.0,198.2 583.6,199.8 588.2,198.8 592.8,199.4 597.4,199.1 602.0,199.4 606.6,199.4 611.2,199.5 615.8,201.8 620.4,201.5" fill="none" stroke="#ea4a36" stroke-width="0.45" marker-start="url(#bt_circle)" marker-mid="url(#bt_circle)" marker-end="url(#bt_circle)"/>
<polyline points="395.2,261.0 399.8,255.9 404.4,251.3 409.0,247.1 413.6,243.2 418.2,239.7 422.8,236.6 427.4,233.7 432.0,231.1 436.6,228.7 441.2,226.5 445.8,224.6 450.3,222.8 454.9,221.3 459.5,219.8 464.1,218.6 468.7,217.4 473.3,216.4 477.9,215.5 482.5,214.7 487.1,214.0 491.7,213.3 496.3,212.7 500.9,212.2 505.5,211.7 510.1,211.2 514.7,210.8 519.3,210.4 523.9,210.0 528.5,209.6 533.1,209.2 537.7,208.9 542.3,208.5 546.9,208.1 551.5,207.7 556.1,207.4 560.7,207.0 565.2,206.7 569.8,206.3 574.4,206.0 579.0,205.6 583.6,205.3 588.2,205.0 592.8,204.7 597.4,204.5 602.0,204.2 606.6,204.0 611.2,203.8 615.8,203.6 620.4,203.5" fill="none" stroke="#ea4a36" stroke-width="0.45" marker-start="url(#bt_star)" marker-mid="url(#bt_star)" marker-end="url(#bt_star)"/>
<polyline points="395.2,261.4 399.8,254.5 404.4,246.9 409.0,241.8 413.6,236.4 418.2,230.8 422.8,227.0 427.4,223.6 432.0,221.6 436.6,217.4 441.2,215.1 445.8,213.7 450.3,210.9 454.9,209.5 459.5,208.0 464.1,207.1 468.7,205.4 473.3,204.1 477.9,203.8 482.5,203.1 487.1,201.5 491.7,201.3 496.3,201.4 500.9,200.1 505.5,200.6 510.1,200.3 514.7,200.9 519.3,201.0 523.9,200.7 528.5,199.8 533.1,199.0 537.7,199.3 542.3,198.8 546.9,198.9 551.5,198.5 556.1,199.2 560.7,198.9 565.2,199.0 569.8,198.8 574.4,197.2 579.0,197.6 583.6,197.2 588.2,197.1 592.8,198.7 597.4,198.4 602.0,197.8 606.6,199.1 611.2,199.4 615.8,196.9 620.4,197.5" fill="none" stroke="#ea4a36" stroke-width="0.45" marker-start="url(#bt_dot)" marker-mid="url(#bt_dot)" marker-end="url(#bt_dot)"/>
<polyline points="395.2,260.7 399.8,253.2 404.4,246.6 409.0,239.6 413.6,233.4 418.2,228.7 422.8,225.6 427.4,222.5 432.0,220.2 436.6,216.9 441.2,214.7 445.8,212.8 450.3,211.3 454.9,209.2 459.5,207.7 464.1,207.2 468.7,205.0 473.3,204.2 477.9,204.5 482.5,203.1 487.1,203.2 491.7,201.4 496.3,200.5 500.9,200.4 505.5,199.1 510.1,200.2 514.7,200.1 519.3,200.4 523.9,200.9 528.5,201.4 533.1,200.1 537.7,200.2 542.3,200.7 546.9,200.7 551.5,198.3 556.1,198.9 560.7,199.7 565.2,199.8 569.8,199.0 574.4,199.3 579.0,199.6 583.6,199.6 588.2,199.9 592.8,200.0 597.4,198.9 602.0,199.3 606.6,199.5 611.2,201.4 615.8,200.2 620.4,199.2" fill="none" stroke="#ea4a36" stroke-width="0.45" marker-start="url(#bt_x)" marker-mid="url(#bt_x)" marker-end="url(#bt_x)"/>
<polyline points="395.2,260.9 399.8,253.9 404.4,246.8 409.0,242.2 413.6,235.6 418.2,230.0 422.8,226.3 427.4,223.5 432.0,220.2 436.6,217.4 441.2,214.3 445.8,212.4 450.3,210.8 454.9,208.6 459.5,207.1 464.1,206.2 468.7,205.9 473.3,205.4 477.9,204.9 482.5,204.5 487.1,203.8 491.7,202.2 496.3,202.1 500.9,201.9 505.5,202.8 510.1,201.3 514.7,201.3 519.3,200.5 523.9,200.1 528.5,200.5 533.1,200.0 537.7,201.0 542.3,201.0 546.9,199.6 551.5,200.3 556.1,199.8 560.7,199.8 565.2,200.3 569.8,199.1 574.4,199.4 579.0,199.0 583.6,197.9 588.2,199.6 592.8,199.6 597.4,199.0 602.0,199.3 606.6,198.7 611.2,198.6 615.8,198.9 620.4,198.9" fill="none" stroke="#ea4a36" stroke-width="0.45" marker-start="url(#bt_square)" marker-mid="url(#bt_square)" marker-end="url(#bt_square)"/>
<polyline points="395.2,261.0 399.8,261.3 404.4,261.7 409.0,258.7 413.6,260.1 418.2,261.5 422.8,262.6 427.4,258.9 432.0,258.3 436.6,257.2 441.2,258.8 445.8,256.2 450.3,258.5 454.9,258.0 459.5,258.2 464.1,256.4 468.7,258.1 473.3,258.2 477.9,258.1 482.5,257.7 487.1,257.4 491.7,256.2 496.3,255.3 500.9,256.3 505.5,256.7 510.1,256.5 514.7,256.1 519.3,256.5 523.9,255.9 528.5,255.9 533.1,255.2 537.7,256.6 542.3,256.4 546.9,257.2 551.5,259.3 556.1,259.2 560.7,258.0 565.2,258.1 569.8,258.8 574.4,257.1 579.0,255.4 583.6,255.0 588.2,254.8 592.8,257.3 597.4,256.3 602.0,254.4 606.6,253.6 611.2,254.7 615.8,254.0 620.4,255.4" fill="none" stroke="#6aeadc" stroke-width="0.45" marker-start="url(#rd_plus)" marker-mid="url(#rd_plus)" marker-end="url(#rd_plus)"/>
<polyline points="395.2,260.6 399.8,260.4 404.4,259.9 409.0,257.9 413.6,258.6 418.2,258.1 422.8,257.5 427.4,256.2 432.0,256.7 436.6,256.5 441.2,255.2 445.8,256.5 450.3,257.5 454.9,259.0 459.5,257.2 464.1,257.6 468.7,258.0 473.3,259.7 477.9,259.1 482.5,259.3 487.1,258.7 491.7,258.3 496.3,257.6 500.9,255.2 505.5,257.1 510.1,257.0 514.7,257.6 519.3,257.6 523.9,257.0 528.5,255.7 533.1,255.9 537.7,255.9 542.3,255.3 546.9,255.6 551.5,256.5 556.1,256.5 560.7,256.3 565.2,258.3 569.8,256.6 574.4,256.3 579.0,255.4 583.6,255.5 588.2,257.4 592.8,257.8 597.4,257.2 602.0,258.4 606.6,256.1 611.2,257.7 615.8,255.1 620.4,255.2" fill="none" stroke="#6aeadc" stroke-width="0.45" marker-start="url(#rd_circle)" marker-mid="url(#rd_circle)" marker-end="url(#rd_circle)"/>
<polyline points="395.2,259.8 399.8,260.2 404.4,258.0 409.0,255.9 413.6,254.9 418.2,259.5 422.8,259.2 427.4,260.6 432.0,259.9 436.6,260.0 441.2,261.5 445.8,261.8 450.3,259.8 454.9,259.5 459.5,259.9 464.1,259.3 468.7,260.3 473.3,258.9 477.9,259.2 482.5,257.7 487.1,260.5 491.7,259.3 496.3,259.6 500.9,260.9 505.5,261.2 510.1,260.1 514.7,258.8 519.3,259.2 523.9,259.2 528.5,259.6 533.1,259.8 537.7,257.0 542.3,256.8 546.9,255.6 551.5,257.3 556.1,257.3 560.7,258.0 565.2,257.0 569.8,257.3 574.4,255.8 579.0,256.7 583.6,258.0 588.2,259.4 592.8,259.8 597.4,258.4 602.0,259.1 606.6,258.9 611.2,257.8 615.8,256.6 620.4,258.8" fill="none" stroke="#6aeadc" stroke-width="0.45" marker-start="url(#rd_star)" marker-mid="url(#rd_star)" marker-end="url(#rd_star)"/>
<polyline points="395.2,260.5 399.8,259.5 404.4,258.7 409.0,259.8 413.6,259.4 418.2,260.6 422.8,258.3 427.4,258.3 432.0,258.4 436.6,257.3 441.2,256.1 445.8,256.8 450.3,256.5 454.9,256.0 459.5,256.4 464.1,257.4 468.7,257.7 473.3,256.1 477.9,255.8 482.5,257.3 487.1,257.4 491.7,256.0 496.3,256.0 500.9,256.9 505.5,258.0 510.1,257.0 514.7,254.5 519.3,255.3 523.9,256.6 528.5,257.4 533.1,255.7 537.7,258.2 542.3,257.9 546.9,257.3 551.5,257.6 556.1,254.5 560.7,254.9 565.2,255.2 569.8,254.3 574.4,255.0 579.0,257.5 583.6,256.6 588.2,257.0 592.8,257.3 597.4,255.3 602.0,256.7 606.6,256.4 611.2,256.2 615.8,255.8 620.4,253.4" fill="none" stroke="#6aeadc" stroke-width="0.45" marker-start="url(#rd_dot)" marker-mid="url(#rd_dot)" marker-end="url(#rd_dot)"/>
<polyline points="395.2,261.1 399.8,259.3 404.4,259.7 409.0,259.4 413.6,257.1 418.2,258.5 422.8,255.6 427.4,253.7 432.0,254.5 436.6,254.5 441.2,254.4 445.8,255.2 450.3,254.8 454.9,257.5 459.5,258.6 464.1,258.3 468.7,257.9 473.3,256.1 477.9,255.4 482.5,254.3 487.1,254.5 491.7,254.7 496.3,254.2 500.9,255.4 505.5,256.3 510.1,256.4 514.7,257.5 519.3,257.0 523.9,256.4 528.5,257.1 533.1,257.2 537.7,257.0 542.3,254.8 546.9,253.2 551.5,254.8 556.1,253.5 560.7,254.1 565.2,255.6 569.8,255.6 574.4,256.2 579.0,256.5 583.6,257.5 588.2,256.3 592.8,257.6 597.4,257.3 602.0,255.7 606.6,253.3 611.2,254.1 615.8,254.4 620.4,253.7" fill="none" stroke="#6aeadc" stroke-width="0.45" marker-start="url(#rd_x)" marker-mid="url(#rd_x)" marker-end="url(#rd_x)"/>
<polyline points="395.2,260.6 399.8,261.4 404.4,261.4 409.0,260.0 413.6,257.7 418.2,257.7 422.8,258.2 427.4,257.8 432.0,258.2 436.6,257.7 441.2,257.9 445.8,258.5 450.3,259.5 454.9,257.8 459.5,257.8 464.1,258.9 468.7,259.5 473.3,258.3 477.9,258.7 482.5,257.7 487.1,256.0 491.7,252.5 496.3,253.7 500.9,253.0 505.5,256.3 510.1,257.2 514.7,256.7 519.3,256.1 523.9,258.1 528.5,256.3 533.1,255.7 537.7,255.6 542.3,255.4 546.9,256.5 551.5,255.3 556.1,255.5 560.7,256.3 565.2,255.8 569.8,257.3 574.4,257.5 579.0,257.6 583.6,256.9 588.2,257.1 592.8,256.6 597.4,258.2 602.0,258.9 606.6,257.4 611.2,257.1 615.8,257.7 620.4,256.9" fill="none" stroke="#6aeadc" stroke-width="0.45" marker-start="url(#rd_square)" marker-mid="url(#rd_square)" marker-end="url(#rd_square)"/>
<polyline points="395.2,260.3 399.8,242.7 404.4,229.0 409.0,219.6 413.6,214.2 418.2,210.2 422.8,206.6 427.4,206.1 432.0,204.0 436.6,201.8 441.2,202.5 445.8,237.8 450.3,208.9 454.9,245.2 459.5,227.7 464.1,242.4 468.7,213.1 473.3,204.1 477.9,205.0 482.5,229.7 487.1,247.1 491.7,242.5 496.3,242.6 500.9,236.1 505.5,247.6 510.1,249.6 514.7,219.5 519.3,221.3 523.9,232.6 528.5,239.6 533.1,238.5 537.7,221.6 542.3,238.8 546.9,242.5 551.5,243.1 556.1,230.7 560.7,246.0 565.2,236.1 569.8,207.5 574.4,215.3 579.0,210.9 583.6,244.2 588.2,255.1 592.8,234.8 597.4,220.4 602.0,215.3 606.6,233.1 611.2,242.0 615.8,217.6 620.4,220.7" fill="none" stroke="#a44ae8" stroke-width="0.45" marker-start="url(#bp_plus)" marker-mid="url(#bp_plus)" marker-end="url(#bp_plus)"/>
<polyline points="395.2,258.8 399.8,237.5 404.4,222.7 409.0,213.4 413.6,209.0 418.2,205.4 422.8,202.7 427.4,201.8 432.0,200.8 436.6,201.6 441.2,201.0 445.8,201.5 450.3,202.9 454.9,209.8 459.5,238.0 464.1,204.1 468.7,225.8 473.3,232.7 477.9,255.1 482.5,245.6 487.1,215.5 491.7,242.8 496.3,221.7 500.9,242.3 505.5,238.1 510.1,210.4 514.7,213.1 519.3,233.0 523.9,209.0 528.5,241.2 533.1,211.9 537.7,234.3 542.3,240.7 546.9,248.2 551.5,250.3 556.1,240.6 560.7,242.0 565.2,229.2 569.8,218.5 574.4,216.4 579.0,245.8 583.6,220.3 588.2,254.1 592.8,210.0 597.4,220.8 602.0,235.1 606.6,249.1 611.2,214.4 615.8,210.2 620.4,234.8" fill="none" stroke="#a44ae8" stroke-width="0.45" marker-start="url(#bp_circle)" marker-mid="url(#bp_circle)" marker-end="url(#bp_circle)"/>
<polyline points="395.2,260.3 399.8,242.9 404.4,228.9 409.0,219.8 413.6,214.6 418.2,211.0 422.8,207.2 427.4,241.9 432.0,205.8 436.6,204.4 441.2,203.5 445.8,201.7 450.3,203.0 454.9,243.2 459.5,249.7 464.1,244.5 468.7,239.9 473.3,204.1 477.9,229.0 482.5,214.7 487.1,221.2 491.7,210.4 496.3,239.6 500.9,215.7 505.5,235.8 510.1,210.0 514.7,247.9 519.3,235.3 523.9,242.4 528.5,215.6 533.1,241.5 537.7,243.0 542.3,245.1 546.9,236.4 551.5,255.1 556.1,236.2 560.7,245.0 565.2,204.8 569.8,244.8 574.4,239.7 579.0,251.0 583.6,208.6 588.2,213.2 592.8,236.2 597.4,249.9 602.0,248.0 606.6,252.9 611.2,252.6 615.8,205.1 620.4,235.1" fill="none" stroke="#a44ae8" stroke-width="0.45" marker-start="url(#bp_star)" marker-mid="url(#bp_star)" marker-end="url(#bp_star)"/>
<polyline points="395.2,261.3 399.8,244.6 404.4,232.3 409.0,222.5 413.6,215.1 418.2,210.6 422.8,207.0 427.4,204.3 432.0,203.3 436.6,203.3 441.2,203.0 445.8,239.8 450.3,214.7 454.9,218.8 459.5,239.6 464.1,247.1 468.7,233.4 473.3,239.0 477.9,208.8 482.5,244.3 487.1,214.4 491.7,235.7 496.3,237.3 500.9,204.1 505.5,208.1 510.1,204.1 514.7,239.2 519.3,248.0 523.9,247.7 528.5,213.0 533.1,239.7 537.7,237.3 542.3,234.0 546.9,255.1 551.5,234.4 556.1,239.3 560.7,246.1 565.2,205.0 569.8,255.1 574.4,255.1 579.0,227.5 583.6,211.0 588.2,216.4 592.8,250.4 597.4,204.9 602.0,249.8 606.6,230.5 611.2,255.1 615.8,217.1 620.4,249.9" fill="none" stroke="#a44ae8" stroke-width="0.45" marker-start="url(#bp_dot)" marker-mid="url(#bp_dot)" marker-end="url(#bp_dot)"/>
<polyline points="395.2,260.8 399.8,243.5 404.4,229.6 409.0,218.7 413.6,212.6 418.2,207.5 422.8,202.9 427.4,203.2 432.0,202.6 436.6,202.8 441.2,201.8 445.8,201.8 450.3,243.2 454.9,245.3 459.5,209.4 464.1,220.2 468.7,236.0 473.3,249.7 477.9,227.5 482.5,212.5 487.1,224.8 491.7,248.1 496.3,246.5 500.9,230.7 505.5,245.4 510.1,218.6 514.7,206.4 519.3,237.9 523.9,226.8 528.5,206.3 533.1,240.4 537.7,247.1 542.3,226.1 546.9,214.7 551.5,223.2 556.1,219.9 560.7,238.2 565.2,213.2 569.8,233.2 574.4,245.2 579.0,211.2 583.6,238.6 588.2,215.9 592.8,243.9 597.4,214.7 602.0,231.4 606.6,239.3 611.2,247.1 615.8,225.6 620.4,247.4" fill="none" stroke="#a44ae8" stroke-width="0.45" marker-start="url(#bp_x)" marker-mid="url(#bp_x)" marker-end="url(#bp_x)"/>
<polyline points="395.2,261.5 399.8,244.6 404.4,230.6 409.0,222.4 413.6,214.3 418.2,209.8 422.8,205.2 427.4,204.5 432.0,203.1 436.6,214.2 441.2,216.8 445.8,248.9 450.3,237.0 454.9,218.2 459.5,207.0 464.1,212.7 468.7,243.8 473.3,222.1 477.9,213.4 482.5,215.9 487.1,232.8 491.7,204.5 496.3,226.5 500.9,213.2 505.5,235.3 510.1,252.5 514.7,244.0 519.3,212.8 523.9,235.6 528.5,212.0 533.1,235.7 537.7,242.5 542.3,213.8 546.9,252.0 551.5,214.2 556.1,218.0 560.7,221.5 565.2,245.3 569.8,249.2 574.4,207.0 579.0,227.6 583.6,211.5 588.2,233.0 592.8,209.8 597.4,249.9 602.0,204.1 606.6,234.3 611.2,221.8 615.8,231.4 620.4,211.2" fill="none" stroke="#a44ae8" stroke-width="0.45" marker-start="url(#bp_square)" marker-mid="url(#bp_square)" marker-end="url(#bp_square)"/>
<polyline points="395.2,259.0 399.8,250.9 404.4,244.0 409.0,237.8 413.6,231.8 418.2,226.7 422.8,222.7 427.4,218.2 432.0,214.4 436.6,211.7 441.2,210.9 445.8,208.6 450.3,206.8 454.9,206.0 459.5,204.0 464.1,203.5 468.7,201.7 473.3,200.3 477.9,199.9 482.5,198.4 487.1,199.2 491.7,197.7 496.3,197.6 500.9,197.7 505.5,197.6 510.1,196.4 514.7,196.6 519.3,196.9 523.9,195.4 528.5,195.8 533.1,194.7 537.7,195.5 542.3,195.6 546.9,196.5 551.5,197.0 556.1,196.8 560.7,197.6 565.2,197.5 569.8,197.6 574.4,197.4 579.0,196.3 583.6,196.4 588.2,196.6 592.8,197.1 597.4,196.5 602.0,196.2 606.6,195.3 611.2,195.4 615.8,195.2 620.4,195.4" fill="none" stroke="#e6e620" stroke-width="0.45" marker-start="url(#qt_plus)" marker-mid="url(#qt_plus)" marker-end="url(#qt_plus)"/>
<polyline points="395.2,259.2 399.8,252.5 404.4,244.6 409.0,238.2 413.6,231.5 418.2,226.3 422.8,222.5 427.4,219.1 432.0,215.1 436.6,212.3 441.2,209.2 445.8,208.0 450.3,204.9 454.9,204.5 459.5,204.8 464.1,203.2 468.7,201.1 473.3,201.1 477.9,201.2 482.5,201.8 487.1,201.3 491.7,200.3 496.3,199.5 500.9,198.7 505.5,197.4 510.1,198.2 514.7,197.4 519.3,197.5 523.9,196.5 528.5,196.6 533.1,196.6 537.7,196.6 542.3,197.3 546.9,197.8 551.5,197.5 556.1,198.0 560.7,196.6 565.2,197.6 569.8,197.2 574.4,197.0 579.0,197.3 583.6,197.4 588.2,197.1 592.8,196.4 597.4,196.5 602.0,196.5 606.6,196.6 611.2,195.0 615.8,196.5 620.4,198.2" fill="none" stroke="#e6e620" stroke-width="0.45" marker-start="url(#qt_circle)" marker-mid="url(#qt_circle)" marker-end="url(#qt_circle)"/>
<polyline points="395.2,259.3 399.8,251.1 404.4,243.4 409.0,236.7 413.6,230.5 418.2,226.4 422.8,222.9 427.4,218.9 432.0,215.7 436.6,213.2 441.2,210.5 445.8,209.1 450.3,207.0 454.9,204.7 459.5,204.3 464.1,203.4 468.7,202.7 473.3,202.5 477.9,200.9 482.5,200.1 487.1,199.9 491.7,198.7 496.3,198.6 500.9,198.0 505.5,198.0 510.1,197.4 514.7,196.5 519.3,197.4 523.9,197.0 528.5,197.0 533.1,197.1 537.7,196.9 542.3,197.0 546.9,196.0 551.5,196.2 556.1,196.3 560.7,195.2 565.2,195.2 569.8,195.9 574.4,196.2 579.0,196.0 583.6,196.2 588.2,196.5 592.8,196.4 597.4,196.8 602.0,195.5 606.6,194.9 611.2,195.8 615.8,195.4 620.4,195.8" fill="none" stroke="#e6e620" stroke-width="0.45" marker-start="url(#qt_star)" marker-mid="url(#qt_star)" marker-end="url(#qt_star)"/>
<polyline points="395.2,261.3 399.8,253.1 404.4,246.0 409.0,239.1 413.6,232.9 418.2,229.4 422.8,224.1 427.4,221.2 432.0,217.1 436.6,213.5 441.2,211.5 445.8,210.2 450.3,208.6 454.9,206.2 459.5,205.7 464.1,205.5 468.7,203.8 473.3,202.8 477.9,202.4 482.5,201.0 487.1,200.1 491.7,199.8 496.3,199.8 500.9,200.0 505.5,199.7 510.1,200.7 514.7,200.8 519.3,200.3 523.9,199.3 528.5,200.2 533.1,199.6 537.7,198.5 542.3,198.4 546.9,198.8 551.5,197.7 556.1,197.2 560.7,196.8 565.2,197.3 569.8,197.9 574.4,198.7 579.0,198.6 583.6,198.5 588.2,198.2 592.8,197.4 597.4,197.4 602.0,197.5 606.6,198.3 611.2,198.6 615.8,198.4 620.4,197.9" fill="none" stroke="#e6e620" stroke-width="0.45" marker-start="url(#qt_dot)" marker-mid="url(#qt_dot)" marker-end="url(#qt_dot)"/>
<polyline points="395.2,260.1 399.8,251.7 404.4,244.6 409.0,239.0 413.6,233.7 418.2,228.3 422.8,224.1 427.4,220.0 432.0,217.5 436.6,214.3 441.2,210.8 445.8,209.3 450.3,208.1 454.9,206.9 459.5,205.7 464.1,204.3 468.7,202.3 473.3,200.9 477.9,201.5 482.5,200.9 487.1,201.0 491.7,200.3 496.3,200.1 500.9,199.1 505.5,198.8 510.1,197.7 514.7,197.6 519.3,196.7 523.9,197.0 528.5,197.8 533.1,196.7 537.7,197.1 542.3,198.4 546.9,197.7 551.5,196.8 556.1,197.5 560.7,197.5 565.2,197.0 569.8,197.1 574.4,197.1 579.0,198.1 583.6,198.5 588.2,198.8 592.8,197.6 597.4,197.2 602.0,197.3 606.6,196.6 611.2,195.7 615.8,196.2 620.4,197.3" fill="none" stroke="#e6e620" stroke-width="0.45" marker-start="url(#qt_x)" marker-mid="url(#qt_x)" marker-end="url(#qt_x)"/>
<polyline points="395.2,260.5 399.8,252.4 404.4,243.5 409.0,235.5 413.6,229.8 418.2,224.8 422.8,219.6 427.4,215.6 432.0,211.7 436.6,208.8 441.2,208.0 445.8,206.5 450.3,205.4 454.9,203.9 459.5,203.6 464.1,202.2 468.7,201.2 473.3,199.9 477.9,198.4 482.5,197.3 487.1,199.0 491.7,198.4 496.3,198.1 500.9,198.7 505.5,197.2 510.1,197.5 514.7,197.0 519.3,196.4 523.9,196.8 528.5,195.8 533.1,197.6 537.7,196.6 542.3,197.5 546.9,196.7 551.5,197.4 556.1,197.4 560.7,196.7 565.2,196.2 569.8,195.3 574.4,194.9 579.0,196.3 583.6,196.7 588.2,196.2 592.8,196.3 597.4,196.9 602.0,196.7 606.6,196.3 611.2,195.9 615.8,195.3 620.4,196.4" fill="none" stroke="#e6e620" stroke-width="0.45" marker-start="url(#qt_square)" marker-mid="url(#qt_square)" marker-end="url(#qt_square)"/>
<polyline points="395.2,260.4 399.8,262.6 404.4,264.9 409.0,266.9 413.6,266.2 418.2,268.6 422.8,268.2 427.4,268.6 432.0,270.4 436.6,270.4 441.2,271.9 445.8,272.7 450.3,273.6 454.9,274.4 459.5,273.6 464.1,274.0 468.7,274.1 473.3,274.5 477.9,272.4 482.5,274.8 487.1,275.0 491.7,274.3 496.3,275.9 500.9,276.4 505.5,275.3 510.1,274.3 514.7,274.3 519.3,273.7 523.9,274.9 528.5,275.9 533.1,275.6 537.7,275.1 542.3,276.8 546.9,275.5 551.5,276.3 556.1,277.9 560.7,276.6 565.2,277.4 569.8,278.5 574.4,277.7 579.0,278.4 583.6,279.3 588.2,277.8 592.8,279.2 597.4,279.0 602.0,277.8 606.6,277.8 611.2,279.1 615.8,279.4 620.4,279.7" fill="none" stroke="#e9b63c" stroke-width="0.45" marker-start="url(#sus_plus)" marker-mid="url(#sus_plus)" marker-end="url(#sus_plus)"/>
<polyline points="395.2,259.6 399.8,261.7 404.4,264.4 409.0,265.2 413.6,266.8 418.2,268.3 422.8,270.4 427.4,269.4 432.0,270.3 436.6,272.2 441.2,273.1 445.8,272.6 450.3,273.2 454.9,273.4 459.5,275.0 464.1,274.2 468.7,276.1 473.3,276.1 477.9,277.7 482.5,276.9 487.1,276.4 491.7,276.6 496.3,276.3 500.9,275.9 505.5,277.3 510.1,277.7 514.7,278.5 519.3,277.2 523.9,279.1 528.5,279.6 533.1,279.5 537.7,279.3 542.3,277.6 546.9,278.6 551.5,278.6 556.1,278.4 560.7,277.7 565.2,278.0 569.8,277.9 574.4,278.0 579.0,277.9 583.6,277.9 588.2,279.5 592.8,278.8 597.4,278.7 602.0,278.8 606.6,278.2 611.2,277.4 615.8,276.6 620.4,277.1" fill="none" stroke="#e9b63c" stroke-width="0.45" marker-start="url(#sus_circle)" marker-mid="url(#sus_circle)" marker-end="url(#sus_circle)"/>
<polyline points="395.2,260.4 399.8,262.9 404.4,261.9 409.0,262.6 413.6,264.0 418.2,264.2 422.8,264.7 427.4,266.1 432.0,266.6 436.6,267.7 441.2,267.8 445.8,269.4 450.3,270.2 454.9,270.6 459.5,270.6 464.1,272.1 468.7,272.2 473.3,273.3 477.9,273.4 482.5,275.2 487.1,276.7 491.7,276.2 496.3,275.6 500.9,276.2 505.5,273.8 510.1,275.3 514.7,276.2 519.3,276.0 523.9,276.3 528.5,275.8 533.1,276.7 537.7,275.7 542.3,277.0 546.9,277.3 551.5,277.1 556.1,277.6 560.7,276.8 565.2,276.6 569.8,276.0 574.4,277.1 579.0,277.1 583.6,277.0 588.2,276.2 592.8,276.3 597.4,276.0 602.0,275.8 606.6,275.1 611.2,275.5 615.8,277.5 620.4,277.6" fill="none" stroke="#e9b63c" stroke-width="0.45" marker-start="url(#sus_star)" marker-mid="url(#sus_star)" marker-end="url(#sus_star)"/>
<polyline points="395.2,259.1 399.8,259.8 404.4,261.6 409.0,263.5 413.6,263.5 418.2,264.9 422.8,266.9 427.4,268.1 432.0,269.3 436.6,270.9 441.2,270.4 445.8,270.0 450.3,269.4 454.9,271.1 459.5,271.1 464.1,270.0 468.7,273.4 473.3,274.7 477.9,275.5 482.5,273.7 487.1,274.0 491.7,274.6 496.3,275.4 500.9,276.2 505.5,277.2 510.1,277.3 514.7,278.2 519.3,277.2 523.9,277.0 528.5,276.9 533.1,275.5 537.7,275.3 542.3,275.6 546.9,275.9 551.5,276.9 556.1,276.3 560.7,276.7 565.2,277.5 569.8,277.8 574.4,277.7 579.0,278.5 583.6,277.7 588.2,275.7 592.8,277.8 597.4,278.6 602.0,278.8 606.6,278.6 611.2,279.3 615.8,278.1 620.4,278.5" fill="none" stroke="#e9b63c" stroke-width="0.45" marker-start="url(#sus_dot)" marker-mid="url(#sus_dot)" marker-end="url(#sus_dot)"/>
<polyline points="395.2,259.5 399.8,258.8 404.4,261.4 409.0,263.8 413.6,263.1 418.2,265.1 422.8,267.3 427.4,269.9 432.0,269.4 436.6,269.8 441.2,271.9 445.8,271.7 450.3,273.5 454.9,272.7 459.5,271.9 464.1,272.4 468.7,271.8 473.3,274.2 477.9,276.1 482.5,274.7 487.1,276.1 491.7,275.9 496.3,274.2 500.9,274.2 505.5,275.0 510.1,275.5 514.7,274.8 519.3,276.1 523.9,275.9 528.5,275.9 533.1,275.9 537.7,276.4 542.3,277.1 546.9,278.2 551.5,276.8 556.1,277.0 560.7,276.1 565.2,275.9 569.8,278.2 574.4,277.2 579.0,277.4 583.6,276.6 588.2,277.6 592.8,276.7 597.4,275.3 602.0,277.7 606.6,277.6 611.2,277.3 615.8,276.5 620.4,276.1" fill="none" stroke="#e9b63c" stroke-width="0.45" marker-start="url(#sus_x)" marker-mid="url(#sus_x)" marker-end="url(#sus_x)"/>
<polyline points="395.2,260.9 399.8,262.9 404.4,264.5 409.0,265.7 413.6,268.5 418.2,268.3 422.8,269.2 427.4,269.3 432.0,269.6 436.6,270.1 441.2,270.6 445.8,271.1 450.3,271.1 454.9,272.9 459.5,275.3 464.1,275.4 468.7,275.5 473.3,275.1 477.9,275.4 482.5,276.2 487.1,275.6 491.7,276.4 496.3,278.0 500.9,279.6 505.5,279.4 510.1,277.0 514.7,277.4 519.3,278.2 523.9,278.2 528.5,279.7 533.1,277.8 537.7,279.2 542.3,279.9 546.9,279.8 551.5,278.3 556.1,277.7 560.7,277.6 565.2,277.7 569.8,279.9 574.4,278.3 579.0,278.3 583.6,279.1 588.2,280.0 592.8,279.3 597.4,280.3 602.0,280.2 606.6,278.3 611.2,279.1 615.8,279.0 620.4,279.3" fill="none" stroke="#e9b63c" stroke-width="0.45" marker-start="url(#sus_square)" marker-mid="url(#sus_square)" marker-end="url(#sus_square)"/>
<polyline points="94.0,422.6 98.6,420.5 103.1,416.5 107.7,422.6 112.3,419.7 116.9,416.4 121.5,422.5 126.0,417.9 130.6,415.5 135.2,418.8 139.8,416.1 144.4,420.1 148.9,420.8 153.5,418.7 158.1,423.1 162.7,417.3 167.3,419.7 171.8,422.8 176.4,417.2 181.0,418.3 185.6,420.6 190.2,421.2 194.7,418.9 199.3,423.4 203.9,422.4 208.5,416.8 213.1,419.0 217.6,416.9 222.2,419.2 226.8,415.8 231.4,422.1 236.0,416.9 240.5,417.4 245.1,416.9 249.7,415.8 254.3,420.3 258.9,419.4 263.4,414.8 268.0,416.5 272.6,417.2 277.2,422.7 281.8,415.0 286.3,418.3 290.9,417.3 295.5,423.4 300.1,418.7 304.7,424.8 309.2,417.7 313.8,419.4 318.4,418.9" fill="none" stroke="#4262ea" stroke-width="0.45" marker-start="url(#rw_plus)" marker-mid="url(#rw_plus)" marker-end="url(#rw_plus)"/>
<polyline points="94.0,425.0 98.6,422.2 103.1,425.9 107.7,421.3 112.3,422.4 116.9,425.3 121.5,419.6 126.0,425.1 130.6,423.7 135.2,426.4 139.8,425.9 144.4,421.0 148.9,416.4 153.5,423.4 158.1,422.6 162.7,422.7 167.3,419.5 171.8,416.3 176.4,421.0 181.0,422.3 185.6,419.5 190.2,420.2 194.7,422.5 199.3,421.7 203.9,423.9 208.5,421.6 213.1,425.2 217.6,418.5 222.2,418.5 226.8,426.9 231.4,426.9 236.0,424.1 240.5,422.4 245.1,419.5 249.7,423.0 254.3,419.6 258.9,425.9 263.4,422.9 268.0,422.6 272.6,424.8 277.2,424.5 281.8,420.7 286.3,421.5 290.9,420.0 295.5,427.1 300.1,418.5 304.7,417.8 309.2,417.1 313.8,422.3 318.4,423.8" fill="none" stroke="#4262ea" stroke-width="0.45" marker-start="url(#rw_circle)" marker-mid="url(#rw_circle)" marker-end="url(#rw_circle)"/>
<polyline points="94.0,422.9 98.6,417.8 103.1,425.8 107.7,421.0 112.3,419.6 116.9,422.6 121.5,422.7 126.0,415.8 130.6,418.8 135.2,422.5 139.8,416.0 144.4,421.1 148.9,422.4 153.5,422.2 158.1,421.7 162.7,418.9 167.3,420.3 171.8,419.6 176.4,421.4 181.0,418.7 185.6,422.0 190.2,419.3 194.7,422.8 199.3,417.6 203.9,418.5 208.5,420.7 213.1,419.7 217.6,421.5 222.2,421.1 226.8,419.6 231.4,417.6 236.0,424.2 240.5,420.9 245.1,418.3 249.7,422.9 254.3,423.3 258.9,417.7 263.4,421.2 268.0,415.6 272.6,418.0 277.2,419.8 281.8,420.3 286.3,420.4 290.9,420.6 295.5,421.1 300.1,423.4 304.7,421.3 309.2,419.3 313.8,422.6 318.4,422.9" fill="none" stroke="#4262ea" stroke-width="0.45" marker-start="url(#rw_star)" marker-mid="url(#rw_star)" marker-end="url(#rw_star)"/>
<polyline points="94.0,424.9 98.6,418.7 103.1,420.6 107.7,423.4 112.3,419.7 116.9,426.3 121.5,420.3 126.0,421.7 130.6,416.6 135.2,420.5 139.8,423.1 144.4,421.5 148.9,423.8 153.5,421.0 158.1,423.1 162.7,420.3 167.3,419.7 171.8,424.8 176.4,418.6 181.0,428.6 185.6,425.2 190.2,420.2 194.7,420.2 199.3,417.4 203.9,422.6 208.5,422.3 213.1,420.1 217.6,423.5 222.2,420.8 226.8,423.5 231.4,423.1 236.0,420.0 240.5,420.7 245.1,424.2 249.7,418.8 254.3,425.5 258.9,421.1 263.4,420.2 268.0,423.2 272.6,425.0 277.2,424.5 281.8,421.6 286.3,417.8 290.9,422.6 295.5,426.6 300.1,423.4 304.7,426.2 309.2,419.0 313.8,420.8 318.4,420.9" fill="none" stroke="#4262ea" stroke-width="0.45" marker-start="url(#rw_dot)" marker-mid="url(#rw_dot)" marker-end="url(#rw_dot)"/>
<polyline points="94.0,426.9 98.6,427.1 103.1,424.7 107.7,424.7 112.3,425.5 116.9,421.8 121.5,426.8 126.0,421.4 130.6,422.7 135.2,426.4 139.8,425.1 144.4,419.5 148.9,423.2 153.5,427.1 158.1,424.4 162.7,425.0 167.3,422.5 171.8,425.7 176.4,422.2 181.0,424.9 185.6,425.6 190.2,421.6 194.7,423.3 199.3,428.3 203.9,423.7 208.5,424.1 213.1,423.3 217.6,421.3 222.2,427.7 226.8,422.6 231.4,425.0 236.0,422.1 240.5,426.3 245.1,423.6 249.7,420.4 254.3,424.1 258.9,422.2 263.4,430.2 268.0,426.8 272.6,426.6 277.2,424.8 281.8,424.7 286.3,422.5 290.9,426.8 295.5,419.5 300.1,419.3 304.7,425.7 309.2,422.3 313.8,419.5 318.4,424.8" fill="none" stroke="#4262ea" stroke-width="0.45" marker-start="url(#rw_x)" marker-mid="url(#rw_x)" marker-end="url(#rw_x)"/>
<polyline points="94.0,423.4 98.6,417.6 103.1,419.9 107.7,420.7 112.3,419.2 116.9,420.7 121.5,417.8 126.0,420.9 130.6,421.3 135.2,422.4 139.8,416.3 144.4,421.5 148.9,423.5 153.5,419.2 158.1,421.8 162.7,419.0 167.3,420.8 171.8,420.4 176.4,420.5 181.0,419.8 185.6,420.9 190.2,422.6 194.7,419.9 199.3,419.4 203.9,424.5 208.5,421.5 213.1,419.9 217.6,418.8 222.2,416.5 226.8,418.3 231.4,418.8 236.0,420.3 240.5,419.7 245.1,420.7 249.7,419.1 254.3,425.3 258.9,420.9 263.4,416.6 268.0,421.9 272.6,423.8 277.2,421.9 281.8,420.9 286.3,418.2 290.9,425.2 295.5,421.2 300.1,417.7 304.7,419.6 309.2,422.5 313.8,417.6 318.4,420.3" fill="none" stroke="#4262ea" stroke-width="0.45" marker-start="url(#rw_square)" marker-mid="url(#rw_square)" marker-end="url(#rw_square)"/>
<polyline points="94.0,423.9 98.6,413.8 103.1,406.8 107.7,399.7 112.3,394.1 116.9,389.3 121.5,384.3 126.0,380.2 130.6,376.2 135.2,372.6 139.8,367.7 144.4,366.9 148.9,364.3 153.5,360.8 158.1,359.4 162.7,357.4 167.3,355.4 171.8,353.8 176.4,352.1 181.0,351.5 185.6,350.5 190.2,350.2 194.7,349.0 199.3,348.4 203.9,348.6 208.5,347.0 213.1,345.6 217.6,344.5 222.2,343.8 226.8,342.5 231.4,342.0 236.0,341.8 240.5,340.6 245.1,340.7 249.7,341.6 254.3,340.5 258.9,340.4 263.4,342.0 268.0,341.8 272.6,342.2 277.2,340.9 281.8,340.8 286.3,342.4 290.9,342.4 295.5,340.1 300.1,340.0 304.7,339.7 309.2,339.9 313.8,339.7 318.4,338.5" fill="none" stroke="#8ee040" stroke-width="0.45" marker-start="url(#lr_plus)" marker-mid="url(#lr_plus)" marker-end="url(#lr_plus)"/>
<polyline points="94.0,423.4 98.6,413.8 103.1,407.0 107.7,399.0 112.3,394.8 116.9,391.6 121.5,386.0 126.0,380.7 130.6,376.0 135.2,373.7 139.8,369.9 144.4,367.0 148.9,362.8 153.5,359.6 158.1,357.8 162.7,357.1 167.3,354.7 171.8,353.2 176.4,351.8 181.0,350.4 185.6,348.3 190.2,348.6 194.7,348.9 199.3,347.2 203.9,345.6 208.5,344.9 213.1,346.1 217.6,345.1 222.2,344.7 226.8,343.8 231.4,342.9 236.0,343.5 240.5,343.2 245.1,343.3 249.7,342.7 254.3,340.9 258.9,341.9 263.4,340.9 268.0,340.4 272.6,341.2 277.2,339.9 281.8,342.4 286.3,339.6 290.9,338.4 295.5,339.2 300.1,340.4 304.7,340.8 309.2,341.4 313.8,338.9 318.4,340.3" fill="none" stroke="#8ee040" stroke-width="0.45" marker-start="url(#lr_circle)" marker-mid="url(#lr_circle)" marker-end="url(#lr_circle)"/>
<polyline points="94.0,423.4 98.6,415.6 103.1,407.1 107.7,401.0 112.3,394.6 116.9,389.7 121.5,386.1 126.0,381.6 130.6,376.9 135.2,372.5 139.8,370.2 144.4,368.2 148.9,365.4 153.5,363.4 158.1,360.9 162.7,359.1 167.3,356.6 171.8,354.4 176.4,354.1 181.0,352.3 185.6,351.6 190.2,349.4 194.7,349.4 199.3,349.3 203.9,349.3 208.5,348.1 213.1,346.9 217.6,346.9 222.2,345.8 226.8,347.5 231.4,345.7 236.0,344.7 240.5,346.1 245.1,343.3 249.7,342.5 254.3,341.7 258.9,340.7 263.4,341.7 268.0,342.9 272.6,340.4 277.2,341.4 281.8,343.2 286.3,344.3 290.9,340.8 295.5,340.7 300.1,340.4 304.7,340.3 309.2,340.0 313.8,338.2 318.4,339.6" fill="none" stroke="#8ee040" stroke-width="0.45" marker-start="url(#lr_star)" marker-mid="url(#lr_star)" marker-end="url(#lr_star)"/>
<polyline points="94.0,422.4 98.6,414.1 103.1,406.5 107.7,398.0 112.3,390.1 116.9,384.7 121.5,380.8 126.0,377.8 130.6,374.4 135.2,369.2 139.8,365.2 144.4,361.3 148.9,360.4 153.5,358.2 158.1,354.9 162.7,353.3 167.3,353.1 171.8,352.4 176.4,352.2 181.0,351.5 185.6,348.0 190.2,348.2 194.7,345.4 199.3,343.9 203.9,343.4 208.5,344.1 213.1,341.4 217.6,341.0 222.2,340.3 226.8,340.8 231.4,342.6 236.0,341.5 240.5,340.6 245.1,342.1 249.7,341.5 254.3,340.9 258.9,342.0 263.4,341.2 268.0,340.8 272.6,340.1 277.2,340.1 281.8,340.4 286.3,340.4 290.9,340.7 295.5,338.9 300.1,338.8 304.7,339.9 309.2,339.9 313.8,338.8 318.4,337.8" fill="none" stroke="#8ee040" stroke-width="0.45" marker-start="url(#lr_dot)" marker-mid="url(#lr_dot)" marker-end="url(#lr_dot)"/>
<polyline points="94.0,424.9 98.6,416.5 103.1,407.1 107.7,400.8 112.3,395.5 116.9,387.1 121.5,382.1 126.0,377.6 130.6,371.7 135.2,371.0 139.8,368.5 144.4,367.2 148.9,364.1 153.5,359.2 158.1,356.8 162.7,354.5 167.3,354.0 171.8,353.3 176.4,352.5 181.0,348.7 185.6,347.9 190.2,346.6 194.7,348.0 199.3,346.2 203.9,347.0 208.5,345.9 213.1,344.3 217.6,343.3 222.2,342.3 226.8,343.0 231.4,343.4 236.0,342.3 240.5,340.6 245.1,340.9 249.7,340.9 254.3,340.7 258.9,341.0 263.4,340.6 268.0,341.1 272.6,341.0 277.2,340.0 281.8,341.2 286.3,340.9 290.9,340.6 295.5,340.3 300.1,340.7 304.7,340.3 309.2,339.5 313.8,338.6 318.4,340.9" fill="none" stroke="#8ee040" stroke-width="0.45" marker-start="url(#lr_x)" marker-mid="url(#lr_x)" marker-end="url(#lr_x)"/>
<polyline points="94.0,423.4 98.6,415.5 103.1,406.9 107.7,401.6 112.3,392.6 116.9,386.2 121.5,382.0 126.0,379.0 130.6,374.3 135.2,369.9 139.8,366.2 144.4,363.0 148.9,359.7 153.5,357.2 158.1,359.0 162.7,354.7 167.3,352.2 171.8,352.0 176.4,350.7 181.0,348.8 185.6,349.5 190.2,346.4 194.7,346.6 199.3,346.0 203.9,346.4 208.5,345.3 213.1,343.0 217.6,341.9 222.2,342.5 226.8,344.7 231.4,344.2 236.0,344.2 240.5,343.4 245.1,344.0 249.7,341.6 254.3,341.1 258.9,341.5 263.4,341.7 268.0,341.4 272.6,340.4 277.2,341.8 281.8,342.0 286.3,341.5 290.9,341.5 295.5,340.4 300.1,340.6 304.7,339.5 309.2,340.6 313.8,341.7 318.4,341.5" fill="none" stroke="#8ee040" stroke-width="0.45" marker-start="url(#lr_square)" marker-mid="url(#lr_square)" marker-end="url(#lr_square)"/>
<polyline points="94.0,427.2 98.6,419.8 103.1,412.7 107.7,405.8 112.3,401.6 116.9,395.0 121.5,389.6 126.0,384.6 130.6,380.3 135.2,377.9 139.8,375.9 144.4,372.4 148.9,369.3 153.5,364.0 158.1,364.1 162.7,363.3 167.3,361.2 171.8,359.9 176.4,359.4 181.0,358.2 185.6,355.4 190.2,354.2 194.7,352.6 199.3,351.8 203.9,349.1 208.5,349.6 213.1,348.8 217.6,349.1 222.2,349.3 226.8,349.4 231.4,349.5 236.0,348.9 240.5,348.4 245.1,348.5 249.7,348.1 254.3,346.7 258.9,347.2 263.4,345.4 268.0,344.5 272.6,344.6 277.2,344.8 281.8,343.5 286.3,342.7 290.9,341.6 295.5,341.3 300.1,342.2 304.7,343.9 309.2,344.3 313.8,345.7 318.4,345.2" fill="none" stroke="#ea4a36" stroke-width="0.45" marker-start="url(#bt_plus)" marker-mid="url(#bt_plus)" marker-end="url(#bt_plus)"/>
<polyline points="94.0,424.2 98.6,414.8 103.1,408.1 107.7,401.6 112.3,395.9 116.9,390.6 121.5,386.2 126.0,382.5 130.6,378.7 135.2,374.3 139.8,371.9 144.4,369.5 148.9,366.6 153.5,362.4 158.1,360.3 162.7,359.0 167.3,356.9 171.8,355.6 176.4,356.9 181.0,355.0 185.6,353.1 190.2,351.3 194.7,350.1 199.3,349.2 203.9,350.5 208.5,350.1 213.1,349.2 217.6,347.1 222.2,347.8 226.8,346.7 231.4,345.8 236.0,344.6 240.5,344.5 245.1,343.8 249.7,344.3 254.3,345.7 258.9,346.7 263.4,345.6 268.0,346.5 272.6,344.4 277.2,343.8 281.8,343.9 286.3,344.5 290.9,344.6 295.5,343.8 300.1,343.8 304.7,345.0 309.2,343.5 313.8,344.0 318.4,344.6" fill="none" stroke="#ea4a36" stroke-width="0.45" marker-start="url(#bt_circle)" marker-mid="url(#bt_circle)" marker-end="url(#bt_circle)"/>
<polyline points="94.0,423.6 98.6,413.6 103.1,406.7 107.7,401.3 112.3,396.3 116.9,391.9 121.5,389.1 126.0,387.0 130.6,384.1 135.2,381.3 139.8,380.2 144.4,378.9 148.9,377.0 153.5,375.0 158.1,373.2 162.7,372.9 167.3,371.2 171.8,371.7 176.4,370.0 181.0,368.5 185.6,365.5 190.2,364.1 194.7,364.3 199.3,362.7 203.9,362.0 208.5,360.9 213.1,359.2 217.6,358.7 222.2,358.6 226.8,357.6 231.4,356.3 236.0,355.4 240.5,355.7 245.1,355.5 249.7,355.3 254.3,354.9 258.9,354.0 263.4,353.2 268.0,353.6 272.6,354.4 277.2,353.7 281.8,354.0 286.3,352.7 290.9,352.5 295.5,352.1 300.1,353.9 304.7,353.5 309.2,352.6 313.8,353.4 318.4,353.0" fill="none" stroke="#ea4a36" stroke-width="0.45" marker-start="url(#bt_star)" marker-mid="url(#bt_star)" marker-end="url(#bt_star)"/>
<polyline points="94.0,422.3 98.6,413.5 103.1,406.3 107.7,400.1 112.3,394.5 116.9,389.8 121.5,385.7 126.0,382.7 130.6,377.8 135.2,373.8 139.8,370.6 144.4,367.3 148.9,364.3 153.5,363.0 158.1,360.8 162.7,358.3 167.3,355.4 171.8,354.7 176.4,353.3 181.0,352.8 185.6,352.0 190.2,349.6 194.7,351.0 199.3,348.6 203.9,348.4 208.5,347.8 213.1,346.9 217.6,346.0 222.2,344.8 226.8,343.7 231.4,342.9 236.0,344.4 240.5,343.9 245.1,343.3 249.7,342.7 254.3,343.8 258.9,342.0 263.4,341.2 268.0,341.6 272.6,339.2 277.2,341.1 281.8,341.5 286.3,341.7 290.9,341.1 295.5,341.7 300.1,342.1 304.7,340.7 309.2,341.0 313.8,340.2 318.4,339.3" fill="none" stroke="#ea4a36" stroke-width="0.45" marker-start="url(#bt_dot)" marker-mid="url(#bt_dot)" marker-end="url(#bt_dot)"/>
<polyline points="94.0,424.2 98.6,414.5 103.1,407.1 107.7,401.6 112.3,395.1 116.9,388.0 121.5,382.3 126.0,379.3 130.6,375.4 135.2,371.7 139.8,370.1 144.4,366.5 148.9,365.3 153.5,363.7 158.1,361.5 162.7,360.0 167.3,357.2 171.8,354.9 176.4,353.8 181.0,352.5 185.6,350.5 190.2,349.3 194.7,346.8 199.3,345.7 203.9,347.4 208.5,347.0 213.1,347.0 217.6,347.2 222.2,345.2 226.8,344.7 231.4,345.3 236.0,343.3 240.5,342.0 245.1,342.6 249.7,342.1 254.3,342.7 258.9,342.6 263.4,343.8 268.0,343.4 272.6,342.7 277.2,343.0 281.8,341.3 286.3,342.3 290.9,341.8 295.5,341.5 300.1,342.9 304.7,341.3 309.2,341.2 313.8,340.4 318.4,340.6" fill="none" stroke="#ea4a36" stroke-width="0.45" marker-start="url(#bt_x)" marker-mid="url(#bt_x)" marker-end="url(#bt_x)"/>
<polyline points="94.0,423.3 98.6,415.6 103.1,408.0 107.7,401.6 112.3,395.7 116.9,389.2 121.5,385.3 126.0,381.0 130.6,377.4 135.2,371.7 139.8,369.3 144.4,367.2 148.9,364.6 153.5,363.7 158.1,359.9 162.7,359.0 167.3,357.9 171.8,355.4 176.4,355.0 181.0,352.1 185.6,351.0 190.2,348.9 194.7,350.2 199.3,349.2 203.9,347.8 208.5,347.8 213.1,345.5 217.6,345.2 222.2,345.2 226.8,344.7 231.4,343.7 236.0,343.7 240.5,343.5 245.1,343.6 249.7,342.9 254.3,342.8 258.9,342.7 263.4,341.6 268.0,342.1 272.6,343.0 277.2,342.8 281.8,342.9 286.3,343.2 290.9,342.0 295.5,341.8 300.1,341.6 304.7,340.4 309.2,340.2 313.8,340.5 318.4,341.1" fill="none" stroke="#ea4a36" stroke-width="0.45" marker-start="url(#bt_square)" marker-mid="url(#bt_square)" marker-end="url(#bt_square)"/>
<polyline points="94.0,422.4 98.6,424.0 103.1,424.7 107.7,428.3 112.3,426.0 116.9,425.7 121.5,427.6 126.0,426.5 130.6,424.1 135.2,432.1 139.8,426.9 144.4,426.4 148.9,426.5 153.5,429.5 158.1,428.5 162.7,428.1 167.3,422.7 171.8,429.5 176.4,425.5 181.0,424.7 185.6,427.7 190.2,422.3 194.7,428.1 199.3,429.7 203.9,428.8 208.5,426.9 213.1,425.1 217.6,430.5 222.2,430.2 226.8,424.7 231.4,426.0 236.0,429.3 240.5,430.9 245.1,432.3 249.7,430.3 254.3,425.5 258.9,429.2 263.4,424.4 268.0,427.3 272.6,431.0 277.2,424.9 281.8,427.3 286.3,427.5 290.9,425.5 295.5,429.0 300.1,419.3 304.7,429.1 309.2,427.8 313.8,427.5 318.4,422.4" fill="none" stroke="#6aeadc" stroke-width="0.45" marker-start="url(#rd_plus)" marker-mid="url(#rd_plus)" marker-end="url(#rd_plus)"/>
<polyline points="94.0,423.2 98.6,425.4 103.1,428.7 107.7,428.5 112.3,430.1 116.9,424.8 121.5,426.9 126.0,429.7 130.6,429.0 135.2,425.6 139.8,431.9 144.4,425.5 148.9,433.3 153.5,427.0 158.1,429.2 162.7,427.0 167.3,428.6 171.8,422.9 176.4,429.0 181.0,429.8 185.6,428.2 190.2,431.0 194.7,432.7 199.3,429.8 203.9,428.9 208.5,431.5 213.1,427.4 217.6,429.8 222.2,425.5 226.8,427.0 231.4,434.9 236.0,428.3 240.5,428.3 245.1,432.6 249.7,426.7 254.3,432.4 258.9,429.6 263.4,429.7 268.0,424.4 272.6,431.2 277.2,426.9 281.8,428.9 286.3,428.8 290.9,432.5 295.5,420.3 300.1,433.2 304.7,429.9 309.2,425.4 313.8,429.3 318.4,427.8" fill="none" stroke="#6aeadc" stroke-width="0.45" marker-start="url(#rd_circle)" marker-mid="url(#rd_circle)" marker-end="url(#rd_circle)"/>
<polyline points="94.0,424.9 98.6,428.8 103.1,428.7 107.7,431.9 112.3,431.8 116.9,431.6 121.5,437.5 126.0,431.6 130.6,426.2 135.2,433.7 139.8,428.0 144.4,430.5 148.9,430.9 153.5,434.4 158.1,427.1 162.7,432.5 167.3,430.1 171.8,428.7 176.4,427.3 181.0,429.6 185.6,430.0 190.2,430.9 194.7,426.9 199.3,434.0 203.9,431.1 208.5,431.3 213.1,429.4 217.6,429.8 222.2,428.9 226.8,432.4 231.4,431.7 236.0,428.1 240.5,425.3 245.1,430.7 249.7,432.0 254.3,428.3 258.9,430.2 263.4,434.7 268.0,426.9 272.6,430.7 277.2,428.2 281.8,432.2 286.3,434.6 290.9,429.9 295.5,429.7 300.1,428.8 304.7,429.1 309.2,425.4 313.8,427.3 318.4,428.9" fill="none" stroke="#6aeadc" stroke-width="0.45" marker-start="url(#rd_star)" marker-mid="url(#rd_star)" marker-end="url(#rd_star)"/>
<polyline points="94.0,424.3 98.6,428.0 103.1,429.7 107.7,429.0 112.3,431.0 116.9,429.1 121.5,428.8 126.0,429.3 130.6,429.8 135.2,431.0 139.8,427.8 144.4,428.1 148.9,432.7 153.5,431.6 158.1,431.6 162.7,431.3 167.3,431.4 171.8,432.3 176.4,434.3 181.0,426.4 185.6,431.5 190.2,430.2 194.7,426.3 199.3,428.2 203.9,426.1 208.5,431.6 213.1,429.3 217.6,426.8 222.2,429.9 226.8,431.5 231.4,428.4 236.0,426.1 240.5,433.8 245.1,427.2 249.7,428.0 254.3,432.4 258.9,431.0 263.4,428.4 268.0,435.0 272.6,430.1 277.2,429.2 281.8,430.6 286.3,430.4 290.9,435.5 295.5,433.8 300.1,430.8 304.7,423.0 309.2,429.5 313.8,428.5 318.4,429.4" fill="none" stroke="#6aeadc" stroke-width="0.45" marker-start="url(#rd_dot)" marker-mid="url(#rd_dot)" marker-end="url(#rd_dot)"/>
<polyline points="94.0,422.8 98.6,422.1 103.1,429.6 107.7,432.3 112.3,429.1 116.9,427.5 121.5,427.6 126.0,431.7 130.6,427.0 135.2,429.0 139.8,423.7 144.4,428.7 148.9,423.7 153.5,432.0 158.1,427.5 162.7,423.2 167.3,424.9 171.8,425.8 176.4,427.5 181.0,426.3 185.6,425.3 190.2,431.7 194.7,425.9 199.3,425.9 203.9,429.9 208.5,426.0 213.1,430.3 217.6,429.4 222.2,426.2 226.8,434.7 231.4,430.0 236.0,431.7 240.5,429.8 245.1,431.5 249.7,429.7 254.3,428.2 258.9,426.9 263.4,426.9 268.0,424.6 272.6,425.2 277.2,425.3 281.8,429.2 286.3,428.0 290.9,426.2 295.5,432.4 300.1,429.6 304.7,428.6 309.2,429.2 313.8,428.0 318.4,428.2" fill="none" stroke="#6aeadc" stroke-width="0.45" marker-start="url(#rd_x)" marker-mid="url(#rd_x)" marker-end="url(#rd_x)"/>
<polyline points="94.0,421.4 98.6,431.1 103.1,430.4 107.7,429.7 112.3,426.6 116.9,424.4 121.5,425.6 126.0,429.2 130.6,425.4 135.2,422.0 139.8,427.7 144.4,427.3 148.9,424.6 153.5,425.4 158.1,429.7 162.7,434.0 167.3,430.7 171.8,423.4 176.4,430.6 181.0,426.6 185.6,427.1 190.2,428.6 194.7,430.4 199.3,428.2 203.9,428.5 208.5,423.5 213.1,426.5 217.6,419.9 222.2,423.6 226.8,425.8 231.4,430.9 236.0,427.0 240.5,428.6 245.1,426.5 249.7,428.6 254.3,428.5 258.9,422.0 263.4,427.1 268.0,426.4 272.6,428.0 277.2,426.3 281.8,422.0 286.3,429.9 290.9,426.7 295.5,427.9 300.1,424.9 304.7,430.5 309.2,422.9 313.8,425.2 318.4,426.0" fill="none" stroke="#6aeadc" stroke-width="0.45" marker-start="url(#rd_square)" marker-mid="url(#rd_square)" marker-end="url(#rd_square)"/>
<polyline points="94.0,425.3 98.6,410.2 103.1,391.5 107.7,376.0 112.3,364.7 116.9,356.4 121.5,350.7 126.0,347.0 130.6,346.2 135.2,343.7 139.8,342.6 144.4,342.7 148.9,340.8 153.5,341.5 158.1,340.8 162.7,356.9 167.3,353.3 171.8,388.3 176.4,365.0 181.0,348.3 185.6,360.8 190.2,357.7 194.7,365.8 199.3,358.1 203.9,355.0 208.5,364.4 213.1,351.4 217.6,400.5 222.2,385.9 226.8,359.8 231.4,355.5 236.0,395.2 240.5,348.5 245.1,348.1 249.7,350.1 254.3,354.7 258.9,351.8 263.4,409.1 268.0,395.8 272.6,411.5 277.2,361.5 281.8,351.2 286.3,398.8 290.9,359.3 295.5,401.4 300.1,355.4 304.7,411.5 309.2,350.2 313.8,349.8 318.4,379.8" fill="none" stroke="#a44ae8" stroke-width="0.45" marker-start="url(#bp_plus)" marker-mid="url(#bp_plus)" marker-end="url(#bp_plus)"/>
<polyline points="94.0,424.5 98.6,412.7 103.1,398.2 107.7,385.1 112.3,371.9 116.9,361.0 121.5,355.1 126.0,353.0 130.6,346.3 135.2,345.2 139.8,344.1 144.4,348.8 148.9,401.0 153.5,367.0 158.1,394.0 162.7,398.0 167.3,389.1 171.8,410.3 176.4,406.8 181.0,367.1 185.6,364.9 190.2,407.6 194.7,348.1 199.3,397.3 203.9,399.6 208.5,403.3 213.1,393.8 217.6,363.1 222.2,394.8 226.8,406.2 231.4,361.1 236.0,359.2 240.5,364.1 245.1,402.3 249.7,410.2 254.3,409.8 258.9,403.2 263.4,348.1 268.0,386.0 272.6,400.4 277.2,396.9 281.8,411.5 286.3,387.7 290.9,410.5 295.5,408.8 300.1,403.2 304.7,402.2 309.2,348.1 313.8,348.1 318.4,411.2" fill="none" stroke="#a44ae8" stroke-width="0.45" marker-start="url(#bp_circle)" marker-mid="url(#bp_circle)" marker-end="url(#bp_circle)"/>
<polyline points="94.0,427.2 98.6,411.7 103.1,392.7 107.7,374.4 112.3,362.1 116.9,355.9 121.5,350.3 126.0,346.3 130.6,343.3 135.2,343.9 139.8,344.2 144.4,343.6 148.9,353.7 153.5,358.1 158.1,361.3 162.7,354.5 167.3,358.3 171.8,356.6 176.4,361.0 181.0,393.3 185.6,354.3 190.2,363.0 194.7,352.9 199.3,357.8 203.9,354.1 208.5,355.4 213.1,378.3 217.6,362.8 222.2,348.1 226.8,398.7 231.4,359.6 236.0,360.3 240.5,400.9 245.1,358.1 249.7,349.2 254.3,358.7 258.9,364.3 263.4,358.1 268.0,401.0 272.6,359.5 277.2,348.1 281.8,392.3 286.3,359.1 290.9,411.5 295.5,388.1 300.1,349.4 304.7,356.5 309.2,361.4 313.8,411.5 318.4,407.6" fill="none" stroke="#a44ae8" stroke-width="0.45" marker-start="url(#bp_star)" marker-mid="url(#bp_star)" marker-end="url(#bp_star)"/>
<polyline points="94.0,424.5 98.6,412.1 103.1,397.2 107.7,379.3 112.3,369.3 116.9,361.8 121.5,354.2 126.0,348.3 130.6,346.5 135.2,347.4 139.8,346.7 144.4,344.8 148.9,345.3 153.5,345.3 158.1,398.2 162.7,404.6 167.3,409.6 171.8,410.9 176.4,406.2 181.0,358.3 185.6,407.1 190.2,384.6 194.7,359.9 199.3,397.1 203.9,411.3 208.5,357.1 213.1,411.2 217.6,368.7 222.2,399.3 226.8,411.5 231.4,402.0 236.0,372.9 240.5,371.2 245.1,348.1 249.7,397.2 254.3,400.0 258.9,406.9 263.4,406.2 268.0,375.6 272.6,359.6 277.2,407.1 281.8,391.1 286.3,398.6 290.9,369.0 295.5,406.9 300.1,394.0 304.7,355.8 309.2,399.0 313.8,407.2 318.4,378.5" fill="none" stroke="#a44ae8" stroke-width="0.45" marker-start="url(#bp_dot)" marker-mid="url(#bp_dot)" marker-end="url(#bp_dot)"/>
<polyline points="94.0,424.4 98.6,413.5 103.1,398.7 107.7,382.9 112.3,372.4 116.9,364.9 121.5,358.3 126.0,352.6 130.6,349.7 135.2,346.1 139.8,346.2 144.4,402.1 148.9,348.1 153.5,411.5 158.1,359.5 162.7,380.6 167.3,353.7 171.8,358.4 176.4,381.7 181.0,355.0 185.6,354.5 190.2,393.7 194.7,356.2 199.3,403.2 203.9,357.0 208.5,358.2 213.1,393.4 217.6,397.2 222.2,360.3 226.8,406.6 231.4,349.6 236.0,359.4 240.5,357.2 245.1,353.9 249.7,368.3 254.3,349.8 258.9,356.0 263.4,399.8 268.0,355.3 272.6,399.1 277.2,362.2 281.8,360.5 286.3,360.0 290.9,382.8 295.5,388.4 300.1,362.6 304.7,353.0 309.2,349.2 313.8,371.7 318.4,387.5" fill="none" stroke="#a44ae8" stroke-width="0.45" marker-start="url(#bp_x)" marker-mid="url(#bp_x)" marker-end="url(#bp_x)"/>
<polyline points="94.0,423.0 98.6,411.2 103.1,395.2 107.7,379.7 112.3,370.4 116.9,361.2 121.5,355.5 126.0,351.1 130.6,347.9 135.2,346.0 139.8,343.3 144.4,343.2 148.9,342.1 153.5,344.9 158.1,402.2 162.7,409.6 167.3,399.8 171.8,351.0 176.4,383.2 181.0,407.5 185.6,410.5 190.2,409.6 194.7,411.5 199.3,411.2 203.9,356.8 208.5,403.9 213.1,410.6 217.6,409.9 222.2,394.4 226.8,394.7 231.4,402.7 236.0,404.5 240.5,395.4 245.1,404.3 249.7,368.6 254.3,378.9 258.9,410.6 263.4,398.6 268.0,384.0 272.6,379.7 277.2,384.8 281.8,362.8 286.3,397.7 290.9,411.5 295.5,405.9 300.1,400.6 304.7,400.4 309.2,400.4 313.8,402.8 318.4,395.5" fill="none" stroke="#a44ae8" stroke-width="0.45" marker-start="url(#bp_square)" marker-mid="url(#bp_square)" marker-end="url(#bp_square)"/>
<polyline points="94.0,423.9 98.6,413.4 103.1,404.9 107.7,396.9 112.3,389.3 116.9,383.4 121.5,378.7 126.0,374.2 130.6,370.1 135.2,366.5 139.8,362.6 144.4,360.1 148.9,358.4 153.5,356.3 158.1,353.0 162.7,351.1 167.3,348.1 171.8,347.3 176.4,345.4 181.0,344.5 185.6,344.1 190.2,343.8 194.7,343.6 199.3,341.8 203.9,341.0 208.5,340.5 213.1,339.7 217.6,340.3 222.2,338.8 226.8,337.7 231.4,338.1 236.0,337.6 240.5,339.2 245.1,339.2 249.7,339.4 254.3,339.4 258.9,337.6 263.4,337.4 268.0,336.7 272.6,337.2 277.2,337.5 281.8,337.5 286.3,337.2 290.9,339.1 295.5,339.1 300.1,340.1 304.7,339.4 309.2,337.0 313.8,337.1 318.4,338.7" fill="none" stroke="#e6e620" stroke-width="0.45" marker-start="url(#qt_plus)" marker-mid="url(#qt_plus)" marker-end="url(#qt_plus)"/>
<polyline points="94.0,422.9 98.6,413.5 103.1,405.7 107.7,396.9 112.3,388.8 116.9,383.5 121.5,377.8 126.0,374.4 130.6,370.3 135.2,367.4 139.8,363.8 144.4,360.1 148.9,358.4 153.5,356.4 158.1,354.5 162.7,353.1 167.3,349.5 171.8,346.8 176.4,346.4 181.0,345.2 185.6,343.3 190.2,342.9 194.7,341.6 199.3,343.7 203.9,343.9 208.5,342.5 213.1,341.0 217.6,339.9 222.2,338.9 226.8,339.0 231.4,338.4 236.0,338.2 240.5,337.7 245.1,338.6 249.7,338.3 254.3,338.2 258.9,337.7 263.4,338.5 268.0,337.0 272.6,336.9 277.2,338.3 281.8,338.0 286.3,337.9 290.9,338.1 295.5,337.6 300.1,337.9 304.7,336.2 309.2,335.3 313.8,335.4 318.4,336.4" fill="none" stroke="#e6e620" stroke-width="0.45" marker-start="url(#qt_circle)" marker-mid="url(#qt_circle)" marker-end="url(#qt_circle)"/>
<polyline points="94.0,422.6 98.6,412.6 103.1,404.9 107.7,395.8 112.3,389.1 116.9,383.8 121.5,379.0 126.0,375.4 130.6,371.3 135.2,367.0 139.8,364.9 144.4,361.7 148.9,359.1 153.5,356.5 158.1,354.7 162.7,352.5 167.3,350.8 171.8,350.7 176.4,348.8 181.0,345.6 185.6,345.8 190.2,345.1 194.7,343.8 199.3,343.1 203.9,342.1 208.5,342.6 213.1,341.1 217.6,341.8 222.2,340.7 226.8,340.8 231.4,340.5 236.0,339.7 240.5,340.1 245.1,337.9 249.7,339.0 254.3,337.1 258.9,335.0 263.4,335.3 268.0,335.9 272.6,336.4 277.2,334.8 281.8,335.1 286.3,335.8 290.9,336.0 295.5,334.4 300.1,334.6 304.7,335.1 309.2,334.6 313.8,335.3 318.4,335.7" fill="none" stroke="#e6e620" stroke-width="0.45" marker-start="url(#qt_star)" marker-mid="url(#qt_star)" marker-end="url(#qt_star)"/>
<polyline points="94.0,421.8 98.6,411.6 103.1,402.1 107.7,394.2 112.3,389.9 116.9,384.2 121.5,378.2 126.0,372.8 130.6,368.2 135.2,363.5 139.8,359.5 144.4,357.1 148.9,354.6 153.5,351.0 158.1,348.2 162.7,346.4 167.3,346.4 171.8,346.6 176.4,343.8 181.0,344.2 185.6,343.6 190.2,342.7 194.7,342.4 199.3,342.1 203.9,340.8 208.5,338.4 213.1,337.7 217.6,337.3 222.2,338.1 226.8,339.3 231.4,339.5 236.0,338.0 240.5,336.8 245.1,335.2 249.7,336.0 254.3,335.4 258.9,336.1 263.4,335.5 268.0,336.6 272.6,336.7 277.2,336.5 281.8,335.8 286.3,337.4 290.9,337.5 295.5,336.3 300.1,336.6 304.7,336.2 309.2,334.9 313.8,335.8 318.4,336.2" fill="none" stroke="#e6e620" stroke-width="0.45" marker-start="url(#qt_dot)" marker-mid="url(#qt_dot)" marker-end="url(#qt_dot)"/>
<polyline points="94.0,423.5 98.6,414.7 103.1,406.5 107.7,398.6 112.3,392.3 116.9,386.4 121.5,380.5 126.0,375.3 130.6,371.1 135.2,368.0 139.8,365.2 144.4,361.8 148.9,357.9 153.5,357.4 158.1,354.8 162.7,352.8 167.3,353.7 171.8,351.1 176.4,348.3 181.0,346.7 185.6,345.7 190.2,345.2 194.7,343.9 199.3,342.9 203.9,343.4 208.5,342.7 213.1,341.7 217.6,340.5 222.2,339.7 226.8,339.8 231.4,339.1 236.0,338.8 240.5,338.1 245.1,337.1 249.7,339.3 254.3,341.0 258.9,340.2 263.4,338.2 268.0,337.0 272.6,336.8 277.2,336.2 281.8,337.5 286.3,337.6 290.9,337.5 295.5,337.6 300.1,337.9 304.7,336.1 309.2,335.6 313.8,337.0 318.4,335.8" fill="none" stroke="#e6e620" stroke-width="0.45" marker-start="url(#qt_x)" marker-mid="url(#qt_x)" marker-end="url(#qt_x)"/>
<polyline points="94.0,423.7 98.6,415.4 103.1,406.5 107.7,400.5 112.3,394.7 116.9,388.8 121.5,383.0 126.0,376.2 130.6,370.8 135.2,367.0 139.8,364.2 144.4,361.7 148.9,358.5 153.5,355.9 158.1,353.6 162.7,351.8 167.3,350.7 171.8,349.7 176.4,348.2 181.0,345.1 185.6,344.5 190.2,343.4 194.7,342.7 199.3,341.1 203.9,339.9 208.5,339.9 213.1,340.3 217.6,341.8 222.2,340.2 226.8,340.1 231.4,340.9 236.0,339.0 240.5,339.5 245.1,337.1 249.7,337.5 254.3,337.6 258.9,337.7 263.4,336.5 268.0,336.5 272.6,335.5 277.2,336.2 281.8,336.3 286.3,335.8 290.9,335.8 295.5,336.5 300.1,336.6 304.7,335.8 309.2,336.2 313.8,336.7 318.4,336.2" fill="none" stroke="#e6e620" stroke-width="0.45" marker-start="url(#qt_square)" marker-mid="url(#qt_square)" marker-end="url(#qt_square)"/>
<polyline points="94.0,426.8 98.6,426.8 103.1,431.6 107.7,427.4 112.3,427.6 116.9,427.4 121.5,430.8 126.0,427.3 130.6,431.4 135.2,426.7 139.8,425.9 144.4,432.1 148.9,434.0 153.5,427.4 158.1,433.5 162.7,434.4 167.3,429.2 171.8,433.0 176.4,432.2 181.0,424.4 185.6,433.8 190.2,434.3 194.7,427.6 199.3,429.4 203.9,426.3 208.5,434.8 213.1,430.2 217.6,427.4 222.2,426.7 226.8,422.9 231.4,425.4 236.0,437.9 240.5,431.2 245.1,426.5 249.7,432.3 254.3,427.7 258.9,427.7 263.4,435.3 268.0,437.9 272.6,429.9 277.2,432.5 281.8,427.7 286.3,426.9 290.9,430.4 295.5,426.5 300.1,430.2 304.7,431.6 309.2,433.2 313.8,427.4 318.4,433.3" fill="none" stroke="#e9b63c" stroke-width="0.45" marker-start="url(#sus_plus)" marker-mid="url(#sus_plus)" marker-end="url(#sus_plus)"/>
<polyline points="94.0,426.0 98.6,426.0 103.1,425.9 107.7,430.1 112.3,426.3 116.9,429.6 121.5,425.0 126.0,425.1 130.6,426.6 135.2,428.7 139.8,431.6 144.4,432.4 148.9,427.1 153.5,424.5 158.1,427.8 162.7,424.5 167.3,423.8 171.8,421.7 176.4,428.7 181.0,430.4 185.6,423.8 190.2,423.6 194.7,422.9 199.3,424.2 203.9,424.6 208.5,427.4 213.1,423.8 217.6,431.3 222.2,432.3 226.8,431.0 231.4,429.9 236.0,426.9 240.5,425.8 245.1,434.4 249.7,426.3 254.3,430.6 258.9,426.1 263.4,423.9 268.0,420.3 272.6,429.6 277.2,431.1 281.8,424.2 286.3,429.9 290.9,432.4 295.5,425.7 300.1,426.6 304.7,426.1 309.2,432.9 313.8,432.0 318.4,429.5" fill="none" stroke="#e9b63c" stroke-width="0.45" marker-start="url(#sus_circle)" marker-mid="url(#sus_circle)" marker-end="url(#sus_circle)"/>
<polyline points="94.0,425.4 98.6,429.5 103.1,432.4 107.7,424.2 112.3,433.2 116.9,431.8 121.5,428.1 126.0,426.5 130.6,420.2 135.2,424.9 139.8,426.7 144.4,430.2 148.9,424.6 153.5,428.9 158.1,422.7 162.7,426.1 167.3,431.2 171.8,425.0 176.4,433.6 181.0,431.3 185.6,424.2 190.2,424.8 194.7,425.3 199.3,428.3 203.9,429.3 208.5,430.1 213.1,426.7 217.6,429.4 222.2,425.1 226.8,433.5 231.4,425.6 236.0,427.5 240.5,433.0 245.1,426.3 249.7,431.8 254.3,428.1 258.9,428.9 263.4,432.0 268.0,423.0 272.6,427.4 277.2,437.3 281.8,427.2 286.3,424.1 290.9,428.2 295.5,429.1 300.1,429.4 304.7,426.2 309.2,428.4 313.8,431.2 318.4,428.0" fill="none" stroke="#e9b63c" stroke-width="0.45" marker-start="url(#sus_star)" marker-mid="url(#sus_star)" marker-end="url(#sus_star)"/>
<polyline points="94.0,425.6 98.6,427.5 103.1,432.0 107.7,422.5 112.3,431.3 116.9,435.6 121.5,425.0 126.0,420.4 130.6,430.1 135.2,428.8 139.8,426.0 144.4,436.4 148.9,432.6 153.5,431.8 158.1,429.2 162.7,424.5 167.3,426.5 171.8,425.5 176.4,421.4 181.0,430.6 185.6,427.2 190.2,427.0 194.7,422.3 199.3,425.6 203.9,430.3 208.5,428.8 213.1,429.4 217.6,428.1 222.2,426.0 226.8,425.3 231.4,429.8 236.0,429.6 240.5,431.6 245.1,426.8 249.7,431.9 254.3,425.8 258.9,429.4 263.4,430.5 268.0,428.9 272.6,426.4 277.2,431.8 281.8,427.5 286.3,428.9 290.9,424.7 295.5,420.2 300.1,433.5 304.7,429.6 309.2,430.1 313.8,428.8 318.4,433.1" fill="none" stroke="#e9b63c" stroke-width="0.45" marker-start="url(#sus_dot)" marker-mid="url(#sus_dot)" marker-end="url(#sus_dot)"/>
<polyline points="94.0,423.6 98.6,416.8 103.1,428.8 107.7,424.7 112.3,425.9 116.9,428.8 121.5,430.9 126.0,428.5 130.6,421.3 135.2,423.7 139.8,428.0 144.4,425.6 148.9,425.0 153.5,423.5 158.1,428.9 162.7,425.2 167.3,428.7 171.8,428.4 176.4,421.8 181.0,427.3 185.6,429.3 190.2,430.0 194.7,431.1 199.3,423.9 203.9,428.1 208.5,427.0 213.1,428.2 217.6,426.1 222.2,423.9 226.8,424.9 231.4,423.0 236.0,424.2 240.5,428.2 245.1,423.5 249.7,432.2 254.3,427.0 258.9,425.9 263.4,424.3 268.0,427.5 272.6,422.9 277.2,426.3 281.8,428.3 286.3,421.6 290.9,423.7 295.5,427.3 300.1,424.6 304.7,430.0 309.2,426.2 313.8,431.6 318.4,425.4" fill="none" stroke="#e9b63c" stroke-width="0.45" marker-start="url(#sus_x)" marker-mid="url(#sus_x)" marker-end="url(#sus_x)"/>
<polyline points="94.0,423.1 98.6,422.1 103.1,432.3 107.7,420.3 112.3,421.9 116.9,425.3 121.5,428.4 126.0,428.6 130.6,425.7 135.2,427.7 139.8,427.1 144.4,421.8 148.9,427.0 153.5,427.1 158.1,427.6 162.7,424.2 167.3,427.2 171.8,425.7 176.4,429.3 181.0,427.4 185.6,425.0 190.2,423.3 194.7,426.0 199.3,428.4 203.9,429.6 208.5,424.5 213.1,430.9 217.6,423.8 222.2,422.4 226.8,425.8 231.4,423.0 236.0,432.0 240.5,426.1 245.1,426.5 249.7,427.8 254.3,425.0 258.9,423.0 263.4,431.0 268.0,427.0 272.6,426.2 277.2,431.4 281.8,427.9 286.3,426.7 290.9,426.3 295.5,425.6 300.1,426.6 304.7,426.0 309.2,421.7 313.8,426.3 318.4,418.9" fill="none" stroke="#e9b63c" stroke-width="0.45" marker-start="url(#sus_square)" marker-mid="url(#sus_square)" marker-end="url(#sus_square)"/>
<path d="M89.3 39.2V144.8H318.7" fill="none" stroke="#666" stroke-width="1"/>
<path d="M89.3 144.8v-2M135.2 144.8v-2M181.1 144.8v-2M226.9 144.8v-2M272.8 144.8v-2M318.7 144.8v-2M89.3 144.8h2M89.3 123.7h2M89.3 102.6h2M89.3 81.4h2M89.3 60.3h2M89.3 39.2h2" fill="none" stroke="#666" stroke-width="0.8"/>
<g font-family='"Liberation Serif", serif' font-size="7.2" fill="#111" stroke="#111" stroke-width="0.18">
<text x="89.7" y="154.6" text-anchor="middle">0</text>
<text x="135.6" y="154.6" text-anchor="middle">10</text>
<text x="181.5" y="154.6" text-anchor="middle">20</text>
<text x="227.3" y="154.6" text-anchor="middle">30</text>
<text x="273.2" y="154.6" text-anchor="middle">40</text>
<text x="319.1" y="154.6" text-anchor="middle">50</text>
<text x="86.8" y="148.3" text-anchor="end">0</text>
<text x="86.8" y="127.2" text-anchor="end">0.5</text>
<text x="86.8" y="106.1" text-anchor="end">1</text>
<text x="86.8" y="84.9" text-anchor="end">1.5</text>
<text x="86.8" y="63.8" text-anchor="end">2</text>
<text x="86.8" y="42.7" text-anchor="end">2.5</text>
<text x="204.0" y="34.0" text-anchor="middle">IEDB</text>
<text x="202.3" y="162.0" text-anchor="middle">generation</text>
<text transform="translate(72.4 92.8) rotate(-90)" text-anchor="middle">fitness</text>
</g>
<text x="73.8" y="25.3" font-family='"Liberation Sans", sans-serif' font-size="28.5" fill="#000">a</text>
<text x="88.8" y="36.1" font-family='"Liberation Serif", serif' font-size="7.2" fill="#111">x 10</text>
<text x="102.4" y="31.6" font-family='"Liberation Serif", serif' font-size="5.3" fill="#111">4</text>
<path d="M389.0 38.9V144.3H618.4" fill="none" stroke="#666" stroke-width="1"/>
<path d="M389.0 144.3v-2M434.9 144.3v-2M480.8 144.3v-2M526.6 144.3v-2M572.5 144.3v-2M618.4 144.3v-2M389.0 144.3h2M389.0 118.0h2M389.0 91.6h2M389.0 65.3h2M389.0 38.9h2" fill="none" stroke="#666" stroke-width="0.8"/>
<g font-family='"Liberation Serif", serif' font-size="7.2" fill="#111" stroke="#111" stroke-width="0.18">
<text x="389.4" y="154.1" text-anchor="middle">0</text>
<text x="435.3" y="154.1" text-anchor="middle">10</text>
<text x="481.2" y="154.1" text-anchor="middle">20</text>
<text x="527.0" y="154.1" text-anchor="middle">30</text>
<text x="572.9" y="154.1" text-anchor="middle">40</text>
<text x="618.8" y="154.1" text-anchor="middle">50</text>
<text x="386.5" y="147.8" text-anchor="end">0</text>
<text x="386.5" y="121.5" text-anchor="end">10</text>
<text x="386.5" y="95.1" text-anchor="end">20</text>
<text x="386.5" y="68.8" text-anchor="end">30</text>
<text x="386.5" y="42.4" text-anchor="end">40</text>
<text x="503.7" y="34.0" text-anchor="middle">SYFPEITHI</text>
<text x="502.0" y="162.0" text-anchor="middle">generation</text>
<text transform="translate(373.8 92.4) rotate(-90)" text-anchor="middle">fitness</text>
</g>
<text x="375.5" y="26.0" font-family='"Liberation Sans", sans-serif' font-size="28.5" fill="#000">b</text>
<path d="M89.4 188.0V293.4H318.8" fill="none" stroke="#666" stroke-width="1"/>
<path d="M89.4 293.4v-2M135.3 293.4v-2M181.2 293.4v-2M227.0 293.4v-2M272.9 293.4v-2M318.8 293.4v-2M89.4 293.4h2M89.4 275.8h2M89.4 258.3h2M89.4 240.7h2M89.4 223.1h2M89.4 205.6h2M89.4 188.0h2" fill="none" stroke="#666" stroke-width="0.8"/>
<g font-family='"Liberation Serif", serif' font-size="7.2" fill="#111" stroke="#111" stroke-width="0.18">
<text x="89.8" y="303.2" text-anchor="middle">0</text>
<text x="135.7" y="303.2" text-anchor="middle">10</text>
<text x="181.6" y="303.2" text-anchor="middle">20</text>
<text x="227.4" y="303.2" text-anchor="middle">30</text>
<text x="273.3" y="303.2" text-anchor="middle">40</text>
<text x="319.2" y="303.2" text-anchor="middle">50</text>
<text x="86.9" y="296.9" text-anchor="end">6</text>
<text x="86.9" y="279.3" text-anchor="end">6.5</text>
<text x="86.9" y="261.8" text-anchor="end">7</text>
<text x="86.9" y="244.2" text-anchor="end">7.5</text>
<text x="86.9" y="226.6" text-anchor="end">8</text>
<text x="86.9" y="209.1" text-anchor="end">8.5</text>
<text x="86.9" y="191.5" text-anchor="end">9</text>
<text x="204.1" y="177.8" text-anchor="middle">SVRMHC</text>
<text x="202.4" y="310.8" text-anchor="middle">generation</text>
<text transform="translate(72.6 241.5) rotate(-90)" text-anchor="middle">fitness</text>
</g>
<text x="74.8" y="175.3" font-family='"Liberation Sans", sans-serif' font-size="28.5" fill="#000">c</text>
<path d="M390.6 187.7V293.4H620.4" fill="none" stroke="#666" stroke-width="1"/>
<path d="M390.6 293.4v-2M436.6 293.4v-2M482.5 293.4v-2M528.5 293.4v-2M574.4 293.4v-2M620.4 293.4v-2M390.6 293.4h2M390.6 267.0h2M390.6 240.5h2M390.6 214.1h2M390.6 187.7h2" fill="none" stroke="#666" stroke-width="0.8"/>
<g font-family='"Liberation Serif", serif' font-size="7.2" fill="#111" stroke="#111" stroke-width="0.18">
<text x="391.0" y="303.2" text-anchor="middle">0</text>
<text x="437.0" y="303.2" text-anchor="middle">10</text>
<text x="482.9" y="303.2" text-anchor="middle">20</text>
<text x="528.9" y="303.2" text-anchor="middle">30</text>
<text x="574.8" y="303.2" text-anchor="middle">40</text>
<text x="620.8" y="303.2" text-anchor="middle">50</text>
<text x="388.1" y="296.9" text-anchor="end">−2</text>
<text x="388.1" y="270.5" text-anchor="end">−1</text>
<text x="388.1" y="244.0" text-anchor="end">0</text>
<text x="388.1" y="217.6" text-anchor="end">1</text>
<text x="388.1" y="191.2" text-anchor="end">2</text>
<text x="505.5" y="177.8" text-anchor="middle">SVMHC</text>
<text x="503.8" y="310.8" text-anchor="middle">generation</text>
<text transform="translate(377.0 241.3) rotate(-90)" text-anchor="middle">fitness</text>
</g>
<text x="376.0" y="175.8" font-family='"Liberation Sans", sans-serif' font-size="28.5" fill="#000">d</text>
<path d="M89.4 332.2V437.9H318.4" fill="none" stroke="#666" stroke-width="1"/>
<path d="M89.4 437.9v-2M135.2 437.9v-2M181.0 437.9v-2M226.8 437.9v-2M272.6 437.9v-2M318.4 437.9v-2M89.4 437.9h2M89.4 420.3h2M89.4 402.7h2M89.4 385.0h2M89.4 367.4h2M89.4 349.8h2M89.4 332.2h2" fill="none" stroke="#666" stroke-width="0.8"/>
<g font-family='"Liberation Serif", serif' font-size="7.2" fill="#111" stroke="#111" stroke-width="0.18">
<text x="89.8" y="447.7" text-anchor="middle">0</text>
<text x="135.6" y="447.7" text-anchor="middle">10</text>
<text x="181.4" y="447.7" text-anchor="middle">20</text>
<text x="227.2" y="447.7" text-anchor="middle">30</text>
<text x="273.0" y="447.7" text-anchor="middle">40</text>
<text x="318.8" y="447.7" text-anchor="middle">50</text>
<text x="86.9" y="441.4" text-anchor="end">7</text>
<text x="86.9" y="423.8" text-anchor="end">8</text>
<text x="86.9" y="406.2" text-anchor="end">9</text>
<text x="86.9" y="388.5" text-anchor="end">10</text>
<text x="86.9" y="370.9" text-anchor="end">11</text>
<text x="86.9" y="353.3" text-anchor="end">12</text>
<text x="86.9" y="335.7" text-anchor="end">13</text>
<text x="203.9" y="321.8" text-anchor="middle">XScore</text>
<text x="202.2" y="455.0" text-anchor="middle">generation</text>
<text transform="translate(73.8 385.8) rotate(-90)" text-anchor="middle">fitness</text>
</g>
<text x="73.8" y="318.5" font-family='"Liberation Sans", sans-serif' font-size="28.5" fill="#000">e</text>
<rect x="390.5" y="313.5" width="152.9" height="131.7" fill="#fff" stroke="#666" stroke-width="1"/>
<g font-family='"Liberation Serif", serif' font-size="7.05" fill="#111" stroke="#111" stroke-width="0.18">
<text x="418.8" y="322.0">roulette wheel selection</text>
<text x="418.8" y="332.0">linear rank selection</text>
<text x="418.8" y="342.0">binary tournament selection</text>
<text x="418.8" y="352.0">random selection</text>
<text x="418.8" y="362.0">best percent selection</text>
<text x="418.8" y="372.1">q tournament selection</text>
<text x="418.8" y="382.1">stochastic universal sampling selection</text>
<text x="418.8" y="392.1">single point cross over</text>
<text x="418.8" y="402.1">double point cross over</text>
<text x="418.8" y="412.1">distance biosector cross over</text>
<text x="418.8" y="422.1">multiple point cross over</text>
<text x="418.8" y="432.1">uniform cross over</text>
<text x="418.8" y="442.1">shuffle cross over</text>
</g>
<path d="M394.7 319.6H415.5" stroke="#8a8ad8" stroke-width="1"/>
<path d="M394.7 329.6H415.5" stroke="#c4e8a0" stroke-width="1"/>
<path d="M394.7 339.6H415.5" stroke="#e09090" stroke-width="1"/>
<path d="M394.7 349.6H415.5" stroke="#b0ece6" stroke-width="1"/>
<path d="M394.7 359.6H415.5" stroke="#a890d8" stroke-width="1"/>
<path d="M394.7 369.7H415.5" stroke="#f0f0a8" stroke-width="1"/>
<path d="M394.7 379.7H415.5" stroke="#dcd2a0" stroke-width="1"/>
<path d="M394.7 389.7H415.5" stroke="#333" stroke-width="0.9"/>
<path d="M403.2 389.7h4.2M405.3 387.6v4.2" stroke="#333" stroke-width="1.0" fill="none"/>
<path d="M394.7 399.7H415.5" stroke="#333" stroke-width="0.9"/>
<circle cx="405.3" cy="399.7" r="2.1" stroke="#333" stroke-width="0.8" fill="none"/>
<path d="M394.7 409.7H415.5" stroke="#333" stroke-width="0.9"/>
<path d="M403.2 409.7h4.2M405.3 407.6v4.2M403.8 408.2l2.9 2.9M403.8 411.2l2.9 -2.9" stroke="#333" stroke-width="1.0" fill="none"/>
<path d="M394.7 419.7H415.5" stroke="#333" stroke-width="0.9"/>
<circle cx="405.3" cy="419.7" r="0.8" fill="#333"/>
<path d="M394.7 429.7H415.5" stroke="#333" stroke-width="0.9"/>
<path d="M403.8 428.2l2.9 2.9M403.8 431.2l2.9 -2.9" stroke="#333" stroke-width="1.0" fill="none"/>
<path d="M394.7 439.7H415.5" stroke="#333" stroke-width="0.9"/>
<rect x="403.4" y="437.8" width="3.8" height="3.8" stroke="#333" stroke-width="0.8" fill="none"/>
</svg>
</body></html>
